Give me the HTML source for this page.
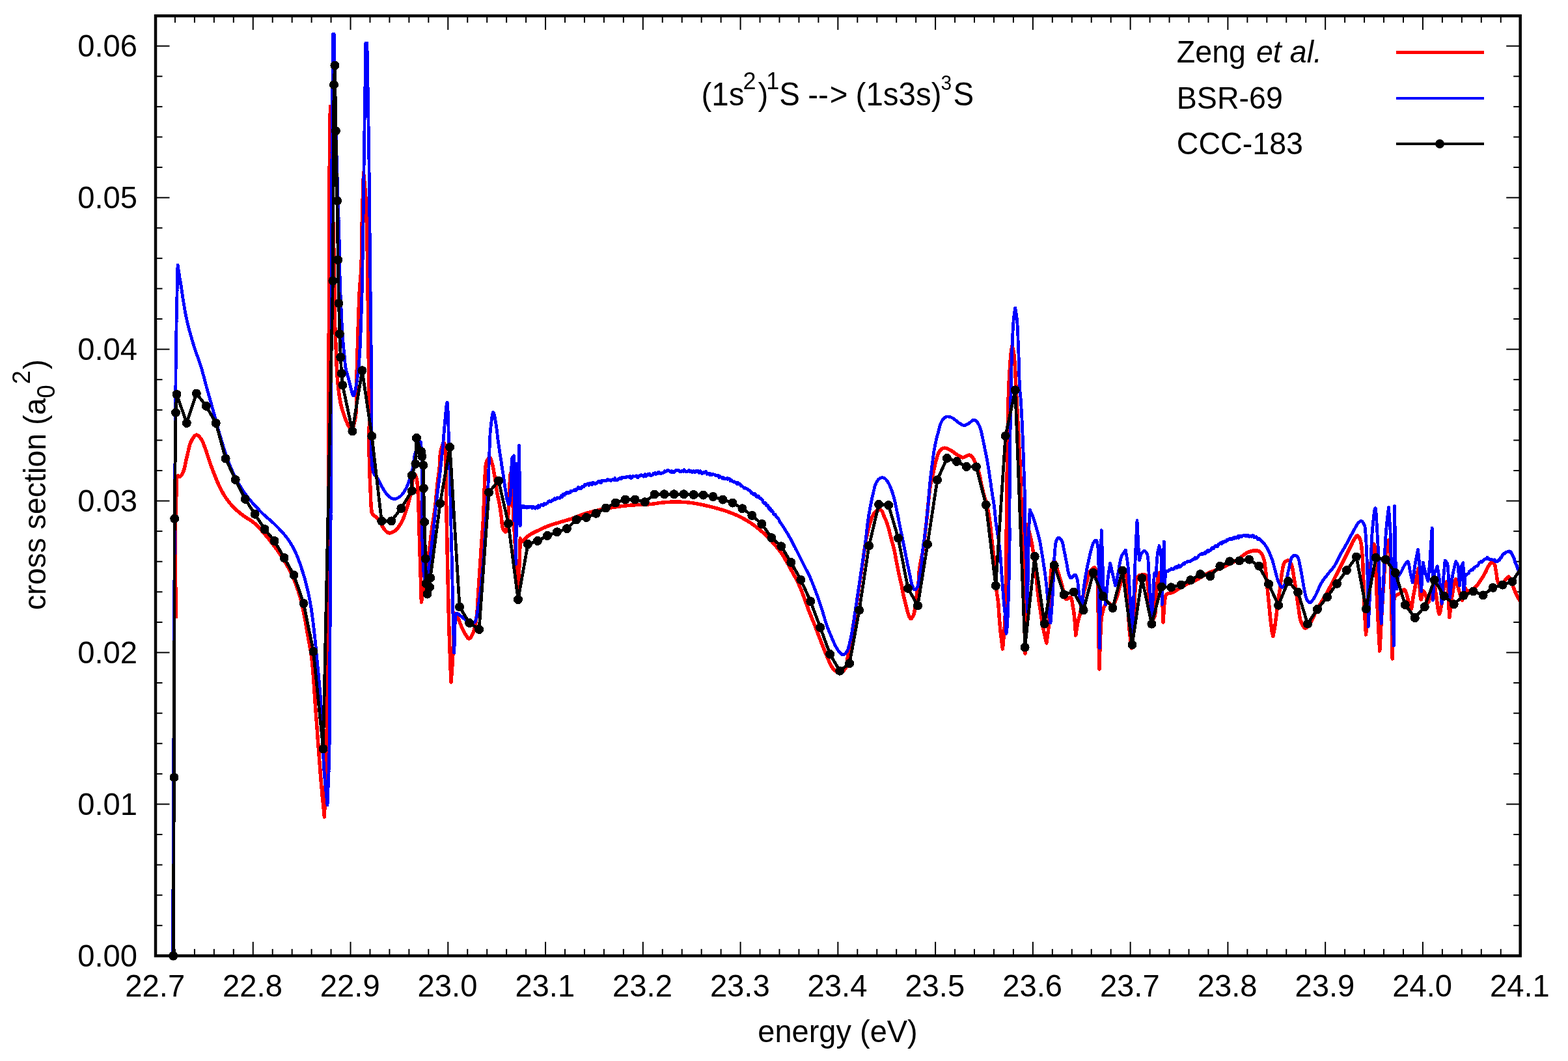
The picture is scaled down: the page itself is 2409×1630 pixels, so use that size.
<!DOCTYPE html>
<html lang="en"><head><meta charset="utf-8"><title>cross section</title>
<style>html,body{margin:0;padding:0;background:#fff}body{width:2409px;height:1630px;overflow:hidden}svg{display:block}text{font-family:"Liberation Sans", Arial, Helvetica, sans-serif;fill:#000}</style></head><body>
<svg width="2409" height="1630" viewBox="0 0 2409 1630">
<rect x="0" y="0" width="2409" height="1630" fill="#fff"/>
<defs><clipPath id="c"><rect x="239.0" y="24.4" width="2096.7" height="1444.1"/></clipPath></defs>
<g id="ticks" stroke="#000" stroke-width="2.0">
<line x1="268.95" y1="1468.40" x2="268.95" y2="1457.90"/>
<line x1="268.95" y1="24.35" x2="268.95" y2="34.85"/>
<line x1="298.91" y1="1468.40" x2="298.91" y2="1457.90"/>
<line x1="298.91" y1="24.35" x2="298.91" y2="34.85"/>
<line x1="328.86" y1="1468.40" x2="328.86" y2="1457.90"/>
<line x1="328.86" y1="24.35" x2="328.86" y2="34.85"/>
<line x1="358.81" y1="1468.40" x2="358.81" y2="1457.90"/>
<line x1="358.81" y1="24.35" x2="358.81" y2="34.85"/>
<line x1="388.76" y1="1468.40" x2="388.76" y2="1446.90"/>
<line x1="388.76" y1="24.35" x2="388.76" y2="45.85"/>
<line x1="418.72" y1="1468.40" x2="418.72" y2="1457.90"/>
<line x1="418.72" y1="24.35" x2="418.72" y2="34.85"/>
<line x1="448.67" y1="1468.40" x2="448.67" y2="1457.90"/>
<line x1="448.67" y1="24.35" x2="448.67" y2="34.85"/>
<line x1="478.62" y1="1468.40" x2="478.62" y2="1457.90"/>
<line x1="478.62" y1="24.35" x2="478.62" y2="34.85"/>
<line x1="508.58" y1="1468.40" x2="508.58" y2="1457.90"/>
<line x1="508.58" y1="24.35" x2="508.58" y2="34.85"/>
<line x1="538.53" y1="1468.40" x2="538.53" y2="1446.90"/>
<line x1="538.53" y1="24.35" x2="538.53" y2="45.85"/>
<line x1="568.48" y1="1468.40" x2="568.48" y2="1457.90"/>
<line x1="568.48" y1="24.35" x2="568.48" y2="34.85"/>
<line x1="598.43" y1="1468.40" x2="598.43" y2="1457.90"/>
<line x1="598.43" y1="24.35" x2="598.43" y2="34.85"/>
<line x1="628.39" y1="1468.40" x2="628.39" y2="1457.90"/>
<line x1="628.39" y1="24.35" x2="628.39" y2="34.85"/>
<line x1="658.34" y1="1468.40" x2="658.34" y2="1457.90"/>
<line x1="658.34" y1="24.35" x2="658.34" y2="34.85"/>
<line x1="688.29" y1="1468.40" x2="688.29" y2="1446.90"/>
<line x1="688.29" y1="24.35" x2="688.29" y2="45.85"/>
<line x1="718.25" y1="1468.40" x2="718.25" y2="1457.90"/>
<line x1="718.25" y1="24.35" x2="718.25" y2="34.85"/>
<line x1="748.20" y1="1468.40" x2="748.20" y2="1457.90"/>
<line x1="748.20" y1="24.35" x2="748.20" y2="34.85"/>
<line x1="778.15" y1="1468.40" x2="778.15" y2="1457.90"/>
<line x1="778.15" y1="24.35" x2="778.15" y2="34.85"/>
<line x1="808.10" y1="1468.40" x2="808.10" y2="1457.90"/>
<line x1="808.10" y1="24.35" x2="808.10" y2="34.85"/>
<line x1="838.06" y1="1468.40" x2="838.06" y2="1446.90"/>
<line x1="838.06" y1="24.35" x2="838.06" y2="45.85"/>
<line x1="868.01" y1="1468.40" x2="868.01" y2="1457.90"/>
<line x1="868.01" y1="24.35" x2="868.01" y2="34.85"/>
<line x1="897.96" y1="1468.40" x2="897.96" y2="1457.90"/>
<line x1="897.96" y1="24.35" x2="897.96" y2="34.85"/>
<line x1="927.92" y1="1468.40" x2="927.92" y2="1457.90"/>
<line x1="927.92" y1="24.35" x2="927.92" y2="34.85"/>
<line x1="957.87" y1="1468.40" x2="957.87" y2="1457.90"/>
<line x1="957.87" y1="24.35" x2="957.87" y2="34.85"/>
<line x1="987.82" y1="1468.40" x2="987.82" y2="1446.90"/>
<line x1="987.82" y1="24.35" x2="987.82" y2="45.85"/>
<line x1="1017.77" y1="1468.40" x2="1017.77" y2="1457.90"/>
<line x1="1017.77" y1="24.35" x2="1017.77" y2="34.85"/>
<line x1="1047.73" y1="1468.40" x2="1047.73" y2="1457.90"/>
<line x1="1047.73" y1="24.35" x2="1047.73" y2="34.85"/>
<line x1="1077.68" y1="1468.40" x2="1077.68" y2="1457.90"/>
<line x1="1077.68" y1="24.35" x2="1077.68" y2="34.85"/>
<line x1="1107.63" y1="1468.40" x2="1107.63" y2="1457.90"/>
<line x1="1107.63" y1="24.35" x2="1107.63" y2="34.85"/>
<line x1="1137.59" y1="1468.40" x2="1137.59" y2="1446.90"/>
<line x1="1137.59" y1="24.35" x2="1137.59" y2="45.85"/>
<line x1="1167.54" y1="1468.40" x2="1167.54" y2="1457.90"/>
<line x1="1167.54" y1="24.35" x2="1167.54" y2="34.85"/>
<line x1="1197.49" y1="1468.40" x2="1197.49" y2="1457.90"/>
<line x1="1197.49" y1="24.35" x2="1197.49" y2="34.85"/>
<line x1="1227.44" y1="1468.40" x2="1227.44" y2="1457.90"/>
<line x1="1227.44" y1="24.35" x2="1227.44" y2="34.85"/>
<line x1="1257.40" y1="1468.40" x2="1257.40" y2="1457.90"/>
<line x1="1257.40" y1="24.35" x2="1257.40" y2="34.85"/>
<line x1="1287.35" y1="1468.40" x2="1287.35" y2="1446.90"/>
<line x1="1287.35" y1="24.35" x2="1287.35" y2="45.85"/>
<line x1="1317.30" y1="1468.40" x2="1317.30" y2="1457.90"/>
<line x1="1317.30" y1="24.35" x2="1317.30" y2="34.85"/>
<line x1="1347.26" y1="1468.40" x2="1347.26" y2="1457.90"/>
<line x1="1347.26" y1="24.35" x2="1347.26" y2="34.85"/>
<line x1="1377.21" y1="1468.40" x2="1377.21" y2="1457.90"/>
<line x1="1377.21" y1="24.35" x2="1377.21" y2="34.85"/>
<line x1="1407.16" y1="1468.40" x2="1407.16" y2="1457.90"/>
<line x1="1407.16" y1="24.35" x2="1407.16" y2="34.85"/>
<line x1="1437.11" y1="1468.40" x2="1437.11" y2="1446.90"/>
<line x1="1437.11" y1="24.35" x2="1437.11" y2="45.85"/>
<line x1="1467.07" y1="1468.40" x2="1467.07" y2="1457.90"/>
<line x1="1467.07" y1="24.35" x2="1467.07" y2="34.85"/>
<line x1="1497.02" y1="1468.40" x2="1497.02" y2="1457.90"/>
<line x1="1497.02" y1="24.35" x2="1497.02" y2="34.85"/>
<line x1="1526.97" y1="1468.40" x2="1526.97" y2="1457.90"/>
<line x1="1526.97" y1="24.35" x2="1526.97" y2="34.85"/>
<line x1="1556.93" y1="1468.40" x2="1556.93" y2="1457.90"/>
<line x1="1556.93" y1="24.35" x2="1556.93" y2="34.85"/>
<line x1="1586.88" y1="1468.40" x2="1586.88" y2="1446.90"/>
<line x1="1586.88" y1="24.35" x2="1586.88" y2="45.85"/>
<line x1="1616.83" y1="1468.40" x2="1616.83" y2="1457.90"/>
<line x1="1616.83" y1="24.35" x2="1616.83" y2="34.85"/>
<line x1="1646.78" y1="1468.40" x2="1646.78" y2="1457.90"/>
<line x1="1646.78" y1="24.35" x2="1646.78" y2="34.85"/>
<line x1="1676.74" y1="1468.40" x2="1676.74" y2="1457.90"/>
<line x1="1676.74" y1="24.35" x2="1676.74" y2="34.85"/>
<line x1="1706.69" y1="1468.40" x2="1706.69" y2="1457.90"/>
<line x1="1706.69" y1="24.35" x2="1706.69" y2="34.85"/>
<line x1="1736.64" y1="1468.40" x2="1736.64" y2="1446.90"/>
<line x1="1736.64" y1="24.35" x2="1736.64" y2="45.85"/>
<line x1="1766.60" y1="1468.40" x2="1766.60" y2="1457.90"/>
<line x1="1766.60" y1="24.35" x2="1766.60" y2="34.85"/>
<line x1="1796.55" y1="1468.40" x2="1796.55" y2="1457.90"/>
<line x1="1796.55" y1="24.35" x2="1796.55" y2="34.85"/>
<line x1="1826.50" y1="1468.40" x2="1826.50" y2="1457.90"/>
<line x1="1826.50" y1="24.35" x2="1826.50" y2="34.85"/>
<line x1="1856.45" y1="1468.40" x2="1856.45" y2="1457.90"/>
<line x1="1856.45" y1="24.35" x2="1856.45" y2="34.85"/>
<line x1="1886.41" y1="1468.40" x2="1886.41" y2="1446.90"/>
<line x1="1886.41" y1="24.35" x2="1886.41" y2="45.85"/>
<line x1="1916.36" y1="1468.40" x2="1916.36" y2="1457.90"/>
<line x1="1916.36" y1="24.35" x2="1916.36" y2="34.85"/>
<line x1="1946.31" y1="1468.40" x2="1946.31" y2="1457.90"/>
<line x1="1946.31" y1="24.35" x2="1946.31" y2="34.85"/>
<line x1="1976.27" y1="1468.40" x2="1976.27" y2="1457.90"/>
<line x1="1976.27" y1="24.35" x2="1976.27" y2="34.85"/>
<line x1="2006.22" y1="1468.40" x2="2006.22" y2="1457.90"/>
<line x1="2006.22" y1="24.35" x2="2006.22" y2="34.85"/>
<line x1="2036.17" y1="1468.40" x2="2036.17" y2="1446.90"/>
<line x1="2036.17" y1="24.35" x2="2036.17" y2="45.85"/>
<line x1="2066.12" y1="1468.40" x2="2066.12" y2="1457.90"/>
<line x1="2066.12" y1="24.35" x2="2066.12" y2="34.85"/>
<line x1="2096.08" y1="1468.40" x2="2096.08" y2="1457.90"/>
<line x1="2096.08" y1="24.35" x2="2096.08" y2="34.85"/>
<line x1="2126.03" y1="1468.40" x2="2126.03" y2="1457.90"/>
<line x1="2126.03" y1="24.35" x2="2126.03" y2="34.85"/>
<line x1="2155.98" y1="1468.40" x2="2155.98" y2="1457.90"/>
<line x1="2155.98" y1="24.35" x2="2155.98" y2="34.85"/>
<line x1="2185.94" y1="1468.40" x2="2185.94" y2="1446.90"/>
<line x1="2185.94" y1="24.35" x2="2185.94" y2="45.85"/>
<line x1="2215.89" y1="1468.40" x2="2215.89" y2="1457.90"/>
<line x1="2215.89" y1="24.35" x2="2215.89" y2="34.85"/>
<line x1="2245.84" y1="1468.40" x2="2245.84" y2="1457.90"/>
<line x1="2245.84" y1="24.35" x2="2245.84" y2="34.85"/>
<line x1="2275.79" y1="1468.40" x2="2275.79" y2="1457.90"/>
<line x1="2275.79" y1="24.35" x2="2275.79" y2="34.85"/>
<line x1="2305.75" y1="1468.40" x2="2305.75" y2="1457.90"/>
<line x1="2305.75" y1="24.35" x2="2305.75" y2="34.85"/>
<line x1="239.00" y1="1421.81" x2="249.50" y2="1421.81"/>
<line x1="2335.70" y1="1421.81" x2="2325.20" y2="1421.81"/>
<line x1="239.00" y1="1375.22" x2="249.50" y2="1375.22"/>
<line x1="2335.70" y1="1375.22" x2="2325.20" y2="1375.22"/>
<line x1="239.00" y1="1328.63" x2="249.50" y2="1328.63"/>
<line x1="2335.70" y1="1328.63" x2="2325.20" y2="1328.63"/>
<line x1="239.00" y1="1282.04" x2="249.50" y2="1282.04"/>
<line x1="2335.70" y1="1282.04" x2="2325.20" y2="1282.04"/>
<line x1="239.00" y1="1235.45" x2="260.50" y2="1235.45"/>
<line x1="2335.70" y1="1235.45" x2="2314.20" y2="1235.45"/>
<line x1="239.00" y1="1188.86" x2="249.50" y2="1188.86"/>
<line x1="2335.70" y1="1188.86" x2="2325.20" y2="1188.86"/>
<line x1="239.00" y1="1142.27" x2="249.50" y2="1142.27"/>
<line x1="2335.70" y1="1142.27" x2="2325.20" y2="1142.27"/>
<line x1="239.00" y1="1095.68" x2="249.50" y2="1095.68"/>
<line x1="2335.70" y1="1095.68" x2="2325.20" y2="1095.68"/>
<line x1="239.00" y1="1049.09" x2="249.50" y2="1049.09"/>
<line x1="2335.70" y1="1049.09" x2="2325.20" y2="1049.09"/>
<line x1="239.00" y1="1002.50" x2="260.50" y2="1002.50"/>
<line x1="2335.70" y1="1002.50" x2="2314.20" y2="1002.50"/>
<line x1="239.00" y1="955.91" x2="249.50" y2="955.91"/>
<line x1="2335.70" y1="955.91" x2="2325.20" y2="955.91"/>
<line x1="239.00" y1="909.32" x2="249.50" y2="909.32"/>
<line x1="2335.70" y1="909.32" x2="2325.20" y2="909.32"/>
<line x1="239.00" y1="862.73" x2="249.50" y2="862.73"/>
<line x1="2335.70" y1="862.73" x2="2325.20" y2="862.73"/>
<line x1="239.00" y1="816.14" x2="249.50" y2="816.14"/>
<line x1="2335.70" y1="816.14" x2="2325.20" y2="816.14"/>
<line x1="239.00" y1="769.55" x2="260.50" y2="769.55"/>
<line x1="2335.70" y1="769.55" x2="2314.20" y2="769.55"/>
<line x1="239.00" y1="722.96" x2="249.50" y2="722.96"/>
<line x1="2335.70" y1="722.96" x2="2325.20" y2="722.96"/>
<line x1="239.00" y1="676.37" x2="249.50" y2="676.37"/>
<line x1="2335.70" y1="676.37" x2="2325.20" y2="676.37"/>
<line x1="239.00" y1="629.78" x2="249.50" y2="629.78"/>
<line x1="2335.70" y1="629.78" x2="2325.20" y2="629.78"/>
<line x1="239.00" y1="583.19" x2="249.50" y2="583.19"/>
<line x1="2335.70" y1="583.19" x2="2325.20" y2="583.19"/>
<line x1="239.00" y1="536.60" x2="260.50" y2="536.60"/>
<line x1="2335.70" y1="536.60" x2="2314.20" y2="536.60"/>
<line x1="239.00" y1="490.01" x2="249.50" y2="490.01"/>
<line x1="2335.70" y1="490.01" x2="2325.20" y2="490.01"/>
<line x1="239.00" y1="443.42" x2="249.50" y2="443.42"/>
<line x1="2335.70" y1="443.42" x2="2325.20" y2="443.42"/>
<line x1="239.00" y1="396.83" x2="249.50" y2="396.83"/>
<line x1="2335.70" y1="396.83" x2="2325.20" y2="396.83"/>
<line x1="239.00" y1="350.24" x2="249.50" y2="350.24"/>
<line x1="2335.70" y1="350.24" x2="2325.20" y2="350.24"/>
<line x1="239.00" y1="303.65" x2="260.50" y2="303.65"/>
<line x1="2335.70" y1="303.65" x2="2314.20" y2="303.65"/>
<line x1="239.00" y1="257.06" x2="249.50" y2="257.06"/>
<line x1="2335.70" y1="257.06" x2="2325.20" y2="257.06"/>
<line x1="239.00" y1="210.47" x2="249.50" y2="210.47"/>
<line x1="2335.70" y1="210.47" x2="2325.20" y2="210.47"/>
<line x1="239.00" y1="163.88" x2="249.50" y2="163.88"/>
<line x1="2335.70" y1="163.88" x2="2325.20" y2="163.88"/>
<line x1="239.00" y1="117.29" x2="249.50" y2="117.29"/>
<line x1="2335.70" y1="117.29" x2="2325.20" y2="117.29"/>
<line x1="239.00" y1="70.70" x2="260.50" y2="70.70"/>
<line x1="2335.70" y1="70.70" x2="2314.20" y2="70.70"/>
</g>
<g id="curves" shape-rendering="crispEdges">
<g clip-path="url(#c)">
<path d="M270.4 950.0 L269.6 890.0 L269.4 815.0 L271.5 735.0 L272.1 733.4 L272.7 731.9 L273.5 731.0 L274.8 731.7 L276.2 732.5 L277.2 731.9 L278.3 730.8 L279.3 729.3 L280.3 727.4 L281.2 725.5 L281.8 724.1 L282.4 722.5 L282.9 720.8 L283.4 719.0 L283.9 717.0 L284.3 715.0 L284.8 712.9 L285.2 710.8 L285.7 708.6 L286.1 706.5 L286.6 704.4 L287.0 702.4 L287.5 700.5 L288.0 698.5 L288.5 696.6 L288.9 694.5 L289.4 692.5 L289.8 690.5 L290.3 688.5 L290.8 686.6 L291.3 684.7 L291.8 682.9 L292.4 681.1 L293.0 679.5 L293.8 678.0 L294.7 676.1 L295.8 674.2 L297.0 672.3 L298.2 670.7 L299.4 669.3 L300.6 668.4 L301.8 668.0 L303.2 668.3 L304.6 669.3 L306.1 670.8 L307.5 672.5 L308.8 674.2 L309.7 675.6 L310.5 677.1 L311.3 678.8 L312.1 680.5 L312.8 682.3 L313.5 684.1 L314.3 686.1 L315.0 688.0 L315.6 689.7 L316.3 691.4 L316.9 693.2 L317.5 695.1 L318.1 697.0 L318.7 699.0 L319.4 700.9 L320.0 702.9 L320.6 704.8 L321.2 706.8 L321.9 708.7 L322.5 710.5 L323.2 712.4 L323.8 714.2 L324.5 716.1 L325.2 717.9 L325.9 719.8 L326.5 721.6 L327.2 723.4 L327.9 725.2 L328.6 727.0 L329.3 728.7 L330.0 730.5 L330.7 732.3 L331.4 734.1 L332.2 735.9 L332.9 737.6 L333.6 739.4 L334.3 741.1 L335.1 742.8 L335.9 744.6 L336.7 746.3 L337.5 748.0 L338.3 749.6 L339.1 751.2 L340.0 752.9 L340.9 754.5 L341.7 756.1 L342.6 757.7 L343.6 759.3 L344.5 760.9 L345.5 762.5 L346.5 764.0 L347.5 765.5 L348.6 767.1 L349.8 768.7 L351.0 770.2 L352.2 771.8 L353.4 773.3 L354.7 774.8 L356.0 776.3 L357.3 777.7 L358.6 779.1 L360.0 780.5 L361.4 781.9 L362.8 783.2 L364.3 784.5 L365.8 785.8 L367.3 787.0 L368.8 788.3 L370.4 789.5 L371.9 790.7 L373.5 791.8 L375.0 793.0 L376.5 794.1 L378.0 795.1 L379.5 796.0 L381.0 797.0 L382.5 797.9 L384.1 798.8 L385.6 799.8 L387.1 800.8 L388.5 801.8 L390.0 803.0 L391.4 804.2 L392.8 805.4 L394.1 806.7 L395.5 808.0 L396.8 809.3 L398.1 810.7 L399.4 812.2 L400.8 813.7 L402.1 815.2 L403.5 816.8 L405.0 818.5 L406.1 819.8 L407.2 821.1 L408.4 822.5 L409.5 823.9 L410.7 825.3 L412.0 826.8 L413.2 828.4 L414.4 829.9 L415.7 831.5 L416.9 833.1 L418.2 834.8 L419.5 836.4 L420.7 838.0 L421.9 839.7 L423.2 841.3 L424.4 843.0 L425.6 844.6 L426.7 846.2 L427.8 847.8 L428.9 849.4 L430.0 851.0 L431.1 852.7 L432.2 854.3 L433.3 856.0 L434.3 857.6 L435.4 859.3 L436.4 860.9 L437.4 862.5 L438.4 864.2 L439.4 865.8 L440.4 867.5 L441.3 869.2 L442.2 870.8 L443.1 872.5 L444.0 874.2 L444.9 875.9 L445.8 877.6 L446.7 879.3 L447.5 881.0 L448.3 882.7 L449.1 884.5 L449.9 886.3 L450.7 888.0 L451.5 889.8 L452.2 891.6 L453.0 893.4 L453.7 895.2 L454.4 897.1 L455.1 898.9 L455.7 900.7 L456.4 902.5 L457.0 904.4 L457.6 906.2 L458.3 908.0 L458.9 909.8 L459.4 911.7 L460.0 913.5 L460.6 915.4 L461.1 917.3 L461.6 919.2 L462.1 921.1 L462.6 923.0 L463.1 924.9 L463.5 926.8 L463.9 928.7 L464.3 930.6 L464.7 932.5 L465.1 934.4 L465.5 936.3 L465.9 938.2 L466.3 940.2 L466.7 942.1 L467.1 944.1 L467.5 946.0 L467.9 947.9 L468.3 949.8 L468.6 951.8 L469.0 953.7 L469.4 955.7 L469.7 957.7 L470.1 959.7 L470.4 961.6 L470.8 963.6 L471.1 965.6 L471.5 967.6 L471.8 969.5 L472.1 971.5 L472.4 973.4 L472.8 975.3 L473.1 977.2 L473.4 979.1 L473.8 981.0 L474.1 983.0 L474.4 984.9 L474.8 986.7 L475.1 988.5 L475.5 990.2 L475.8 992.0 L476.1 993.7 L476.5 995.5 L476.8 997.3 L477.1 999.2 L477.4 1001.1 L477.8 1003.2 L478.1 1005.3 L478.4 1007.6 L478.7 1010.0 L478.9 1011.7 L479.1 1013.5 L479.3 1015.4 L479.5 1017.3 L479.7 1019.2 L479.9 1021.2 L480.1 1023.3 L480.3 1025.4 L480.5 1027.6 L480.7 1029.8 L480.9 1032.1 L481.0 1034.4 L481.2 1036.7 L481.4 1039.1 L481.6 1041.5 L481.8 1043.9 L481.9 1046.4 L482.1 1048.8 L482.3 1051.3 L482.5 1053.9 L482.6 1056.4 L482.8 1059.0 L483.0 1061.6 L483.2 1064.1 L483.3 1066.7 L483.5 1069.3 L483.7 1071.9 L483.9 1074.6 L484.0 1077.2 L484.2 1079.8 L484.4 1082.3 L484.6 1084.9 L484.7 1087.5 L484.9 1090.1 L485.1 1092.6 L485.3 1095.1 L485.5 1097.6 L485.6 1100.1 L485.8 1102.6 L486.0 1105.0 L486.2 1107.5 L486.4 1110.0 L486.6 1112.6 L486.8 1115.1 L487.0 1117.7 L487.2 1120.3 L487.4 1122.9 L487.5 1125.6 L487.7 1128.2 L487.9 1130.9 L488.1 1133.5 L488.3 1136.2 L488.5 1138.9 L488.7 1141.6 L488.9 1144.2 L489.1 1146.9 L489.3 1149.6 L489.5 1152.3 L489.7 1154.9 L489.9 1157.6 L490.1 1160.2 L490.3 1162.8 L490.5 1165.5 L490.7 1168.1 L490.9 1170.6 L491.1 1173.2 L491.3 1175.7 L491.5 1178.3 L491.7 1180.8 L491.9 1183.2 L492.0 1185.7 L492.2 1188.1 L492.4 1190.4 L492.6 1192.8 L492.8 1195.1 L493.0 1197.4 L493.2 1199.6 L493.3 1201.8 L493.5 1203.9 L493.7 1206.0 L493.9 1208.3 L494.1 1210.5 L494.3 1212.7 L494.5 1214.8 L494.7 1216.9 L494.9 1219.0 L495.1 1221.0 L495.2 1223.0 L495.4 1224.9 L495.6 1226.9 L495.8 1228.8 L496.0 1230.7 L496.2 1232.5 L496.4 1234.4 L496.5 1236.2 L496.7 1238.1 L496.9 1239.9 L497.1 1241.8 L497.3 1243.6 L497.5 1245.5 L497.7 1247.3 L497.8 1249.2 L498.0 1251.1 L498.2 1253.1 L498.4 1255.0 L498.5 1252.6 L498.6 1250.3 L498.6 1247.9 L498.7 1245.6 L498.8 1243.3 L498.9 1241.0 L499.0 1238.6 L499.0 1236.3 L499.1 1234.0 L499.2 1231.8 L499.3 1229.5 L499.4 1227.2 L499.5 1224.9 L499.5 1222.6 L499.6 1220.3 L499.7 1218.0 L499.8 1215.7 L499.9 1213.5 L500.0 1211.2 L500.0 1208.9 L500.1 1206.5 L500.2 1204.2 L500.3 1201.9 L500.4 1199.6 L500.4 1197.2 L500.5 1194.8 L500.6 1192.5 L500.7 1190.1 L500.7 1187.7 L500.8 1185.3 L500.9 1182.8 L501.0 1180.4 L501.0 1177.9 L501.1 1175.4 L501.2 1172.9 L501.2 1170.4 L501.3 1167.8 L501.4 1165.2 L501.4 1162.6 L501.5 1160.0 L501.6 1156.7 L501.6 1153.3 L501.7 1149.9 L501.8 1146.5 L501.9 1143.0 L501.9 1139.5 L502.0 1136.0 L502.1 1132.5 L502.1 1128.9 L502.2 1125.4 L502.2 1121.8 L502.3 1118.1 L502.3 1114.5 L502.4 1110.8 L502.5 1107.1 L502.5 1103.4 L502.6 1099.7 L502.6 1095.9 L502.7 1092.2 L502.7 1088.4 L502.8 1084.6 L502.8 1080.8 L502.8 1076.9 L502.9 1073.1 L502.9 1069.2 L503.0 1065.3 L503.0 1061.5 L503.1 1057.5 L503.1 1053.6 L503.1 1049.7 L503.2 1045.8 L503.2 1041.8 L503.2 1037.9 L503.3 1033.9 L503.3 1029.9 L503.4 1026.0 L503.4 1022.0 L503.4 1018.0 L503.5 1014.0 L503.5 1010.0 L503.5 1005.4 L503.6 1000.8 L503.6 996.1 L503.6 991.5 L503.7 986.8 L503.7 982.0 L503.7 977.3 L503.8 972.5 L503.8 967.7 L503.8 962.8 L503.8 958.0 L503.9 953.1 L503.9 948.2 L503.9 943.3 L503.9 938.4 L503.9 933.5 L504.0 928.5 L504.0 923.6 L504.0 918.6 L504.0 913.6 L504.0 908.7 L504.0 903.7 L504.0 898.7 L504.1 893.7 L504.1 888.7 L504.1 883.6 L504.1 878.6 L504.1 873.6 L504.1 868.6 L504.1 863.6 L504.2 858.6 L504.2 853.6 L504.2 848.6 L504.2 843.7 L504.2 838.7 L504.2 833.7 L504.2 828.8 L504.3 823.8 L504.3 818.9 L504.3 814.0 L504.3 809.1 L504.3 804.2 L504.4 799.3 L504.4 794.4 L504.4 789.5 L504.4 784.6 L504.4 779.7 L504.4 774.8 L504.5 769.9 L504.5 765.0 L504.5 760.1 L504.5 755.2 L504.5 750.3 L504.6 745.4 L504.6 740.5 L504.6 735.6 L504.6 730.7 L504.6 725.8 L504.7 720.9 L504.7 716.0 L504.7 711.1 L504.7 706.2 L504.7 701.3 L504.7 696.4 L504.8 691.5 L504.8 686.6 L504.8 681.7 L504.8 676.8 L504.8 671.9 L504.8 667.0 L504.9 662.1 L504.9 657.2 L504.9 652.3 L504.9 647.4 L504.9 642.5 L504.9 637.6 L505.0 632.7 L505.0 627.8 L505.0 622.9 L505.0 618.0 L505.0 613.1 L505.0 608.2 L505.0 603.3 L505.1 598.4 L505.1 593.5 L505.1 588.6 L505.1 583.7 L505.1 578.8 L505.1 573.9 L505.1 569.0 L505.1 564.1 L505.1 559.2 L505.2 554.3 L505.2 549.4 L505.2 544.5 L505.2 539.6 L505.2 534.7 L505.2 529.8 L505.2 524.9 L505.2 520.0 L505.2 515.1 L505.3 510.2 L505.3 505.3 L505.3 500.4 L505.3 495.5 L505.3 490.6 L505.3 485.7 L505.3 480.8 L505.3 475.9 L505.3 471.0 L505.4 466.1 L505.4 461.2 L505.4 456.3 L505.4 451.4 L505.4 446.5 L505.4 441.6 L505.4 436.7 L505.5 431.8 L505.5 426.9 L505.5 422.0 L505.5 417.1 L505.5 412.1 L505.6 407.0 L505.6 401.9 L505.6 396.8 L505.6 391.6 L505.6 386.3 L505.7 381.1 L505.7 375.8 L505.7 370.4 L505.7 365.1 L505.7 359.8 L505.8 354.4 L505.8 349.1 L505.8 343.7 L505.8 338.4 L505.9 333.0 L505.9 327.7 L505.9 322.4 L505.9 317.2 L505.9 312.0 L506.0 306.8 L506.0 301.6 L506.0 296.5 L506.0 291.5 L506.1 286.5 L506.1 281.6 L506.1 276.8 L506.2 272.0 L506.2 267.3 L506.2 262.7 L506.2 258.2 L506.3 253.8 L506.3 249.5 L506.3 245.3 L506.4 241.2 L506.4 237.2 L506.4 233.3 L506.5 229.6 L506.5 226.0 L506.5 223.5 L506.5 221.1 L506.6 218.8 L506.6 216.5 L506.6 214.3 L506.7 212.1 L506.7 210.0 L506.7 207.9 L506.7 205.9 L506.8 203.9 L506.8 201.9 L506.8 200.0 L506.8 198.1 L506.9 196.2 L506.9 194.4 L506.9 192.6 L507.0 190.8 L507.0 189.0 L507.0 187.2 L507.1 185.4 L507.1 183.6 L507.1 181.9 L507.1 180.1 L507.2 178.3 L507.2 176.5 L507.2 174.7 L507.3 172.9 L507.3 171.1 L507.3 169.2 L507.3 167.3 L507.4 165.4 L507.4 163.5 L507.4 165.4 L507.5 167.4 L507.5 169.3 L507.6 171.2 L507.6 173.1 L507.7 175.0 L507.7 176.9 L507.8 178.8 L507.8 180.6 L507.9 182.5 L507.9 184.4 L508.0 186.2 L508.0 188.1 L508.1 190.0 L508.1 191.9 L508.2 193.8 L508.2 195.7 L508.3 197.6 L508.3 199.5 L508.4 201.4 L508.4 203.3 L508.5 205.3 L508.5 207.3 L508.6 209.3 L508.6 211.3 L508.7 213.3 L508.7 215.4 L508.8 217.4 L508.8 219.5 L508.9 221.7 L508.9 223.8 L509.0 226.0 L509.1 228.3 L509.1 230.6 L509.2 233.0 L509.2 235.4 L509.3 237.8 L509.4 240.2 L509.4 242.7 L509.5 245.2 L509.5 247.7 L509.6 250.3 L509.7 252.9 L509.7 255.5 L509.8 258.1 L509.8 260.7 L509.9 263.4 L510.0 266.0 L510.0 268.7 L510.1 271.4 L510.2 274.1 L510.2 276.8 L510.3 279.5 L510.4 282.2 L510.4 284.9 L510.5 287.6 L510.6 290.3 L510.6 293.0 L510.7 295.7 L510.8 298.4 L510.8 301.1 L510.9 303.8 L510.9 306.5 L511.0 309.2 L511.1 311.8 L511.1 314.5 L511.2 317.1 L511.3 319.7 L511.3 322.3 L511.4 324.9 L511.4 327.5 L511.5 330.0 L511.6 332.4 L511.6 334.7 L511.7 337.1 L511.7 339.5 L511.8 341.9 L511.8 344.3 L511.9 346.7 L512.0 349.1 L512.0 351.4 L512.1 353.8 L512.1 356.2 L512.2 358.6 L512.3 361.0 L512.3 363.3 L512.4 365.7 L512.4 368.1 L512.5 370.4 L512.5 372.8 L512.6 375.1 L512.7 377.5 L512.7 379.8 L512.8 382.1 L512.8 384.5 L512.9 386.8 L512.9 389.1 L513.0 391.4 L513.0 393.6 L513.1 395.9 L513.1 398.2 L513.2 400.4 L513.2 402.6 L513.3 404.8 L513.3 407.0 L513.4 409.2 L513.4 411.4 L513.5 413.6 L513.5 415.7 L513.5 417.8 L513.6 419.9 L513.6 422.0 L513.6 424.1 L513.7 426.2 L513.7 428.3 L513.7 430.4 L513.7 432.4 L513.8 434.5 L513.8 436.5 L513.8 438.5 L513.8 440.5 L513.8 442.5 L513.8 444.5 L513.8 446.4 L513.8 448.4 L513.8 450.3 L513.9 452.3 L513.9 454.2 L513.9 456.1 L513.9 458.0 L513.9 459.9 L513.9 461.8 L513.9 463.7 L513.9 465.5 L513.9 467.4 L514.0 469.3 L514.0 471.1 L514.0 473.0 L514.0 474.8 L514.1 476.7 L514.1 478.5 L514.1 480.3 L514.2 482.2 L514.2 484.0 L514.2 486.0 L514.3 488.0 L514.4 490.0 L514.4 492.0 L514.5 494.0 L514.5 495.9 L514.6 497.8 L514.7 499.8 L514.7 501.7 L514.8 503.6 L514.9 505.5 L515.0 507.4 L515.0 509.3 L515.1 511.2 L515.2 513.1 L515.3 515.0 L515.3 516.9 L515.4 518.8 L515.5 520.7 L515.6 522.6 L515.7 524.5 L515.8 526.4 L515.8 528.3 L515.9 530.2 L516.0 532.1 L516.1 534.0 L516.2 535.9 L516.3 537.9 L516.3 539.8 L516.4 541.8 L516.5 543.8 L516.6 545.7 L516.6 547.7 L516.7 549.7 L516.8 551.7 L516.9 553.7 L517.0 555.7 L517.0 557.6 L517.1 559.6 L517.2 561.6 L517.3 563.5 L517.4 565.5 L517.5 567.4 L517.6 569.3 L517.7 571.2 L517.8 573.1 L517.9 575.0 L518.0 576.8 L518.2 578.7 L518.3 580.5 L518.4 582.3 L518.6 584.0 L518.8 586.1 L519.0 588.1 L519.2 590.2 L519.4 592.3 L519.6 594.3 L519.8 596.3 L520.1 598.3 L520.3 600.3 L520.5 602.2 L520.8 604.1 L521.0 606.0 L521.3 607.9 L521.6 609.7 L521.8 611.4 L522.1 613.2 L522.4 614.8 L522.7 616.4 L523.0 618.0 L523.4 620.0 L523.8 622.0 L524.3 623.8 L524.7 625.5 L525.2 627.2 L525.7 628.8 L526.2 630.5 L526.7 632.2 L527.3 634.0 L527.9 635.7 L528.5 637.5 L529.1 639.4 L529.8 641.2 L530.5 643.1 L531.2 645.0 L531.9 646.8 L532.6 648.5 L533.4 650.1 L534.1 651.6 L534.8 653.0 L535.8 654.9 L536.9 656.9 L538.0 658.5 L539.0 659.7 L540.0 660.0 L540.6 659.7 L541.2 658.9 L541.8 657.7 L542.4 656.3 L543.0 654.5 L543.6 652.6 L544.1 650.4 L544.6 648.2 L545.1 645.8 L545.6 643.4 L546.0 641.1 L546.4 638.8 L546.7 636.7 L546.9 635.0 L547.1 633.3 L547.3 631.6 L547.4 629.8 L547.4 627.9 L547.5 626.1 L547.5 624.2 L547.6 622.2 L547.5 620.3 L547.5 618.3 L547.5 616.3 L547.5 614.4 L547.4 612.4 L547.4 610.4 L547.3 608.4 L547.3 606.4 L547.3 604.4 L547.3 602.5 L547.3 600.5 L547.3 598.6 L547.3 596.7 L547.4 594.7 L547.4 592.7 L547.5 590.8 L547.5 588.9 L547.6 586.9 L547.7 585.0 L547.7 583.1 L547.8 581.2 L547.9 579.3 L547.9 577.4 L548.0 575.5 L548.1 573.5 L548.2 571.6 L548.2 569.6 L548.3 567.5 L548.4 565.5 L548.5 563.4 L548.5 561.2 L548.6 559.0 L548.7 557.3 L548.7 555.5 L548.8 553.8 L548.8 551.9 L548.9 550.1 L548.9 548.2 L549.0 546.3 L549.0 544.4 L549.1 542.5 L549.1 540.5 L549.2 538.6 L549.2 536.6 L549.3 534.6 L549.4 532.6 L549.4 530.6 L549.5 528.5 L549.5 526.5 L549.6 524.5 L549.6 522.5 L549.7 520.4 L549.8 518.4 L549.8 516.4 L549.9 514.4 L549.9 512.4 L550.0 510.4 L550.0 508.4 L550.1 506.5 L550.2 504.5 L550.2 502.6 L550.3 500.7 L550.3 498.8 L550.4 497.0 L550.5 495.0 L550.5 493.0 L550.6 490.9 L550.7 488.9 L550.7 486.9 L550.8 484.9 L550.9 482.9 L550.9 480.9 L551.0 478.9 L551.1 476.9 L551.1 475.0 L551.2 473.0 L551.3 471.1 L551.3 469.1 L551.4 467.2 L551.5 465.3 L551.5 463.4 L551.6 461.5 L551.7 459.6 L551.8 457.8 L551.9 455.9 L551.9 454.1 L552.0 452.3 L552.1 450.5 L552.2 448.7 L552.3 447.0 L552.4 445.0 L552.5 443.0 L552.7 441.1 L552.8 439.3 L553.0 437.5 L553.1 435.7 L553.3 434.0 L553.4 432.3 L553.6 430.5 L553.7 428.8 L553.9 427.0 L554.0 425.2 L554.2 423.3 L554.3 421.4 L554.4 419.5 L554.6 417.4 L554.7 415.3 L554.8 413.0 L554.9 411.4 L554.9 409.7 L555.0 407.9 L555.1 406.1 L555.1 404.3 L555.2 402.4 L555.2 400.5 L555.3 398.6 L555.4 396.6 L555.4 394.6 L555.4 392.5 L555.5 390.5 L555.5 388.4 L555.6 386.2 L555.6 384.1 L555.6 381.9 L555.7 379.8 L555.7 377.6 L555.7 375.4 L555.8 373.1 L555.8 370.9 L555.8 368.7 L555.9 366.5 L555.9 364.2 L555.9 362.0 L556.0 359.8 L556.0 357.5 L556.0 355.3 L556.1 353.1 L556.1 350.9 L556.1 348.7 L556.2 346.5 L556.2 344.4 L556.2 342.2 L556.3 340.1 L556.3 338.1 L556.4 336.0 L556.4 334.0 L556.5 332.0 L556.5 330.0 L556.6 327.9 L556.6 325.8 L556.7 323.8 L556.7 321.7 L556.8 319.7 L556.8 317.7 L556.9 315.7 L557.0 313.7 L557.0 311.7 L557.1 309.7 L557.1 307.7 L557.2 305.8 L557.3 303.8 L557.3 301.9 L557.4 299.9 L557.4 298.0 L557.5 296.0 L557.6 294.1 L557.6 292.2 L557.7 290.2 L557.8 288.3 L557.8 286.4 L557.9 284.4 L557.9 282.5 L558.0 280.6 L558.1 278.6 L558.1 276.7 L558.2 274.8 L558.3 272.8 L558.3 270.9 L558.4 268.9 L558.4 267.0 L558.5 265.0 L558.7 266.9 L558.8 268.8 L559.0 270.6 L559.2 272.5 L559.4 274.3 L559.6 276.2 L559.7 278.0 L559.9 279.9 L560.1 281.7 L560.3 283.6 L560.5 285.4 L560.6 287.3 L560.8 289.2 L561.0 291.1 L561.1 293.0 L561.3 295.0 L561.4 297.0 L561.6 299.0 L561.7 301.0 L561.8 302.8 L561.9 304.6 L562.0 306.3 L562.1 308.1 L562.2 310.0 L562.3 311.8 L562.4 313.6 L562.4 315.5 L562.5 317.4 L562.6 319.2 L562.6 321.1 L562.7 323.0 L562.8 324.9 L562.8 326.9 L562.9 328.8 L563.0 330.8 L563.0 332.7 L563.1 334.7 L563.1 336.7 L563.2 338.7 L563.2 340.7 L563.3 342.7 L563.3 344.8 L563.4 346.8 L563.4 348.9 L563.5 351.0 L563.5 352.8 L563.6 354.6 L563.6 356.4 L563.7 358.3 L563.7 360.1 L563.8 361.9 L563.8 363.8 L563.9 365.6 L563.9 367.5 L563.9 369.4 L564.0 371.3 L564.0 373.1 L564.0 375.1 L564.1 377.0 L564.1 378.9 L564.2 380.8 L564.2 382.8 L564.2 384.7 L564.3 386.7 L564.3 388.7 L564.3 390.6 L564.4 392.6 L564.4 394.7 L564.4 396.7 L564.5 398.7 L564.5 400.8 L564.5 402.8 L564.5 404.9 L564.6 407.0 L564.6 409.1 L564.6 411.2 L564.7 413.3 L564.7 415.5 L564.7 417.6 L564.8 419.8 L564.8 422.0 L564.8 424.5 L564.9 427.0 L564.9 429.6 L564.9 432.2 L565.0 434.9 L565.0 437.6 L565.0 440.3 L565.1 443.0 L565.1 445.8 L565.1 448.6 L565.2 451.4 L565.2 454.2 L565.2 457.1 L565.2 460.0 L565.3 462.8 L565.3 465.7 L565.3 468.6 L565.4 471.6 L565.4 474.5 L565.4 477.4 L565.4 480.3 L565.5 483.3 L565.5 486.2 L565.5 489.1 L565.5 492.1 L565.6 495.0 L565.6 497.9 L565.6 500.8 L565.7 503.7 L565.7 506.5 L565.7 509.4 L565.7 512.2 L565.8 515.0 L565.8 517.8 L565.8 520.6 L565.9 523.3 L565.9 526.0 L565.9 528.7 L566.0 531.4 L566.0 534.0 L566.0 536.2 L566.1 538.5 L566.1 540.7 L566.1 542.9 L566.2 545.1 L566.2 547.2 L566.2 549.4 L566.3 551.5 L566.3 553.7 L566.3 555.8 L566.4 557.9 L566.4 560.0 L566.5 562.1 L566.5 564.2 L566.5 566.3 L566.6 568.4 L566.6 570.5 L566.6 572.5 L566.7 574.6 L566.7 576.7 L566.8 578.7 L566.8 580.8 L566.8 582.8 L566.9 584.9 L566.9 586.9 L566.9 589.0 L567.0 591.0 L567.0 593.1 L567.0 595.1 L567.1 597.2 L567.1 599.2 L567.1 601.3 L567.1 603.4 L567.2 605.4 L567.2 607.5 L567.2 609.6 L567.2 611.7 L567.3 613.8 L567.3 615.9 L567.3 618.0 L567.3 620.2 L567.3 622.3 L567.3 624.5 L567.3 626.7 L567.3 629.0 L567.3 631.2 L567.3 633.4 L567.3 635.7 L567.3 637.9 L567.3 640.2 L567.3 642.5 L567.3 644.7 L567.3 647.0 L567.3 649.3 L567.3 651.6 L567.3 653.8 L567.2 656.1 L567.2 658.4 L567.2 660.6 L567.2 662.9 L567.2 665.2 L567.2 667.4 L567.2 669.6 L567.2 671.9 L567.1 674.1 L567.1 676.3 L567.1 678.4 L567.1 680.6 L567.1 682.8 L567.1 684.9 L567.1 687.0 L567.1 689.1 L567.1 691.2 L567.2 693.2 L567.2 695.3 L567.2 697.3 L567.2 699.2 L567.2 701.2 L567.3 703.1 L567.3 705.0 L567.3 707.2 L567.4 709.3 L567.4 711.5 L567.5 713.6 L567.6 715.7 L567.6 717.8 L567.7 719.9 L567.8 722.0 L567.8 724.0 L567.9 726.0 L568.0 728.0 L568.1 730.0 L568.2 731.9 L568.2 733.9 L568.3 735.8 L568.4 737.6 L568.5 739.5 L568.6 741.3 L568.7 743.1 L568.7 744.9 L568.8 746.7 L568.9 748.4 L569.0 750.1 L569.1 751.8 L569.1 753.4 L569.2 755.0 L569.3 757.2 L569.4 759.4 L569.4 761.6 L569.5 763.7 L569.6 765.8 L569.6 767.8 L569.7 769.7 L569.8 771.6 L569.9 773.4 L570.0 775.2 L570.1 776.9 L570.2 778.5 L570.4 780.0 L570.6 782.0 L570.8 783.8 L571.0 785.6 L571.2 787.2 L571.7 788.7 L572.3 790.0 L573.6 791.4 L575.2 792.5 L576.9 793.6 L578.5 795.0 L579.6 796.3 L580.7 797.8 L581.8 799.4 L582.9 801.1 L584.0 802.8 L585.0 804.5 L586.0 806.0 L587.0 807.7 L588.0 809.4 L588.9 811.1 L589.9 812.6 L591.0 814.0 L592.2 815.3 L593.5 816.6 L594.9 817.7 L596.4 818.6 L597.9 819.0 L599.5 818.9 L601.3 818.4 L603.2 817.6 L605.1 816.5 L606.9 815.3 L608.5 814.0 L609.7 812.8 L610.9 811.6 L612.0 810.1 L613.1 808.6 L614.1 807.1 L615.1 805.4 L616.1 803.7 L617.0 802.0 L617.8 800.4 L618.6 798.7 L619.3 797.0 L620.1 795.3 L620.7 793.5 L621.4 791.7 L622.1 789.8 L622.7 787.9 L623.3 786.0 L624.0 784.0 L624.6 782.2 L625.2 780.4 L625.7 778.6 L626.3 776.7 L626.9 774.8 L627.4 772.9 L628.0 771.0 L628.5 769.0 L629.0 767.1 L629.5 765.1 L630.0 763.1 L630.5 761.0 L631.0 759.0 L631.4 757.1 L631.8 754.9 L632.1 752.6 L632.5 750.1 L632.8 747.6 L633.1 745.0 L633.5 742.5 L633.8 740.0 L634.1 737.6 L634.4 735.4 L634.7 733.4 L635.0 731.6 L635.4 730.2 L635.7 729.0 L636.1 728.3 L636.5 728.0 L637.3 728.5 L638.2 729.9 L639.0 731.9 L639.7 734.0 L640.1 735.4 L640.4 736.9 L640.7 738.5 L640.9 740.2 L641.1 742.0 L641.3 744.0 L641.4 746.0 L641.5 748.1 L641.7 750.4 L641.8 752.6 L642.0 755.0 L642.1 756.5 L642.2 758.0 L642.3 759.6 L642.4 761.2 L642.5 762.9 L642.5 764.6 L642.6 766.3 L642.7 768.1 L642.8 769.9 L642.8 771.8 L642.9 773.6 L642.9 775.6 L643.0 777.5 L643.1 779.5 L643.1 781.5 L643.2 783.5 L643.2 785.6 L643.3 787.6 L643.3 789.7 L643.4 791.9 L643.4 794.0 L643.5 796.2 L643.6 798.3 L643.6 800.5 L643.7 802.8 L643.7 805.0 L643.8 807.2 L643.9 809.5 L643.9 811.7 L644.0 814.0 L644.1 816.4 L644.2 818.8 L644.2 821.2 L644.3 823.7 L644.4 826.2 L644.5 828.8 L644.5 831.4 L644.6 834.0 L644.7 836.6 L644.8 839.3 L644.9 842.0 L645.0 844.7 L645.0 847.5 L645.1 850.3 L645.2 853.1 L645.3 855.9 L645.4 858.7 L645.5 861.6 L645.6 864.4 L645.7 867.3 L645.7 870.2 L645.8 873.1 L645.9 876.0 L646.0 878.9 L646.1 881.8 L646.2 884.8 L646.3 887.7 L646.4 890.6 L646.4 893.5 L646.5 896.4 L646.6 899.3 L646.7 902.2 L646.8 905.1 L646.9 908.0 L647.0 910.9 L647.1 913.7 L647.1 916.6 L647.2 919.4 L647.3 922.2 L647.4 925.0 L647.7 923.0 L648.0 921.0 L648.3 919.0 L648.6 917.0 L649.0 915.0 L649.3 913.0 L649.6 911.0 L649.9 908.9 L650.3 906.9 L650.6 904.9 L650.9 902.8 L651.2 900.8 L651.6 898.8 L651.9 896.7 L652.2 894.7 L652.5 892.7 L652.8 890.6 L653.2 888.6 L653.5 886.6 L653.8 884.6 L654.1 882.6 L654.4 880.6 L654.7 878.6 L655.0 876.7 L655.3 874.7 L655.6 872.8 L655.9 870.9 L656.2 869.0 L656.5 867.1 L656.8 865.2 L657.0 863.4 L657.3 861.6 L657.5 859.8 L657.8 858.0 L658.1 855.9 L658.4 853.8 L658.7 851.8 L658.9 849.7 L659.2 847.7 L659.4 845.7 L659.7 843.8 L659.9 841.8 L660.2 839.9 L660.4 837.9 L660.6 836.0 L660.9 834.1 L661.1 832.2 L661.3 830.4 L661.5 828.5 L661.8 826.7 L662.0 824.8 L662.2 823.0 L662.5 821.2 L662.7 819.4 L662.9 817.6 L663.2 815.8 L663.4 814.0 L663.7 812.0 L664.0 810.0 L664.2 808.1 L664.5 806.2 L664.8 804.3 L665.1 802.4 L665.4 800.5 L665.7 798.7 L666.0 796.8 L666.3 795.0 L666.6 793.1 L666.8 791.3 L667.1 789.4 L667.4 787.6 L667.6 785.7 L667.9 783.8 L668.2 781.9 L668.4 780.0 L668.6 778.1 L668.9 776.1 L669.1 774.1 L669.3 772.2 L669.5 770.1 L669.7 768.1 L669.9 766.1 L670.1 764.1 L670.2 762.1 L670.4 760.0 L670.6 758.0 L670.8 756.0 L671.0 754.1 L671.2 752.1 L671.3 750.2 L671.5 748.3 L671.7 746.4 L671.9 744.6 L672.1 742.8 L672.3 740.7 L672.6 738.7 L672.8 736.7 L673.1 734.7 L673.3 732.8 L673.6 730.9 L673.8 729.1 L674.1 727.2 L674.3 725.3 L674.6 723.5 L674.8 721.6 L675.0 719.7 L675.2 717.8 L675.4 715.9 L675.5 713.9 L675.6 711.9 L675.7 709.9 L675.8 707.8 L675.8 705.8 L675.9 703.8 L676.0 701.8 L676.2 699.9 L676.3 698.1 L676.5 696.3 L676.8 694.5 L677.1 692.9 L677.7 690.6 L678.4 688.1 L679.1 685.6 L679.9 683.4 L680.7 681.6 L681.4 680.4 L682.0 680.0 L682.4 680.3 L682.7 681.1 L683.0 682.3 L683.2 683.9 L683.4 685.8 L683.6 688.0 L683.8 690.3 L683.9 692.8 L684.1 695.3 L684.2 697.9 L684.4 700.4 L684.5 702.8 L684.6 705.0 L684.7 706.8 L684.8 708.6 L684.9 710.5 L684.9 712.4 L685.0 714.4 L685.0 716.4 L685.0 718.4 L685.1 720.4 L685.1 722.4 L685.1 724.5 L685.1 726.5 L685.1 728.6 L685.1 730.6 L685.1 732.7 L685.1 734.7 L685.1 736.8 L685.2 738.8 L685.2 740.8 L685.2 742.8 L685.2 744.8 L685.3 746.7 L685.3 748.7 L685.3 750.7 L685.4 752.7 L685.4 754.6 L685.4 756.6 L685.4 758.6 L685.5 760.5 L685.5 762.5 L685.5 764.5 L685.6 766.4 L685.6 768.4 L685.6 770.3 L685.7 772.3 L685.7 774.2 L685.7 776.2 L685.8 778.1 L685.8 780.0 L685.8 781.9 L685.9 783.8 L685.9 785.6 L685.9 787.4 L686.0 789.1 L686.0 790.9 L686.0 792.6 L686.1 794.4 L686.1 796.1 L686.2 797.9 L686.2 799.7 L686.2 801.6 L686.3 803.5 L686.3 805.4 L686.4 807.4 L686.4 809.5 L686.5 811.7 L686.5 814.0 L686.5 815.7 L686.6 817.5 L686.6 819.3 L686.6 821.1 L686.7 823.0 L686.7 824.9 L686.8 826.9 L686.8 828.9 L686.8 831.0 L686.9 833.1 L686.9 835.2 L687.0 837.4 L687.0 839.5 L687.1 841.7 L687.1 844.0 L687.1 846.2 L687.2 848.5 L687.2 850.8 L687.3 853.1 L687.3 855.4 L687.4 857.7 L687.4 860.1 L687.5 862.4 L687.5 864.7 L687.6 867.1 L687.6 869.4 L687.7 871.8 L687.7 874.1 L687.8 876.4 L687.8 878.8 L687.9 881.1 L687.9 883.4 L688.0 885.7 L688.0 887.9 L688.1 890.2 L688.1 892.4 L688.2 894.6 L688.2 896.7 L688.3 898.9 L688.3 901.0 L688.3 903.0 L688.4 905.1 L688.4 907.1 L688.5 909.1 L688.5 911.2 L688.6 913.2 L688.6 915.2 L688.7 917.2 L688.7 919.2 L688.8 921.2 L688.8 923.2 L688.9 925.1 L688.9 927.1 L688.9 929.1 L689.0 931.1 L689.0 933.1 L689.1 935.0 L689.1 937.0 L689.2 938.9 L689.2 940.9 L689.3 942.9 L689.3 944.8 L689.4 946.8 L689.4 948.7 L689.5 950.7 L689.5 952.6 L689.6 954.6 L689.6 956.5 L689.7 958.5 L689.7 960.4 L689.8 962.4 L689.8 964.3 L689.9 966.3 L690.0 968.2 L690.0 970.1 L690.1 972.1 L690.1 974.0 L690.2 976.0 L690.3 978.0 L690.3 979.9 L690.4 981.9 L690.5 983.8 L690.5 985.8 L690.6 987.8 L690.7 989.7 L690.7 991.7 L690.8 993.6 L690.9 995.6 L691.0 997.5 L691.0 999.5 L691.1 1001.4 L691.2 1003.4 L691.3 1005.3 L691.3 1007.2 L691.4 1009.2 L691.5 1011.1 L691.6 1013.1 L691.7 1015.0 L691.7 1016.9 L691.8 1018.9 L691.9 1020.8 L692.0 1022.8 L692.1 1024.7 L692.1 1026.6 L692.2 1028.6 L692.3 1030.5 L692.4 1032.5 L692.5 1034.4 L692.5 1036.3 L692.6 1038.3 L692.7 1040.2 L692.8 1042.2 L692.8 1044.1 L692.9 1046.1 L693.0 1048.0 L693.1 1046.1 L693.3 1044.2 L693.4 1042.4 L693.5 1040.5 L693.7 1038.7 L693.8 1036.9 L694.0 1035.0 L694.1 1033.2 L694.2 1031.4 L694.4 1029.5 L694.5 1027.7 L694.6 1025.8 L694.8 1023.9 L694.9 1022.0 L695.0 1020.1 L695.1 1018.2 L695.3 1016.2 L695.4 1014.2 L695.5 1012.1 L695.6 1010.0 L695.7 1008.2 L695.8 1006.4 L695.8 1004.5 L695.9 1002.5 L696.0 1000.5 L696.1 998.4 L696.1 996.3 L696.2 994.1 L696.3 991.9 L696.3 989.7 L696.4 987.5 L696.5 985.2 L696.5 983.0 L696.6 980.7 L696.6 978.5 L696.7 976.3 L696.7 974.1 L696.8 971.9 L696.9 969.8 L696.9 967.7 L697.0 965.7 L697.0 963.7 L697.0 961.9 L697.1 960.0 L697.1 958.3 L697.2 956.7 L697.2 955.1 L697.3 953.7 L697.3 952.3 L697.4 951.1 L697.4 950.0 L697.5 947.9 L697.6 946.3 L697.6 944.8 L697.7 943.5 L697.8 942.0 L699.2 943.2 L700.6 944.4 L702.0 946.0 L702.7 947.2 L703.5 948.7 L704.2 950.3 L704.8 952.0 L705.5 953.9 L706.2 955.7 L706.9 957.6 L707.6 959.3 L708.3 961.0 L709.0 962.7 L709.8 964.4 L710.5 966.0 L711.3 967.7 L712.1 969.3 L712.8 970.8 L713.7 972.3 L714.5 973.7 L715.7 975.6 L717.0 977.7 L718.3 979.5 L719.5 980.8 L720.8 981.2 L721.8 980.8 L722.8 979.8 L723.8 978.4 L724.8 976.7 L725.7 974.7 L726.6 972.7 L727.4 970.7 L728.0 969.2 L728.5 967.6 L729.0 965.8 L729.4 964.0 L729.8 962.2 L730.2 960.2 L730.6 958.3 L730.9 956.2 L731.2 954.2 L731.5 952.1 L731.8 950.0 L732.1 947.8 L732.4 945.7 L732.6 943.9 L732.8 942.1 L733.0 940.2 L733.2 938.3 L733.3 936.4 L733.5 934.5 L733.6 932.5 L733.7 930.5 L733.8 928.5 L733.9 926.5 L734.0 924.4 L734.1 922.4 L734.2 920.4 L734.3 918.3 L734.4 916.3 L734.5 914.3 L734.7 912.3 L734.8 910.3 L734.9 908.3 L735.0 906.3 L735.2 904.4 L735.3 902.4 L735.4 900.4 L735.6 898.5 L735.7 896.5 L735.8 894.5 L736.0 892.6 L736.1 890.6 L736.2 888.6 L736.3 886.7 L736.5 884.7 L736.6 882.7 L736.7 880.7 L736.9 878.8 L737.0 876.8 L737.1 874.8 L737.3 872.9 L737.4 870.9 L737.5 868.9 L737.7 867.0 L737.8 865.0 L737.9 863.0 L738.1 861.0 L738.2 859.1 L738.3 857.1 L738.4 855.1 L738.6 853.1 L738.7 851.2 L738.8 849.2 L739.0 847.2 L739.1 845.2 L739.2 843.3 L739.4 841.3 L739.5 839.3 L739.6 837.3 L739.8 835.4 L739.9 833.4 L740.0 831.4 L740.2 829.5 L740.3 827.6 L740.5 825.7 L740.6 823.8 L740.7 821.9 L740.9 820.0 L741.0 818.1 L741.2 816.2 L741.3 814.3 L741.4 812.3 L741.6 810.4 L741.7 808.4 L741.9 806.4 L742.0 804.4 L742.1 802.4 L742.3 800.3 L742.4 798.2 L742.5 796.0 L742.6 794.2 L742.7 792.4 L742.8 790.5 L742.9 788.6 L742.9 786.7 L743.0 784.7 L743.1 782.7 L743.2 780.6 L743.2 778.6 L743.3 776.5 L743.4 774.4 L743.5 772.3 L743.5 770.2 L743.6 768.0 L743.7 765.9 L743.7 763.8 L743.8 761.7 L743.9 759.6 L743.9 757.5 L744.0 755.5 L744.1 753.4 L744.2 751.4 L744.3 749.5 L744.3 747.6 L744.4 745.7 L744.5 743.8 L744.6 742.0 L744.7 740.3 L744.8 738.6 L744.9 737.0 L745.0 734.7 L745.1 732.4 L745.2 730.2 L745.3 728.0 L745.4 725.8 L745.5 723.7 L745.6 721.7 L745.7 719.7 L745.9 717.8 L746.1 716.0 L746.3 714.4 L746.6 712.8 L747.0 711.3 L747.4 710.0 L748.3 708.0 L749.3 706.1 L750.4 704.4 L751.5 703.3 L752.4 703.0 L753.1 703.5 L753.8 704.7 L754.4 706.3 L755.0 708.3 L755.5 710.3 L756.1 712.3 L756.5 713.9 L757.0 715.6 L757.4 717.3 L757.8 719.2 L758.1 721.0 L758.5 723.0 L758.8 725.0 L759.2 727.0 L759.5 729.0 L759.9 731.0 L760.2 732.8 L760.5 734.7 L760.8 736.6 L761.1 738.5 L761.3 740.5 L761.6 742.5 L761.9 744.5 L762.2 746.5 L762.4 748.5 L762.7 750.4 L763.0 752.3 L763.3 754.2 L763.6 756.0 L764.0 758.0 L764.3 759.9 L764.7 761.8 L765.1 763.6 L765.5 765.4 L765.9 767.3 L766.3 769.1 L766.7 770.9 L767.1 772.8 L767.4 774.7 L767.7 776.6 L768.0 778.5 L768.3 780.5 L768.6 782.5 L768.9 784.5 L769.2 786.5 L769.5 788.5 L769.7 790.4 L770.0 792.3 L770.3 794.2 L770.5 796.0 L770.7 798.0 L770.9 800.1 L771.0 802.1 L771.2 804.1 L771.4 806.0 L771.6 807.8 L771.9 809.5 L772.4 811.0 L773.3 813.1 L774.5 815.2 L775.7 816.7 L776.7 817.2 L777.1 816.9 L777.5 816.2 L777.9 815.1 L778.3 813.8 L778.6 812.1 L778.9 810.3 L779.2 808.2 L779.4 806.0 L779.7 803.6 L779.9 801.2 L780.1 798.7 L780.3 796.2 L780.5 793.8 L780.7 791.4 L780.9 789.1 L781.1 787.0 L781.3 785.2 L781.4 783.4 L781.5 781.5 L781.7 779.6 L781.8 777.6 L781.9 775.6 L781.9 773.6 L782.0 771.5 L782.1 769.5 L782.2 767.4 L782.2 765.3 L782.3 763.3 L782.4 761.3 L782.4 759.3 L782.5 757.3 L782.5 755.4 L782.6 753.5 L782.7 751.7 L782.7 749.9 L782.8 748.2 L782.9 746.6 L783.0 745.0 L783.1 742.7 L783.3 740.3 L783.4 737.9 L783.6 735.5 L783.7 733.3 L783.9 731.2 L784.0 729.5 L784.2 728.2 L784.3 727.3 L784.5 727.0 L784.7 727.3 L784.9 728.2 L785.1 729.5 L785.3 731.3 L785.5 733.3 L785.7 735.6 L785.9 737.9 L786.1 740.4 L786.3 742.7 L786.5 745.0 L786.6 746.6 L786.7 748.2 L786.8 749.9 L786.9 751.6 L787.0 753.4 L787.1 755.2 L787.2 757.1 L787.3 759.0 L787.4 760.9 L787.5 762.9 L787.6 764.9 L787.7 766.9 L787.8 768.9 L787.9 770.9 L787.9 772.9 L788.0 775.0 L788.1 777.0 L788.2 779.0 L788.3 781.0 L788.4 783.0 L788.5 785.0 L788.6 786.9 L788.7 788.8 L788.8 790.7 L788.9 792.6 L789.0 794.6 L789.1 796.5 L789.2 798.4 L789.3 800.4 L789.4 802.3 L789.5 804.3 L789.7 806.2 L789.8 808.2 L789.9 810.1 L790.0 812.1 L790.1 814.1 L790.2 816.0 L790.3 818.0 L790.4 820.0 L790.5 822.0 L790.7 824.0 L790.8 826.0 L790.9 828.0 L791.0 830.0 L791.1 831.9 L791.2 833.8 L791.3 835.8 L791.4 837.7 L791.5 839.7 L791.7 841.7 L791.8 843.7 L791.9 845.8 L792.0 847.8 L792.1 849.8 L792.2 851.9 L792.3 853.9 L792.5 855.9 L792.6 857.9 L792.7 859.9 L792.8 861.9 L792.9 863.9 L793.0 865.8 L793.2 867.7 L793.3 869.6 L793.4 871.4 L793.5 873.2 L793.6 875.0 L793.8 876.7 L793.9 878.4 L794.0 880.0 L794.2 882.2 L794.3 884.3 L794.5 886.4 L794.7 888.3 L794.9 890.2 L795.1 892.1 L795.2 894.0 L795.4 895.8 L795.6 897.6 L795.8 899.4 L795.9 901.2 L796.1 903.1 L796.3 905.0 L796.4 903.0 L796.5 901.1 L796.6 899.1 L796.6 897.1 L796.7 895.1 L796.8 893.1 L796.9 891.1 L797.0 889.1 L797.1 887.1 L797.2 885.1 L797.2 883.1 L797.3 881.1 L797.4 879.1 L797.5 877.1 L797.6 875.1 L797.7 873.2 L797.8 871.2 L797.8 869.3 L797.9 867.4 L798.0 865.5 L798.1 863.7 L798.1 861.8 L798.2 860.0 L798.3 857.9 L798.4 855.9 L798.4 853.9 L798.5 851.9 L798.6 849.9 L798.6 848.0 L798.7 846.0 L798.7 844.1 L798.8 842.2 L798.9 840.3 L798.9 838.4 L799.0 836.6 L799.1 834.7 L799.1 832.8 L799.2 830.9 L799.2 828.9 L799.3 827.0 L800.0 829.0 L800.6 831.0 L801.5 832.0 L802.4 831.7 L803.5 830.7 L804.7 829.3 L806.0 828.0 L807.3 826.9 L808.6 825.8 L810.1 824.5 L811.6 823.3 L813.2 822.1 L814.8 821.0 L816.4 820.0 L818.2 819.1 L820.0 818.2 L821.8 817.3 L823.6 816.4 L825.5 815.6 L827.3 814.7 L829.1 813.9 L830.8 813.0 L832.6 812.2 L834.4 811.4 L836.1 810.6 L837.9 809.8 L839.7 809.1 L841.5 808.4 L843.2 807.7 L845.0 807.1 L846.8 806.5 L848.6 805.9 L850.4 805.3 L852.2 804.7 L854.0 804.1 L855.8 803.6 L857.6 803.1 L859.3 802.6 L861.1 802.0 L862.9 801.5 L864.7 801.0 L866.5 800.5 L868.2 800.0 L869.9 799.5 L871.6 799.0 L873.4 798.4 L875.2 797.8 L877.2 797.2 L878.7 796.7 L880.3 796.1 L882.0 795.5 L883.7 794.8 L885.4 794.1 L887.2 793.4 L889.0 792.7 L890.8 792.0 L892.7 791.3 L894.5 790.6 L896.3 790.0 L898.2 789.3 L900.0 788.8 L901.9 788.2 L903.8 787.6 L905.7 787.1 L907.6 786.6 L909.5 786.1 L911.4 785.6 L913.4 785.1 L915.3 784.6 L917.2 784.2 L919.2 783.8 L921.1 783.3 L923.1 782.9 L925.0 782.5 L926.9 782.1 L928.8 781.7 L930.8 781.4 L932.7 781.0 L934.6 780.6 L936.5 780.3 L938.4 780.0 L940.4 779.7 L942.3 779.4 L944.2 779.1 L946.1 778.8 L948.1 778.5 L950.0 778.2 L951.9 778.0 L953.8 777.8 L955.8 777.5 L957.7 777.3 L959.6 777.1 L961.5 776.9 L963.5 776.7 L965.4 776.5 L967.3 776.4 L969.2 776.2 L971.2 776.0 L973.1 775.9 L975.0 775.8 L976.9 775.6 L978.9 775.5 L980.9 775.4 L983.0 775.3 L985.0 775.2 L987.0 775.2 L989.0 775.1 L991.0 775.0 L992.9 775.0 L994.8 774.9 L996.6 774.8 L998.4 774.6 L1000.0 774.5 L1002.0 774.3 L1003.9 774.0 L1005.7 773.8 L1007.4 773.5 L1009.1 773.2 L1010.8 772.9 L1012.5 772.7 L1014.3 772.5 L1016.1 772.3 L1017.9 772.1 L1019.6 771.9 L1021.4 771.8 L1023.2 771.6 L1025.0 771.5 L1026.8 771.4 L1028.5 771.3 L1030.3 771.2 L1032.1 771.2 L1033.9 771.1 L1035.6 771.1 L1037.4 771.1 L1039.2 771.1 L1041.0 771.1 L1042.8 771.1 L1044.5 771.2 L1046.3 771.2 L1048.1 771.3 L1049.9 771.4 L1051.7 771.5 L1053.5 771.7 L1055.3 771.8 L1057.0 772.0 L1058.8 772.2 L1060.6 772.4 L1062.4 772.6 L1064.2 772.8 L1066.0 773.1 L1067.8 773.4 L1069.6 773.6 L1071.3 773.9 L1073.1 774.3 L1074.9 774.6 L1076.7 775.0 L1078.5 775.3 L1080.2 775.7 L1082.0 776.1 L1083.8 776.6 L1085.5 777.0 L1087.3 777.4 L1089.1 777.8 L1090.9 778.2 L1092.7 778.7 L1094.4 779.1 L1096.2 779.6 L1098.0 780.0 L1099.8 780.5 L1101.6 781.0 L1103.4 781.5 L1105.2 782.0 L1107.0 782.5 L1108.7 783.1 L1110.5 783.6 L1112.3 784.2 L1114.1 784.8 L1115.9 785.4 L1117.7 786.0 L1119.5 786.6 L1121.2 787.2 L1123.0 787.9 L1124.8 788.6 L1126.6 789.3 L1128.4 790.1 L1130.2 790.9 L1132.0 791.7 L1133.8 792.5 L1135.5 793.3 L1137.3 794.2 L1138.9 795.0 L1140.4 795.8 L1142.0 796.6 L1143.5 797.5 L1145.1 798.4 L1146.6 799.2 L1148.2 800.2 L1149.7 801.1 L1151.3 802.1 L1152.9 803.1 L1154.4 804.2 L1156.0 805.3 L1157.6 806.4 L1159.1 807.5 L1160.7 808.6 L1162.2 809.8 L1163.6 810.9 L1165.0 812.0 L1166.4 813.1 L1167.8 814.3 L1169.2 815.5 L1170.6 816.7 L1172.0 817.9 L1173.3 819.1 L1174.7 820.4 L1176.0 821.6 L1177.2 822.9 L1178.5 824.1 L1179.8 825.4 L1181.0 826.7 L1182.3 828.1 L1183.5 829.4 L1184.7 830.8 L1186.0 832.1 L1187.2 833.5 L1188.5 835.0 L1189.8 836.4 L1191.1 838.0 L1192.5 839.5 L1193.8 841.1 L1195.1 842.6 L1196.3 844.1 L1197.5 845.6 L1198.7 847.1 L1199.7 848.5 L1200.9 850.2 L1202.0 851.9 L1203.0 853.6 L1204.0 855.2 L1204.9 856.8 L1205.9 858.5 L1206.8 860.0 L1207.7 861.5 L1208.6 863.0 L1209.5 864.5 L1210.3 866.0 L1211.2 867.5 L1212.1 869.1 L1213.0 870.7 L1213.9 872.4 L1214.8 874.1 L1215.7 875.8 L1216.6 877.5 L1217.5 879.2 L1218.4 880.9 L1219.3 882.5 L1220.2 884.1 L1221.1 885.7 L1222.0 887.2 L1222.8 888.8 L1223.7 890.5 L1224.6 892.2 L1225.3 893.7 L1226.1 895.2 L1226.8 896.8 L1227.5 898.3 L1228.2 899.9 L1228.9 901.6 L1229.7 903.3 L1230.4 905.1 L1231.2 907.0 L1231.8 908.5 L1232.4 910.1 L1233.0 911.7 L1233.7 913.5 L1234.3 915.2 L1235.0 917.0 L1235.7 918.9 L1236.3 920.8 L1237.0 922.7 L1237.7 924.6 L1238.4 926.5 L1239.1 928.4 L1239.7 930.2 L1240.4 932.1 L1241.1 933.9 L1241.7 935.7 L1242.4 937.4 L1243.1 939.3 L1243.8 941.1 L1244.6 942.9 L1245.3 944.7 L1246.0 946.5 L1246.7 948.2 L1247.4 950.0 L1248.1 951.7 L1248.9 953.5 L1249.6 955.2 L1250.3 957.0 L1251.0 958.7 L1251.7 960.5 L1252.4 962.3 L1253.1 964.0 L1253.7 965.8 L1254.4 967.5 L1255.1 969.3 L1255.8 971.1 L1256.4 972.9 L1257.1 974.6 L1257.8 976.4 L1258.4 978.2 L1259.1 980.0 L1259.8 981.7 L1260.4 983.4 L1261.1 985.1 L1261.7 986.8 L1262.4 988.5 L1263.1 990.4 L1263.9 992.2 L1264.6 994.0 L1265.3 995.8 L1266.0 997.6 L1266.7 999.4 L1267.4 1001.2 L1268.1 1002.9 L1268.9 1004.6 L1269.6 1006.3 L1270.3 1008.0 L1271.1 1009.7 L1271.9 1011.6 L1272.7 1013.5 L1273.5 1015.4 L1274.3 1017.4 L1275.2 1019.2 L1276.0 1021.1 L1276.9 1022.8 L1277.8 1024.4 L1278.8 1025.9 L1279.9 1027.2 L1281.4 1028.8 L1283.0 1030.2 L1284.7 1031.5 L1286.5 1032.5 L1288.2 1033.2 L1289.8 1033.4 L1291.4 1033.1 L1293.0 1032.5 L1294.6 1031.4 L1296.1 1030.2 L1297.4 1028.7 L1298.6 1027.2 L1299.4 1025.7 L1300.0 1024.0 L1300.5 1022.1 L1300.8 1020.1 L1301.1 1018.0 L1301.4 1015.8 L1301.6 1013.7 L1301.9 1011.6 L1302.3 1009.7 L1302.8 1007.8 L1303.2 1006.0 L1303.7 1004.2 L1304.2 1002.5 L1304.6 1000.7 L1305.1 998.9 L1305.6 996.9 L1306.0 994.8 L1306.3 993.2 L1306.6 991.4 L1306.9 989.6 L1307.1 987.8 L1307.4 985.8 L1307.7 983.9 L1307.9 981.9 L1308.2 979.9 L1308.4 977.8 L1308.7 975.8 L1308.9 973.8 L1309.2 971.8 L1309.5 969.8 L1309.7 967.9 L1310.0 966.0 L1310.3 964.0 L1310.6 962.1 L1310.9 960.1 L1311.2 958.2 L1311.5 956.3 L1311.8 954.3 L1312.2 952.4 L1312.5 950.5 L1312.8 948.6 L1313.1 946.7 L1313.4 944.8 L1313.7 942.9 L1314.0 941.0 L1314.3 939.1 L1314.6 937.2 L1314.9 935.2 L1315.2 933.3 L1315.4 931.4 L1315.7 929.5 L1316.0 927.5 L1316.3 925.6 L1316.6 923.7 L1316.9 921.8 L1317.1 919.8 L1317.4 917.9 L1317.7 916.0 L1318.0 914.1 L1318.3 912.2 L1318.6 910.2 L1318.8 908.3 L1319.1 906.4 L1319.4 904.5 L1319.7 902.5 L1320.0 900.6 L1320.3 898.7 L1320.5 896.8 L1320.8 894.8 L1321.1 892.9 L1321.4 891.0 L1321.7 889.1 L1322.0 887.2 L1322.3 885.3 L1322.5 883.4 L1322.8 881.6 L1323.1 879.7 L1323.4 877.8 L1323.7 875.9 L1324.0 874.0 L1324.3 872.1 L1324.6 870.1 L1324.9 868.1 L1325.2 866.0 L1325.5 864.2 L1325.7 862.3 L1326.0 860.4 L1326.2 858.5 L1326.5 856.5 L1326.8 854.5 L1327.0 852.5 L1327.3 850.4 L1327.6 848.4 L1327.8 846.4 L1328.1 844.3 L1328.4 842.3 L1328.7 840.3 L1329.0 838.4 L1329.3 836.5 L1329.6 834.6 L1329.9 832.8 L1330.2 831.0 L1330.6 828.9 L1331.0 826.8 L1331.4 824.8 L1331.9 822.8 L1332.3 820.8 L1332.7 818.9 L1333.2 817.0 L1333.6 815.1 L1334.1 813.3 L1334.6 811.5 L1335.0 809.7 L1335.5 808.0 L1336.1 805.9 L1336.7 803.9 L1337.3 801.9 L1337.9 799.9 L1338.5 798.0 L1339.1 796.2 L1339.8 794.6 L1340.5 793.0 L1341.3 791.3 L1342.1 789.8 L1342.9 788.4 L1343.9 787.1 L1345.0 786.0 L1346.4 785.0 L1348.1 784.0 L1349.8 783.2 L1351.5 782.8 L1352.9 783.0 L1354.1 783.9 L1355.1 785.4 L1356.0 787.3 L1356.8 789.4 L1357.7 791.6 L1358.5 793.6 L1359.3 795.3 L1360.0 797.0 L1360.7 798.7 L1361.5 800.4 L1362.2 802.2 L1362.8 804.1 L1363.5 806.0 L1364.0 807.7 L1364.6 809.5 L1365.1 811.3 L1365.6 813.2 L1366.1 815.1 L1366.6 817.1 L1367.0 819.0 L1367.5 821.0 L1368.0 822.9 L1368.5 824.8 L1369.0 826.7 L1369.5 828.5 L1370.0 830.4 L1370.6 832.3 L1371.1 834.1 L1371.6 836.0 L1372.1 837.9 L1372.6 839.8 L1373.1 841.6 L1373.5 843.5 L1373.9 845.4 L1374.3 847.2 L1374.7 849.1 L1375.1 851.0 L1375.4 852.8 L1375.8 854.7 L1376.1 856.6 L1376.5 858.5 L1376.8 860.3 L1377.2 862.2 L1377.6 864.1 L1377.9 866.0 L1378.3 867.9 L1378.7 869.8 L1379.0 871.7 L1379.4 873.6 L1379.8 875.5 L1380.1 877.3 L1380.5 879.2 L1380.9 881.0 L1381.3 882.9 L1381.7 884.7 L1382.2 886.5 L1382.6 888.3 L1383.0 890.1 L1383.4 891.9 L1383.9 893.7 L1384.3 895.5 L1384.7 897.4 L1385.1 899.2 L1385.5 901.1 L1385.8 903.0 L1386.2 904.9 L1386.5 906.9 L1386.9 908.8 L1387.3 910.7 L1387.6 912.6 L1388.0 914.4 L1388.4 916.2 L1388.9 918.2 L1389.3 920.1 L1389.8 921.9 L1390.3 923.8 L1390.8 925.6 L1391.2 927.5 L1391.7 929.3 L1392.2 931.1 L1392.6 932.9 L1393.1 934.7 L1393.5 936.6 L1393.9 938.4 L1394.4 940.2 L1394.9 941.9 L1395.4 943.5 L1395.9 944.9 L1396.7 946.8 L1397.6 948.6 L1398.5 949.9 L1399.4 950.5 L1400.4 950.0 L1401.5 948.6 L1402.5 946.8 L1403.4 944.9 L1404.0 943.4 L1404.4 941.7 L1404.9 939.9 L1405.2 937.9 L1405.6 935.9 L1405.9 933.9 L1406.2 931.9 L1406.5 929.9 L1406.8 928.1 L1407.0 926.3 L1407.2 924.6 L1407.4 922.8 L1407.6 920.9 L1407.8 919.1 L1408.0 917.3 L1408.2 915.5 L1408.4 913.7 L1408.7 911.9 L1408.9 910.1 L1409.2 908.3 L1409.5 906.5 L1409.8 904.7 L1410.1 902.9 L1410.4 901.1 L1410.7 899.3 L1410.9 897.4 L1411.1 895.6 L1411.2 893.7 L1411.3 891.9 L1411.4 890.0 L1411.5 888.1 L1411.6 886.2 L1411.7 884.3 L1411.8 882.5 L1411.9 880.6 L1412.1 878.7 L1412.3 876.8 L1412.6 874.9 L1412.8 872.9 L1413.1 870.9 L1413.4 869.0 L1413.7 867.1 L1414.1 865.2 L1414.4 863.4 L1414.7 861.6 L1415.0 860.0 L1415.4 858.2 L1415.8 856.6 L1416.1 855.1 L1416.5 853.5 L1416.9 851.8 L1417.3 849.7 L1417.5 848.3 L1417.8 846.8 L1418.0 845.1 L1418.3 843.4 L1418.6 841.5 L1418.8 839.6 L1419.1 837.6 L1419.4 835.6 L1419.6 833.5 L1419.9 831.4 L1420.2 829.3 L1420.4 827.1 L1420.7 824.9 L1421.0 822.7 L1421.2 820.6 L1421.5 818.5 L1421.7 816.4 L1422.0 814.3 L1422.2 812.3 L1422.4 810.3 L1422.6 808.3 L1422.9 806.3 L1423.1 804.3 L1423.3 802.3 L1423.5 800.3 L1423.7 798.3 L1423.9 796.2 L1424.1 794.2 L1424.3 792.2 L1424.5 790.2 L1424.7 788.2 L1424.9 786.3 L1425.0 784.3 L1425.2 782.4 L1425.4 780.5 L1425.6 778.6 L1425.8 776.7 L1426.0 774.9 L1426.2 772.8 L1426.4 770.8 L1426.6 768.8 L1426.8 766.8 L1427.0 764.8 L1427.2 762.9 L1427.4 761.0 L1427.6 759.0 L1427.8 757.2 L1428.0 755.3 L1428.2 753.5 L1428.4 751.6 L1428.7 749.8 L1429.0 748.0 L1429.4 746.0 L1429.7 744.0 L1430.1 742.1 L1430.6 740.2 L1431.0 738.3 L1431.4 736.4 L1431.9 734.5 L1432.3 732.7 L1432.8 730.8 L1433.3 728.9 L1433.7 727.0 L1434.1 725.2 L1434.5 723.3 L1434.9 721.5 L1435.3 719.6 L1435.8 717.7 L1436.2 715.8 L1436.6 713.9 L1437.0 712.1 L1437.4 710.4 L1437.8 708.7 L1438.3 707.0 L1438.7 705.5 L1439.3 703.4 L1439.9 701.4 L1440.4 699.5 L1441.0 697.7 L1441.7 696.0 L1442.5 694.5 L1443.6 692.9 L1444.9 691.4 L1446.2 690.2 L1447.5 689.3 L1448.9 688.6 L1450.3 688.3 L1451.8 688.2 L1453.3 688.4 L1454.9 689.0 L1456.6 689.7 L1458.3 690.5 L1459.9 691.3 L1461.5 692.2 L1463.0 693.3 L1464.5 694.4 L1465.9 695.5 L1467.4 696.5 L1469.0 697.6 L1470.6 698.6 L1472.1 699.5 L1473.7 700.4 L1475.1 701.2 L1476.5 702.0 L1477.9 702.6 L1479.3 702.9 L1480.7 702.6 L1482.1 701.9 L1483.5 701.1 L1484.9 700.4 L1486.4 699.8 L1487.9 699.3 L1489.3 699.2 L1490.8 699.7 L1492.3 700.5 L1493.6 701.7 L1494.7 703.1 L1495.6 704.8 L1496.5 706.6 L1497.4 708.5 L1498.0 710.0 L1498.7 711.5 L1499.3 713.1 L1499.8 714.7 L1500.4 716.3 L1501.0 718.0 L1501.6 719.6 L1502.2 721.2 L1502.8 722.9 L1503.3 724.6 L1503.9 726.3 L1504.4 728.0 L1504.9 729.7 L1505.3 731.4 L1505.7 733.2 L1506.0 734.9 L1506.3 736.7 L1506.6 738.5 L1506.9 740.3 L1507.3 742.2 L1507.7 743.9 L1508.1 745.7 L1508.5 747.5 L1508.9 749.3 L1509.3 751.2 L1509.8 753.0 L1510.2 754.9 L1510.7 756.7 L1511.1 758.4 L1511.6 760.1 L1512.1 761.8 L1512.5 763.4 L1513.0 765.1 L1513.5 766.7 L1514.0 768.4 L1514.5 770.1 L1515.0 772.0 L1515.4 773.7 L1515.8 775.4 L1516.2 777.1 L1516.7 778.8 L1517.1 780.7 L1517.5 782.5 L1517.9 784.4 L1518.3 786.4 L1518.7 788.4 L1519.1 790.4 L1519.4 792.5 L1519.8 794.7 L1520.1 796.4 L1520.3 798.2 L1520.6 800.0 L1520.8 801.9 L1521.1 803.8 L1521.3 805.8 L1521.5 807.8 L1521.8 809.8 L1522.0 811.9 L1522.2 814.0 L1522.5 816.1 L1522.7 818.2 L1522.9 820.3 L1523.1 822.4 L1523.3 824.5 L1523.5 826.6 L1523.7 828.7 L1523.9 830.7 L1524.2 832.7 L1524.4 834.6 L1524.6 836.6 L1524.8 838.4 L1525.1 840.5 L1525.3 842.5 L1525.6 844.5 L1525.8 846.5 L1526.1 848.4 L1526.3 850.4 L1526.6 852.3 L1526.8 854.1 L1527.1 856.0 L1527.3 857.9 L1527.5 859.8 L1527.8 861.7 L1528.0 863.6 L1528.2 865.6 L1528.4 867.6 L1528.6 869.6 L1528.8 871.5 L1528.9 873.5 L1529.1 875.4 L1529.2 877.5 L1529.4 879.5 L1529.5 881.6 L1529.6 883.7 L1529.7 885.8 L1529.8 887.9 L1529.9 889.9 L1530.1 892.0 L1530.2 894.0 L1530.3 896.0 L1530.4 898.0 L1530.5 899.9 L1530.7 901.8 L1530.8 903.6 L1530.9 905.3 L1531.1 907.0 L1531.3 909.1 L1531.6 911.1 L1531.8 913.0 L1532.1 914.8 L1532.4 916.6 L1532.6 918.3 L1532.9 920.1 L1533.1 921.9 L1533.4 923.7 L1533.6 925.7 L1533.8 927.5 L1533.9 929.4 L1534.1 931.3 L1534.2 933.2 L1534.4 935.1 L1534.5 937.1 L1534.6 939.1 L1534.7 941.1 L1534.9 943.0 L1535.0 945.0 L1535.1 946.9 L1535.3 948.8 L1535.4 950.7 L1535.6 952.7 L1535.7 954.7 L1535.9 956.6 L1536.0 958.6 L1536.2 960.5 L1536.4 962.4 L1536.5 964.3 L1536.7 966.3 L1536.9 968.2 L1537.1 970.2 L1537.3 972.2 L1537.5 974.1 L1537.7 975.9 L1537.9 977.8 L1538.2 979.7 L1538.4 981.6 L1538.7 983.5 L1538.9 985.5 L1539.2 987.4 L1539.4 989.3 L1539.7 991.2 L1539.9 993.2 L1540.2 995.1 L1540.4 997.0 L1540.6 995.1 L1540.7 993.1 L1540.9 991.2 L1541.1 989.3 L1541.2 987.4 L1541.4 985.5 L1541.6 983.6 L1541.8 981.7 L1541.9 979.7 L1542.1 977.8 L1542.3 975.9 L1542.5 974.0 L1542.6 972.0 L1542.8 970.1 L1542.9 968.1 L1543.1 966.1 L1543.2 964.1 L1543.4 962.1 L1543.5 960.0 L1543.6 958.2 L1543.7 956.3 L1543.8 954.5 L1543.9 952.6 L1544.0 950.8 L1544.1 948.9 L1544.2 947.0 L1544.3 945.2 L1544.4 943.3 L1544.5 941.4 L1544.6 939.5 L1544.6 937.5 L1544.7 935.6 L1544.8 933.6 L1544.9 931.7 L1544.9 929.7 L1545.0 927.7 L1545.1 925.7 L1545.1 923.6 L1545.2 921.5 L1545.2 919.4 L1545.3 917.3 L1545.3 915.2 L1545.4 913.0 L1545.4 911.2 L1545.5 909.5 L1545.5 907.6 L1545.5 905.8 L1545.6 903.9 L1545.6 902.1 L1545.6 900.2 L1545.7 898.2 L1545.7 896.3 L1545.7 894.3 L1545.7 892.4 L1545.7 890.4 L1545.7 888.4 L1545.8 886.3 L1545.8 884.3 L1545.8 882.3 L1545.8 880.2 L1545.8 878.2 L1545.8 876.1 L1545.8 874.1 L1545.8 872.0 L1545.8 870.0 L1545.8 867.9 L1545.9 865.9 L1545.9 863.8 L1545.9 861.8 L1545.9 859.7 L1545.9 857.7 L1545.9 855.6 L1545.9 853.6 L1545.9 851.6 L1545.9 849.6 L1545.9 847.6 L1545.9 845.7 L1546.0 843.7 L1546.0 841.8 L1546.0 839.9 L1546.0 838.0 L1546.0 836.0 L1546.0 834.0 L1546.1 832.0 L1546.1 830.0 L1546.1 828.0 L1546.1 826.1 L1546.1 824.1 L1546.2 822.2 L1546.2 820.3 L1546.2 818.3 L1546.2 816.4 L1546.2 814.5 L1546.3 812.6 L1546.3 810.7 L1546.3 808.8 L1546.3 806.9 L1546.4 805.0 L1546.4 803.1 L1546.4 801.2 L1546.4 799.3 L1546.5 797.4 L1546.5 795.5 L1546.5 793.6 L1546.5 791.7 L1546.5 789.7 L1546.6 787.8 L1546.6 785.9 L1546.6 783.9 L1546.6 782.0 L1546.7 780.0 L1546.7 778.0 L1546.7 776.0 L1546.7 774.1 L1546.7 772.2 L1546.8 770.2 L1546.8 768.3 L1546.8 766.4 L1546.8 764.4 L1546.8 762.4 L1546.9 760.5 L1546.9 758.5 L1546.9 756.5 L1546.9 754.5 L1547.0 752.5 L1547.0 750.5 L1547.0 748.5 L1547.0 746.5 L1547.0 744.5 L1547.1 742.5 L1547.1 740.5 L1547.1 738.5 L1547.1 736.5 L1547.1 734.5 L1547.2 732.5 L1547.2 730.5 L1547.2 728.5 L1547.2 726.5 L1547.3 724.5 L1547.3 722.6 L1547.3 720.6 L1547.3 718.6 L1547.4 716.6 L1547.4 714.7 L1547.4 712.7 L1547.4 710.8 L1547.4 708.8 L1547.5 706.9 L1547.5 705.0 L1547.5 703.0 L1547.6 700.9 L1547.6 698.9 L1547.6 696.9 L1547.6 694.9 L1547.7 692.9 L1547.7 690.9 L1547.7 688.8 L1547.7 686.8 L1547.8 684.8 L1547.8 682.8 L1547.8 680.8 L1547.9 678.8 L1547.9 676.9 L1547.9 674.9 L1547.9 672.9 L1548.0 670.9 L1548.0 668.9 L1548.0 667.0 L1548.1 665.0 L1548.1 663.1 L1548.1 661.1 L1548.2 659.2 L1548.2 657.2 L1548.2 655.3 L1548.3 653.4 L1548.3 651.5 L1548.3 649.6 L1548.4 647.7 L1548.4 645.8 L1548.5 643.9 L1548.5 642.0 L1548.5 640.0 L1548.6 638.0 L1548.6 636.0 L1548.7 634.0 L1548.7 632.0 L1548.8 630.0 L1548.8 628.1 L1548.8 626.1 L1548.9 624.2 L1548.9 622.2 L1549.0 620.3 L1549.0 618.3 L1549.1 616.4 L1549.1 614.5 L1549.2 612.6 L1549.2 610.7 L1549.3 608.8 L1549.3 606.9 L1549.4 605.0 L1549.5 603.1 L1549.5 601.2 L1549.6 599.3 L1549.7 597.5 L1549.8 595.6 L1549.8 593.7 L1549.9 591.9 L1550.0 590.0 L1550.1 588.0 L1550.2 585.9 L1550.3 583.8 L1550.4 581.7 L1550.5 579.5 L1550.7 577.4 L1550.8 575.2 L1550.9 573.1 L1551.0 571.0 L1551.2 568.8 L1551.3 566.7 L1551.4 564.7 L1551.6 562.6 L1551.7 560.6 L1551.8 558.6 L1552.0 556.7 L1552.1 554.8 L1552.3 553.0 L1552.4 551.3 L1552.6 549.6 L1552.7 548.0 L1552.9 546.4 L1553.0 545.0 L1553.2 542.9 L1553.5 540.9 L1553.7 539.2 L1554.0 537.5 L1554.2 535.9 L1554.5 534.3 L1554.7 532.7 L1555.0 531.0 L1555.4 532.7 L1555.7 534.3 L1556.1 535.9 L1556.5 537.4 L1556.9 539.1 L1557.2 540.9 L1557.6 542.8 L1557.9 545.0 L1558.1 546.4 L1558.2 547.9 L1558.4 549.5 L1558.6 551.1 L1558.7 552.8 L1558.8 554.6 L1559.0 556.5 L1559.1 558.4 L1559.2 560.4 L1559.3 562.4 L1559.5 564.5 L1559.6 566.5 L1559.7 568.7 L1559.8 570.8 L1559.9 573.0 L1560.0 575.1 L1560.1 577.3 L1560.2 579.4 L1560.3 581.6 L1560.4 583.8 L1560.5 585.9 L1560.6 588.0 L1560.7 590.0 L1560.8 592.1 L1560.9 594.1 L1561.0 596.0 L1561.1 598.0 L1561.2 599.9 L1561.3 601.9 L1561.4 603.9 L1561.6 605.8 L1561.7 607.8 L1561.8 609.7 L1561.9 611.7 L1562.0 613.6 L1562.1 615.6 L1562.2 617.5 L1562.3 619.4 L1562.4 621.3 L1562.5 623.3 L1562.6 625.2 L1562.7 627.1 L1562.8 629.0 L1562.9 630.9 L1563.0 632.7 L1563.1 634.6 L1563.2 636.5 L1563.3 638.3 L1563.4 640.2 L1563.5 642.0 L1563.6 644.0 L1563.7 645.9 L1563.8 647.9 L1563.9 649.8 L1564.0 651.8 L1564.1 653.7 L1564.2 655.6 L1564.3 657.5 L1564.4 659.4 L1564.5 661.3 L1564.6 663.1 L1564.7 665.0 L1564.8 666.9 L1564.8 668.8 L1564.9 670.6 L1565.0 672.5 L1565.1 674.4 L1565.2 676.2 L1565.3 678.1 L1565.4 680.0 L1565.5 682.0 L1565.6 683.9 L1565.7 685.9 L1565.8 687.8 L1565.9 689.8 L1566.0 691.7 L1566.1 693.6 L1566.2 695.6 L1566.3 697.5 L1566.4 699.5 L1566.5 701.4 L1566.6 703.4 L1566.7 705.3 L1566.8 707.2 L1566.9 709.2 L1566.9 711.1 L1567.0 713.1 L1567.1 715.0 L1567.2 717.0 L1567.3 718.9 L1567.4 720.8 L1567.4 722.8 L1567.5 724.7 L1567.6 726.7 L1567.6 728.7 L1567.7 730.7 L1567.8 732.7 L1567.9 734.7 L1567.9 736.7 L1568.0 738.6 L1568.0 740.6 L1568.1 742.5 L1568.2 744.4 L1568.2 746.3 L1568.3 748.1 L1568.3 749.9 L1568.4 751.7 L1568.4 753.4 L1568.5 755.0 L1568.6 757.1 L1568.6 759.0 L1568.7 760.8 L1568.7 762.6 L1568.8 764.2 L1568.8 765.9 L1568.9 767.7 L1568.9 769.5 L1569.0 771.5 L1569.0 773.6 L1569.1 776.0 L1569.1 777.4 L1569.2 778.8 L1569.2 780.3 L1569.3 781.9 L1569.3 783.4 L1569.4 785.1 L1569.4 786.8 L1569.5 788.5 L1569.6 790.3 L1569.6 792.1 L1569.7 793.9 L1569.8 795.8 L1569.8 797.7 L1569.9 799.6 L1570.0 801.6 L1570.0 803.6 L1570.1 805.6 L1570.2 807.7 L1570.2 809.7 L1570.3 811.8 L1570.4 813.9 L1570.4 816.0 L1570.5 818.1 L1570.6 820.3 L1570.7 822.4 L1570.7 824.6 L1570.8 826.7 L1570.9 828.9 L1570.9 831.0 L1571.0 833.2 L1571.1 835.3 L1571.1 837.4 L1571.2 839.6 L1571.3 841.7 L1571.3 843.8 L1571.4 845.9 L1571.4 847.9 L1571.5 850.0 L1571.6 852.1 L1571.6 854.3 L1571.7 856.5 L1571.7 858.7 L1571.8 860.9 L1571.8 863.2 L1571.9 865.4 L1571.9 867.7 L1572.0 870.0 L1572.1 872.2 L1572.1 874.5 L1572.2 876.8 L1572.2 879.1 L1572.3 881.5 L1572.3 883.8 L1572.4 886.1 L1572.4 888.4 L1572.5 890.8 L1572.5 893.1 L1572.6 895.4 L1572.6 897.7 L1572.7 900.1 L1572.7 902.4 L1572.7 904.7 L1572.8 907.0 L1572.8 909.3 L1572.9 911.6 L1572.9 913.8 L1573.0 916.1 L1573.0 918.4 L1573.1 920.6 L1573.1 922.8 L1573.2 925.1 L1573.2 927.2 L1573.3 929.4 L1573.3 931.6 L1573.4 933.7 L1573.4 935.8 L1573.5 937.9 L1573.5 940.0 L1573.5 942.1 L1573.6 944.2 L1573.6 946.2 L1573.7 948.3 L1573.7 950.3 L1573.8 952.3 L1573.8 954.3 L1573.9 956.3 L1573.9 958.2 L1574.0 960.2 L1574.0 962.1 L1574.1 964.1 L1574.1 966.0 L1574.1 967.9 L1574.2 969.8 L1574.2 971.7 L1574.3 973.6 L1574.3 975.5 L1574.4 977.4 L1574.4 979.3 L1574.5 981.2 L1574.5 983.1 L1574.6 985.0 L1574.6 986.8 L1574.6 988.7 L1574.7 990.6 L1574.7 992.5 L1574.8 994.4 L1574.8 996.3 L1574.9 998.2 L1574.9 1000.1 L1575.0 1002.1 L1575.0 1004.0 L1575.0 1002.1 L1575.1 1000.1 L1575.1 998.2 L1575.1 996.3 L1575.2 994.4 L1575.2 992.5 L1575.2 990.6 L1575.2 988.7 L1575.3 986.8 L1575.3 985.0 L1575.3 983.1 L1575.4 981.2 L1575.4 979.3 L1575.4 977.4 L1575.5 975.5 L1575.5 973.6 L1575.5 971.7 L1575.6 969.8 L1575.6 967.9 L1575.6 966.0 L1575.6 964.1 L1575.7 962.1 L1575.7 960.2 L1575.7 958.2 L1575.8 956.3 L1575.8 954.3 L1575.8 952.3 L1575.9 950.3 L1575.9 948.3 L1575.9 946.2 L1575.9 944.2 L1576.0 942.1 L1576.0 940.0 L1576.0 937.9 L1576.1 935.8 L1576.1 933.7 L1576.1 931.5 L1576.1 929.3 L1576.2 927.0 L1576.2 924.8 L1576.2 922.5 L1576.2 920.2 L1576.3 917.8 L1576.3 915.5 L1576.3 913.1 L1576.3 910.7 L1576.4 908.4 L1576.4 906.0 L1576.4 903.6 L1576.4 901.2 L1576.5 898.8 L1576.5 896.4 L1576.5 894.0 L1576.5 891.6 L1576.5 889.2 L1576.6 886.8 L1576.6 884.4 L1576.6 882.1 L1576.6 879.8 L1576.7 877.4 L1576.7 875.1 L1576.7 872.9 L1576.7 870.6 L1576.8 868.4 L1576.8 866.2 L1576.8 864.0 L1576.8 861.9 L1576.9 859.8 L1576.9 857.8 L1576.9 855.8 L1576.9 853.8 L1577.0 851.9 L1577.0 850.0 L1577.0 847.8 L1577.1 845.6 L1577.1 843.5 L1577.1 841.4 L1577.2 839.4 L1577.2 837.4 L1577.2 835.5 L1577.3 833.5 L1577.3 831.7 L1577.3 829.8 L1577.4 827.9 L1577.4 826.1 L1577.4 824.3 L1577.5 822.5 L1577.5 820.7 L1577.6 818.9 L1577.6 817.1 L1577.6 815.3 L1577.7 813.5 L1577.7 811.6 L1577.7 809.8 L1577.8 807.9 L1577.8 806.0 L1578.3 807.8 L1578.9 809.6 L1579.4 811.4 L1579.9 813.2 L1580.5 814.9 L1581.0 816.7 L1581.6 818.5 L1582.1 820.4 L1582.6 822.2 L1583.0 824.1 L1583.5 826.0 L1583.9 827.8 L1584.3 829.6 L1584.6 831.5 L1585.0 833.3 L1585.3 835.2 L1585.7 837.0 L1586.0 839.0 L1586.3 840.9 L1586.6 842.8 L1586.9 844.8 L1587.2 846.8 L1587.5 848.9 L1587.8 851.0 L1588.1 852.8 L1588.3 854.6 L1588.6 856.5 L1588.8 858.4 L1589.1 860.4 L1589.3 862.4 L1589.6 864.4 L1589.8 866.4 L1590.0 868.5 L1590.3 870.5 L1590.5 872.6 L1590.7 874.6 L1591.0 876.6 L1591.2 878.6 L1591.4 880.6 L1591.6 882.5 L1591.8 884.4 L1592.0 886.2 L1592.2 888.0 L1592.4 890.1 L1592.6 892.1 L1592.8 894.1 L1593.0 896.1 L1593.2 898.0 L1593.4 899.9 L1593.5 901.7 L1593.7 903.6 L1593.9 905.5 L1594.1 907.3 L1594.3 909.2 L1594.5 911.1 L1594.7 913.0 L1594.9 914.9 L1595.2 916.9 L1595.5 918.8 L1595.7 920.7 L1596.0 922.6 L1596.3 924.5 L1596.6 926.5 L1596.9 928.4 L1597.2 930.3 L1597.5 932.2 L1597.8 934.2 L1598.1 936.1 L1598.4 938.0 L1598.7 939.9 L1599.0 941.8 L1599.2 943.8 L1599.5 945.7 L1599.8 947.6 L1600.0 949.5 L1600.3 951.5 L1600.6 953.4 L1600.9 955.3 L1601.2 957.2 L1601.5 959.2 L1601.8 961.1 L1602.2 963.0 L1602.6 964.9 L1603.0 966.9 L1603.4 968.8 L1603.8 970.7 L1604.2 972.6 L1604.7 974.5 L1605.1 976.5 L1605.6 978.4 L1606.0 980.3 L1606.5 982.2 L1606.9 984.2 L1607.4 986.1 L1607.8 988.0 L1608.1 986.1 L1608.3 984.2 L1608.6 982.3 L1608.8 980.5 L1609.1 978.6 L1609.4 976.8 L1609.6 974.9 L1609.9 973.0 L1610.1 971.1 L1610.4 969.1 L1610.6 967.1 L1610.8 965.1 L1611.0 963.0 L1611.1 961.2 L1611.3 959.4 L1611.4 957.5 L1611.5 955.6 L1611.7 953.7 L1611.8 951.8 L1611.9 949.8 L1612.0 947.8 L1612.0 945.8 L1612.1 943.8 L1612.2 941.8 L1612.3 939.8 L1612.4 937.8 L1612.4 935.7 L1612.5 933.7 L1612.6 931.7 L1612.6 929.7 L1612.7 927.7 L1612.8 925.7 L1612.9 923.7 L1612.9 921.7 L1613.0 919.7 L1613.0 917.6 L1613.1 915.5 L1613.1 913.5 L1613.2 911.4 L1613.2 909.3 L1613.2 907.3 L1613.3 905.2 L1613.3 903.2 L1613.4 901.1 L1613.4 899.2 L1613.5 897.2 L1613.6 895.3 L1613.6 893.4 L1613.7 891.5 L1613.9 889.7 L1614.0 888.0 L1614.2 885.9 L1614.3 883.8 L1614.5 881.6 L1614.7 879.5 L1614.9 877.5 L1615.1 875.5 L1615.3 873.6 L1615.6 871.7 L1615.9 870.1 L1616.2 868.5 L1616.6 867.2 L1617.0 866.0 L1617.9 864.0 L1619.0 862.5 L1620.0 862.0 L1620.6 862.5 L1621.2 863.6 L1621.8 865.3 L1622.4 867.3 L1622.9 869.5 L1623.5 871.8 L1624.1 873.9 L1624.6 875.8 L1625.2 877.6 L1625.7 879.4 L1626.3 881.2 L1626.8 883.0 L1627.3 884.7 L1627.9 886.5 L1628.4 888.3 L1628.9 890.1 L1629.5 891.8 L1630.0 893.6 L1630.6 895.4 L1631.1 897.2 L1631.6 899.0 L1632.1 900.8 L1632.5 902.6 L1632.8 904.4 L1633.2 906.4 L1633.5 908.3 L1633.8 910.1 L1634.1 911.9 L1634.5 913.5 L1635.0 915.0 L1635.7 916.8 L1636.5 918.6 L1637.3 920.0 L1638.4 920.7 L1639.8 920.3 L1641.5 919.1 L1643.2 917.8 L1644.6 917.6 L1645.4 918.3 L1646.0 919.6 L1646.6 921.3 L1647.0 923.3 L1647.4 925.5 L1647.7 927.7 L1648.0 929.9 L1648.4 932.0 L1648.7 933.8 L1649.0 935.5 L1649.3 937.3 L1649.6 939.2 L1649.8 941.0 L1650.1 942.9 L1650.3 944.8 L1650.5 946.7 L1650.7 948.7 L1650.9 950.7 L1651.1 952.5 L1651.2 954.4 L1651.4 956.3 L1651.5 958.2 L1651.7 960.1 L1651.8 962.1 L1651.9 964.1 L1652.1 966.1 L1652.2 968.1 L1652.3 970.1 L1652.4 972.1 L1652.6 974.0 L1652.7 976.0 L1653.0 974.1 L1653.3 972.2 L1653.6 970.2 L1653.9 968.3 L1654.2 966.4 L1654.5 964.4 L1654.8 962.5 L1655.1 960.6 L1655.4 958.8 L1655.8 957.0 L1656.2 955.1 L1656.7 953.2 L1657.2 951.5 L1657.6 949.7 L1658.1 947.9 L1658.6 946.1 L1659.1 944.1 L1659.6 942.0 L1659.9 940.3 L1660.3 938.6 L1660.6 936.7 L1660.9 934.8 L1661.2 932.8 L1661.6 930.8 L1661.9 928.7 L1662.2 926.6 L1662.5 924.6 L1662.8 922.5 L1663.2 920.5 L1663.5 918.5 L1663.9 916.6 L1664.2 914.8 L1664.6 913.0 L1665.1 911.0 L1665.5 909.0 L1666.0 907.1 L1666.5 905.2 L1667.0 903.4 L1667.5 901.6 L1668.0 899.8 L1668.6 898.0 L1669.1 896.3 L1669.6 894.5 L1670.1 892.6 L1670.6 890.7 L1671.1 888.7 L1671.5 886.7 L1672.0 884.8 L1672.6 883.0 L1673.2 881.3 L1673.8 879.7 L1674.6 878.3 L1675.8 876.5 L1677.3 874.7 L1678.8 873.3 L1680.2 872.3 L1681.4 872.0 L1682.4 872.7 L1683.2 874.1 L1683.9 875.9 L1684.5 878.0 L1684.8 879.3 L1685.1 880.7 L1685.4 882.2 L1685.5 883.9 L1685.7 885.6 L1685.9 887.4 L1686.0 889.3 L1686.1 891.3 L1686.2 893.4 L1686.3 895.5 L1686.4 897.7 L1686.5 900.0 L1686.6 901.5 L1686.6 903.0 L1686.7 904.6 L1686.8 906.3 L1686.8 908.0 L1686.9 909.7 L1686.9 911.5 L1687.0 913.3 L1687.0 915.1 L1687.0 917.0 L1687.0 919.0 L1687.1 920.9 L1687.1 922.9 L1687.1 924.9 L1687.1 926.9 L1687.2 928.9 L1687.2 931.0 L1687.2 933.1 L1687.2 935.1 L1687.2 937.2 L1687.2 939.3 L1687.3 941.4 L1687.3 943.5 L1687.3 945.6 L1687.3 947.7 L1687.3 949.8 L1687.4 951.9 L1687.4 953.9 L1687.4 956.0 L1687.5 958.0 L1687.5 960.0 L1687.5 961.9 L1687.6 963.8 L1687.6 965.7 L1687.7 967.6 L1687.7 969.5 L1687.7 971.4 L1687.8 973.3 L1687.8 975.3 L1687.9 977.2 L1687.9 979.1 L1687.9 981.1 L1688.0 983.0 L1688.0 984.9 L1688.1 986.9 L1688.1 988.8 L1688.2 990.8 L1688.2 992.8 L1688.2 994.7 L1688.3 996.7 L1688.3 998.6 L1688.4 1000.6 L1688.4 1002.6 L1688.5 1004.5 L1688.5 1006.5 L1688.6 1008.4 L1688.6 1010.4 L1688.6 1012.4 L1688.7 1014.3 L1688.7 1016.3 L1688.8 1018.2 L1688.8 1020.2 L1688.9 1022.2 L1688.9 1024.1 L1689.0 1026.1 L1689.0 1028.0 L1689.1 1026.1 L1689.1 1024.1 L1689.2 1022.2 L1689.2 1020.2 L1689.3 1018.2 L1689.3 1016.3 L1689.4 1014.3 L1689.4 1012.3 L1689.5 1010.3 L1689.5 1008.3 L1689.6 1006.4 L1689.7 1004.4 L1689.7 1002.4 L1689.8 1000.4 L1689.8 998.5 L1689.9 996.6 L1689.9 994.6 L1690.0 992.7 L1690.1 990.8 L1690.1 989.0 L1690.2 987.1 L1690.3 985.3 L1690.3 983.5 L1690.4 981.7 L1690.5 980.0 L1690.6 977.9 L1690.7 975.8 L1690.8 973.7 L1690.9 971.6 L1691.0 969.5 L1691.1 967.4 L1691.2 965.4 L1691.3 963.4 L1691.4 961.4 L1691.5 959.4 L1691.6 957.6 L1691.7 955.8 L1691.9 954.0 L1692.0 952.4 L1692.2 950.8 L1692.3 949.4 L1692.5 948.0 L1692.8 945.8 L1693.2 944.0 L1693.6 942.3 L1694.0 940.7 L1694.5 939.0 L1695.0 937.3 L1695.4 935.4 L1695.9 933.6 L1696.5 931.8 L1697.2 930.3 L1698.0 929.0 L1699.5 927.5 L1701.2 926.4 L1703.0 926.0 L1704.5 926.9 L1706.1 928.7 L1707.6 930.4 L1709.0 931.0 L1710.0 930.4 L1711.0 929.1 L1711.9 927.3 L1712.8 925.3 L1713.7 923.1 L1714.5 921.0 L1715.1 919.3 L1715.7 917.6 L1716.3 915.6 L1716.9 913.7 L1717.4 911.6 L1717.9 909.6 L1718.5 907.6 L1719.0 905.6 L1719.5 903.8 L1720.0 902.0 L1720.6 900.1 L1721.1 898.2 L1721.5 896.4 L1722.0 894.7 L1722.6 893.0 L1723.2 891.5 L1724.0 890.0 L1725.2 888.1 L1726.6 886.2 L1728.1 884.4 L1729.4 883.3 L1730.5 883.0 L1731.0 883.5 L1731.4 884.6 L1731.7 886.1 L1731.9 888.0 L1732.0 890.2 L1732.1 892.6 L1732.2 895.0 L1732.2 897.5 L1732.3 899.8 L1732.4 902.0 L1732.5 903.8 L1732.7 905.6 L1732.8 907.5 L1732.9 909.3 L1733.0 911.2 L1733.1 913.1 L1733.2 915.0 L1733.3 917.0 L1733.4 918.9 L1733.5 920.9 L1733.5 922.9 L1733.6 925.0 L1733.7 927.0 L1733.8 928.8 L1733.8 930.7 L1733.8 932.5 L1733.9 934.4 L1733.9 936.3 L1733.9 938.3 L1733.9 940.2 L1734.0 942.1 L1734.0 944.1 L1734.0 946.1 L1734.0 948.1 L1734.1 950.1 L1734.1 952.0 L1734.2 954.0 L1734.3 956.0 L1734.4 958.0 L1734.5 960.0 L1734.6 961.9 L1734.8 963.7 L1735.0 965.6 L1735.1 967.5 L1735.3 969.4 L1735.5 971.3 L1735.7 973.2 L1736.0 975.1 L1736.2 977.0 L1736.4 978.9 L1736.6 980.8 L1736.9 982.7 L1737.1 984.6 L1737.4 986.5 L1737.6 988.4 L1737.8 990.3 L1738.1 992.2 L1738.3 994.1 L1738.5 996.0 L1738.7 994.1 L1738.9 992.2 L1739.1 990.3 L1739.3 988.4 L1739.5 986.5 L1739.7 984.5 L1739.9 982.6 L1740.1 980.7 L1740.3 978.8 L1740.5 976.9 L1740.7 975.0 L1740.9 973.1 L1741.1 971.2 L1741.3 969.3 L1741.5 967.4 L1741.7 965.5 L1741.9 963.6 L1742.1 961.6 L1742.3 959.7 L1742.4 957.8 L1742.6 955.8 L1742.7 953.9 L1742.9 952.0 L1743.0 950.0 L1743.1 948.1 L1743.2 946.1 L1743.3 944.1 L1743.3 942.1 L1743.4 940.1 L1743.4 938.0 L1743.5 935.9 L1743.5 933.8 L1743.5 931.6 L1743.5 929.5 L1743.5 927.4 L1743.5 925.3 L1743.5 923.2 L1743.6 921.1 L1743.6 919.1 L1743.6 917.1 L1743.6 915.1 L1743.7 913.2 L1743.7 911.3 L1743.8 909.5 L1743.9 907.7 L1743.9 906.0 L1744.1 904.4 L1744.2 902.8 L1744.3 901.4 L1744.5 900.0 L1744.8 897.7 L1745.1 895.6 L1745.4 893.6 L1745.7 891.7 L1746.1 890.0 L1746.6 888.5 L1747.2 887.1 L1748.0 886.0 L1749.3 884.8 L1750.8 883.9 L1752.4 883.4 L1754.0 883.0 L1755.5 882.7 L1757.2 882.6 L1758.7 882.8 L1760.0 883.5 L1760.7 884.4 L1761.3 885.7 L1761.8 887.2 L1762.1 889.0 L1762.4 891.0 L1762.6 893.2 L1762.8 895.4 L1763.1 897.6 L1763.3 899.9 L1763.6 902.0 L1763.9 903.7 L1764.1 905.5 L1764.3 907.4 L1764.6 909.3 L1764.8 911.3 L1765.0 913.3 L1765.2 915.4 L1765.5 917.4 L1765.7 919.5 L1765.9 921.5 L1766.1 923.5 L1766.3 925.5 L1766.6 927.5 L1766.8 929.4 L1767.0 931.2 L1767.3 933.0 L1767.6 935.0 L1767.9 936.9 L1768.3 938.8 L1768.6 940.6 L1768.9 942.4 L1769.3 944.2 L1769.6 945.9 L1770.0 947.7 L1770.3 949.4 L1770.7 951.2 L1771.0 953.0 L1771.8 951.4 L1772.7 949.9 L1773.5 948.2 L1774.2 946.0 L1774.5 944.8 L1774.7 943.5 L1774.9 942.0 L1775.1 940.4 L1775.3 938.7 L1775.4 936.9 L1775.5 934.9 L1775.7 932.9 L1775.8 930.9 L1775.9 928.7 L1776.0 926.5 L1776.0 924.3 L1776.1 922.1 L1776.2 919.9 L1776.3 917.7 L1776.4 915.5 L1776.5 913.4 L1776.6 911.3 L1776.7 909.2 L1776.8 907.3 L1777.0 905.4 L1777.1 903.6 L1777.3 902.0 L1777.6 899.8 L1777.9 897.4 L1778.2 894.9 L1778.5 892.5 L1778.8 890.1 L1779.1 887.8 L1779.4 885.7 L1779.8 883.8 L1780.1 882.2 L1780.4 881.0 L1780.7 880.3 L1781.0 880.0 L1781.3 880.3 L1781.6 881.2 L1781.9 882.5 L1782.2 884.2 L1782.5 886.2 L1782.7 888.4 L1783.0 890.8 L1783.3 893.2 L1783.5 895.6 L1783.8 897.9 L1784.0 900.0 L1784.2 901.7 L1784.4 903.5 L1784.5 905.3 L1784.7 907.1 L1784.8 909.0 L1785.0 910.9 L1785.1 912.7 L1785.2 914.7 L1785.4 916.6 L1785.5 918.5 L1785.6 920.4 L1785.7 922.3 L1785.8 924.2 L1785.9 926.1 L1786.0 928.0 L1786.1 929.9 L1786.2 931.7 L1786.3 933.6 L1786.3 935.5 L1786.4 937.3 L1786.5 939.2 L1786.5 941.1 L1786.6 942.9 L1786.6 944.8 L1786.7 946.7 L1786.8 948.5 L1786.8 950.4 L1786.9 952.3 L1786.9 954.1 L1787.0 956.0 L1787.2 954.0 L1787.3 952.0 L1787.4 949.9 L1787.6 947.7 L1787.7 945.6 L1787.8 943.4 L1787.9 941.2 L1788.1 939.1 L1788.2 936.9 L1788.3 934.8 L1788.5 932.8 L1788.6 930.8 L1788.8 928.9 L1789.0 927.1 L1789.2 925.4 L1789.4 923.8 L1789.6 922.3 L1789.8 921.0 L1790.2 918.9 L1790.5 917.1 L1790.9 915.5 L1791.5 914.1 L1792.3 913.0 L1793.6 912.2 L1795.2 911.7 L1796.9 911.4 L1798.5 911.0 L1800.1 910.4 L1801.7 909.9 L1803.3 909.2 L1804.8 908.5 L1806.4 907.5 L1807.9 906.4 L1809.4 905.2 L1811.0 904.2 L1812.6 903.3 L1814.1 902.6 L1815.7 901.8 L1817.3 901.0 L1818.9 900.1 L1820.4 899.1 L1821.9 898.2 L1823.5 897.3 L1825.0 896.6 L1826.5 896.1 L1828.0 895.5 L1829.7 894.8 L1831.3 894.1 L1833.0 893.3 L1834.8 892.4 L1836.6 891.5 L1838.5 890.5 L1840.4 889.6 L1842.2 888.6 L1843.8 887.7 L1845.3 886.7 L1846.9 885.7 L1848.4 884.7 L1850.0 883.7 L1851.5 882.8 L1853.1 881.8 L1854.7 881.0 L1856.5 880.2 L1858.2 879.4 L1860.0 878.7 L1861.8 878.1 L1863.6 877.4 L1865.4 876.8 L1867.2 876.1 L1869.0 875.4 L1870.8 874.7 L1872.6 874.0 L1874.4 873.3 L1876.1 872.6 L1877.9 871.9 L1879.7 871.1 L1881.5 870.3 L1883.3 869.4 L1885.0 868.6 L1886.8 867.7 L1888.6 866.8 L1890.3 865.9 L1892.1 864.9 L1893.7 864.0 L1895.3 863.1 L1897.0 862.1 L1898.7 861.2 L1900.3 860.2 L1901.8 859.2 L1903.3 858.3 L1904.6 857.4 L1906.0 856.4 L1907.3 855.3 L1908.5 854.3 L1909.7 853.3 L1910.9 852.4 L1912.4 851.3 L1914.0 850.3 L1915.5 849.4 L1917.1 848.6 L1918.6 847.9 L1920.2 847.4 L1921.7 846.9 L1923.3 846.5 L1924.9 846.2 L1926.5 845.9 L1928.1 845.8 L1929.6 845.8 L1931.4 846.0 L1933.1 846.3 L1934.6 847.0 L1936.0 848.0 L1937.2 849.4 L1938.3 851.0 L1939.2 852.5 L1940.0 854.1 L1940.7 856.0 L1941.4 857.9 L1942.0 860.0 L1942.4 861.6 L1942.8 863.4 L1943.1 865.2 L1943.3 867.1 L1943.6 869.1 L1943.8 871.1 L1944.0 873.1 L1944.3 875.2 L1944.5 877.3 L1944.7 879.1 L1944.9 880.9 L1945.1 882.8 L1945.3 884.6 L1945.5 886.6 L1945.7 888.5 L1945.9 890.5 L1946.1 892.5 L1946.2 894.5 L1946.4 896.4 L1946.6 898.4 L1946.8 900.4 L1947.0 902.3 L1947.2 904.2 L1947.4 906.1 L1947.6 908.1 L1947.8 910.0 L1948.0 911.9 L1948.2 913.8 L1948.3 915.8 L1948.5 917.7 L1948.7 919.6 L1948.9 921.5 L1949.1 923.5 L1949.3 925.4 L1949.5 927.3 L1949.7 929.2 L1949.9 931.2 L1950.1 933.1 L1950.3 935.1 L1950.5 937.1 L1950.6 939.0 L1950.8 941.0 L1951.0 942.9 L1951.2 944.8 L1951.4 946.7 L1951.6 948.6 L1951.8 950.4 L1952.0 952.2 L1952.2 954.4 L1952.5 956.5 L1952.7 958.6 L1953.0 960.7 L1953.2 962.8 L1953.4 964.7 L1953.7 966.6 L1953.9 968.4 L1954.2 970.0 L1954.6 972.1 L1955.0 974.0 L1955.4 975.7 L1955.8 977.5 L1956.2 975.7 L1956.5 973.9 L1956.9 972.1 L1957.3 970.4 L1957.6 968.5 L1958.0 966.7 L1958.3 964.7 L1958.6 963.0 L1958.8 961.2 L1959.1 959.4 L1959.3 957.6 L1959.6 955.7 L1959.8 953.8 L1960.1 951.9 L1960.3 950.0 L1960.5 948.0 L1960.8 946.0 L1961.0 944.2 L1961.3 942.3 L1961.5 940.4 L1961.7 938.5 L1962.0 936.5 L1962.2 934.5 L1962.4 932.5 L1962.7 930.5 L1962.9 928.5 L1963.2 926.6 L1963.4 924.7 L1963.7 922.8 L1963.9 921.0 L1964.2 919.0 L1964.5 917.1 L1964.8 915.3 L1965.1 913.5 L1965.3 911.6 L1965.6 909.8 L1965.9 908.0 L1966.2 906.2 L1966.5 904.3 L1966.8 902.3 L1967.0 900.5 L1967.3 898.6 L1967.5 896.6 L1967.7 894.6 L1967.9 892.6 L1968.2 890.5 L1968.4 888.5 L1968.6 886.5 L1968.9 884.5 L1969.1 882.6 L1969.4 880.7 L1969.7 879.0 L1970.0 877.3 L1970.4 875.1 L1970.8 872.9 L1971.2 870.7 L1971.7 868.7 L1972.2 866.9 L1972.9 865.3 L1973.7 864.0 L1975.0 862.7 L1976.4 861.7 L1977.9 861.1 L1979.3 861.0 L1980.5 861.6 L1981.7 862.7 L1982.7 864.3 L1983.7 866.0 L1984.3 867.4 L1984.8 869.1 L1985.3 870.9 L1985.7 872.8 L1986.0 874.9 L1986.4 877.1 L1986.7 879.3 L1987.0 881.4 L1987.4 883.6 L1987.7 885.4 L1988.0 887.2 L1988.3 889.0 L1988.6 890.9 L1988.9 892.9 L1989.2 894.8 L1989.5 896.8 L1989.8 898.7 L1990.1 900.7 L1990.3 902.7 L1990.6 904.6 L1990.9 906.6 L1991.2 908.5 L1991.5 910.4 L1991.8 912.4 L1992.1 914.3 L1992.3 916.3 L1992.6 918.2 L1992.9 920.2 L1993.2 922.1 L1993.5 924.0 L1993.7 926.0 L1994.0 927.9 L1994.3 929.8 L1994.6 931.6 L1994.9 933.5 L1995.2 935.5 L1995.5 937.6 L1995.8 939.6 L1996.0 941.7 L1996.3 943.7 L1996.6 945.7 L1996.9 947.7 L1997.2 949.6 L1997.6 951.4 L1998.1 953.1 L1998.7 954.7 L1999.5 956.6 L2000.4 958.6 L2001.3 960.5 L2002.3 962.2 L2003.4 963.6 L2004.4 964.6 L2005.5 965.0 L2006.8 964.7 L2008.2 963.6 L2009.7 962.1 L2011.1 960.3 L2012.4 958.5 L2013.3 957.1 L2014.2 955.6 L2015.0 954.0 L2015.9 952.3 L2016.7 950.5 L2017.5 948.7 L2018.3 946.9 L2019.1 945.2 L2019.9 943.5 L2020.8 941.8 L2021.7 940.1 L2022.6 938.4 L2023.4 936.8 L2024.4 935.1 L2025.3 933.4 L2026.3 931.6 L2027.3 929.8 L2028.1 928.3 L2029.0 926.8 L2030.0 925.2 L2030.9 923.6 L2031.9 922.0 L2032.9 920.4 L2033.9 918.7 L2034.9 917.0 L2035.9 915.3 L2036.9 913.6 L2037.9 911.9 L2038.8 910.2 L2039.8 908.5 L2040.7 906.9 L2041.6 905.2 L2042.5 903.5 L2043.4 901.9 L2044.3 900.2 L2045.2 898.5 L2046.1 896.8 L2047.0 895.1 L2047.9 893.4 L2048.8 891.7 L2049.6 890.0 L2050.5 888.2 L2051.4 886.5 L2052.3 884.8 L2053.2 883.0 L2054.1 881.3 L2055.0 879.5 L2055.9 877.7 L2056.8 875.9 L2057.7 874.0 L2058.7 872.2 L2059.6 870.4 L2060.5 868.6 L2061.3 866.8 L2062.2 865.1 L2063.1 863.3 L2064.0 861.6 L2064.8 859.9 L2065.7 858.1 L2066.6 856.4 L2067.4 854.6 L2068.3 852.9 L2069.2 851.1 L2070.0 849.4 L2070.9 847.8 L2071.7 846.1 L2072.5 844.5 L2073.3 842.9 L2074.0 841.4 L2074.8 839.9 L2075.8 838.0 L2076.7 836.1 L2077.5 834.3 L2078.4 832.5 L2079.3 830.9 L2080.1 829.4 L2081.0 828.0 L2082.1 826.3 L2083.2 824.7 L2084.3 823.5 L2085.4 823.0 L2086.5 823.6 L2087.7 825.0 L2088.8 826.9 L2089.7 829.0 L2090.2 830.4 L2090.6 831.9 L2090.9 833.6 L2091.3 835.4 L2091.5 837.3 L2091.8 839.3 L2092.0 841.4 L2092.2 843.6 L2092.3 845.8 L2092.5 848.0 L2092.7 850.2 L2092.9 852.4 L2093.1 854.2 L2093.2 855.9 L2093.3 857.8 L2093.4 859.6 L2093.6 861.5 L2093.7 863.4 L2093.8 865.3 L2093.8 867.2 L2093.9 869.2 L2094.0 871.2 L2094.1 873.2 L2094.2 875.2 L2094.2 877.3 L2094.3 879.3 L2094.4 881.4 L2094.4 883.5 L2094.5 885.6 L2094.6 887.7 L2094.7 889.8 L2094.8 891.7 L2094.9 893.6 L2094.9 895.5 L2095.0 897.5 L2095.1 899.5 L2095.2 901.5 L2095.2 903.5 L2095.3 905.5 L2095.4 907.6 L2095.5 909.7 L2095.5 911.7 L2095.6 913.8 L2095.7 915.9 L2095.7 917.9 L2095.8 920.0 L2095.9 922.1 L2096.0 924.1 L2096.0 926.2 L2096.1 928.2 L2096.2 930.2 L2096.3 932.1 L2096.4 934.1 L2096.4 936.0 L2096.5 937.9 L2096.6 939.7 L2096.7 941.8 L2096.8 943.9 L2096.9 945.9 L2097.0 948.0 L2097.1 949.9 L2097.2 951.9 L2097.3 953.9 L2097.4 955.8 L2097.5 957.7 L2097.6 959.6 L2097.7 961.6 L2097.9 963.5 L2098.0 965.4 L2098.1 967.3 L2098.2 969.2 L2098.3 971.1 L2098.4 973.0 L2098.5 975.0 L2098.6 973.1 L2098.8 971.1 L2098.9 969.2 L2099.1 967.3 L2099.2 965.3 L2099.3 963.4 L2099.5 961.5 L2099.6 959.6 L2099.8 957.6 L2099.9 955.7 L2100.0 953.8 L2100.2 951.8 L2100.3 949.9 L2100.5 947.9 L2100.6 946.0 L2100.7 944.0 L2100.9 942.0 L2101.0 940.0 L2101.1 938.2 L2101.2 936.3 L2101.4 934.4 L2101.5 932.5 L2101.6 930.6 L2101.7 928.7 L2101.8 926.8 L2102.0 924.8 L2102.1 922.9 L2102.2 921.0 L2102.3 919.0 L2102.4 917.1 L2102.5 915.2 L2102.7 913.2 L2102.8 911.3 L2102.9 909.4 L2103.0 907.5 L2103.1 905.6 L2103.3 903.7 L2103.4 901.9 L2103.5 900.0 L2103.6 898.0 L2103.8 896.0 L2103.9 894.0 L2104.0 892.0 L2104.1 890.0 L2104.2 888.0 L2104.3 886.0 L2104.4 884.0 L2104.5 882.1 L2104.7 880.1 L2104.8 878.2 L2104.9 876.2 L2105.1 874.3 L2105.2 872.4 L2105.4 870.5 L2105.6 868.6 L2105.8 866.8 L2106.0 864.9 L2106.3 862.8 L2106.6 860.5 L2106.9 858.0 L2107.2 855.5 L2107.6 852.9 L2107.9 850.3 L2108.3 847.9 L2108.7 845.5 L2109.1 843.2 L2109.4 841.2 L2109.8 839.5 L2110.1 838.0 L2110.4 836.9 L2110.7 836.2 L2111.0 836.0 L2111.3 836.4 L2111.6 837.3 L2111.9 838.8 L2112.1 840.7 L2112.4 842.9 L2112.6 845.2 L2112.8 847.6 L2113.0 850.0 L2113.1 851.4 L2113.2 852.8 L2113.3 854.4 L2113.4 856.0 L2113.5 857.7 L2113.6 859.4 L2113.6 861.2 L2113.7 863.1 L2113.7 865.1 L2113.8 867.0 L2113.9 869.0 L2113.9 871.1 L2114.0 873.2 L2114.0 875.3 L2114.0 877.4 L2114.1 879.5 L2114.1 881.7 L2114.2 883.8 L2114.2 886.0 L2114.3 888.1 L2114.3 890.2 L2114.4 892.3 L2114.4 894.4 L2114.5 896.4 L2114.6 898.4 L2114.6 900.4 L2114.7 902.3 L2114.8 904.3 L2114.9 906.3 L2115.0 908.4 L2115.0 910.4 L2115.1 912.4 L2115.2 914.4 L2115.3 916.3 L2115.4 918.3 L2115.5 920.3 L2115.6 922.3 L2115.7 924.2 L2115.8 926.2 L2115.9 928.2 L2116.0 930.2 L2116.1 932.1 L2116.2 934.1 L2116.3 936.1 L2116.4 938.0 L2116.5 940.0 L2116.6 942.0 L2116.7 944.0 L2116.8 946.0 L2116.9 948.0 L2117.0 950.0 L2117.1 951.9 L2117.2 953.8 L2117.3 955.7 L2117.4 957.6 L2117.5 959.5 L2117.6 961.5 L2117.7 963.4 L2117.8 965.3 L2117.9 967.2 L2118.0 969.1 L2118.1 971.1 L2118.2 973.0 L2118.3 974.9 L2118.4 976.9 L2118.5 978.8 L2118.6 980.7 L2118.8 982.6 L2118.9 984.6 L2119.0 986.5 L2119.1 988.4 L2119.2 990.4 L2119.3 992.3 L2119.4 994.2 L2119.5 996.2 L2119.6 998.1 L2119.7 1000.0 L2119.8 998.1 L2119.9 996.2 L2120.0 994.2 L2120.1 992.3 L2120.2 990.4 L2120.3 988.5 L2120.4 986.5 L2120.6 984.6 L2120.7 982.7 L2120.8 980.8 L2120.9 978.8 L2121.0 976.9 L2121.1 975.0 L2121.2 973.1 L2121.3 971.2 L2121.4 969.2 L2121.5 967.3 L2121.6 965.4 L2121.7 963.5 L2121.8 961.5 L2121.9 959.6 L2122.1 957.7 L2122.2 955.8 L2122.3 953.8 L2122.4 951.9 L2122.5 950.0 L2122.6 948.1 L2122.7 946.2 L2122.8 944.2 L2122.9 942.3 L2123.0 940.4 L2123.2 938.5 L2123.3 936.5 L2123.4 934.6 L2123.5 932.7 L2123.6 930.8 L2123.7 928.8 L2123.8 926.9 L2123.9 925.0 L2124.0 923.1 L2124.2 921.2 L2124.3 919.2 L2124.4 917.3 L2124.5 915.4 L2124.6 913.5 L2124.7 911.5 L2124.9 909.6 L2125.0 907.7 L2125.1 905.8 L2125.2 903.8 L2125.4 901.9 L2125.5 900.0 L2125.6 898.1 L2125.8 896.1 L2125.9 894.1 L2126.0 892.1 L2126.2 890.0 L2126.3 888.0 L2126.4 885.9 L2126.6 883.9 L2126.7 881.8 L2126.8 879.7 L2127.0 877.7 L2127.1 875.6 L2127.3 873.6 L2127.4 871.6 L2127.6 869.6 L2127.7 867.6 L2127.9 865.6 L2128.0 863.7 L2128.2 861.8 L2128.4 860.0 L2128.6 858.2 L2128.7 856.4 L2128.9 854.7 L2129.1 853.1 L2129.3 851.5 L2129.5 850.0 L2129.8 847.7 L2130.2 845.3 L2130.5 842.8 L2130.9 840.3 L2131.3 838.0 L2131.7 835.8 L2132.1 833.9 L2132.4 832.3 L2132.8 831.1 L2133.1 830.3 L2133.4 830.0 L2133.6 830.2 L2133.8 830.8 L2134.0 831.8 L2134.2 833.1 L2134.4 834.7 L2134.5 836.5 L2134.7 838.5 L2134.8 840.7 L2135.0 843.0 L2135.1 845.5 L2135.2 848.0 L2135.3 850.5 L2135.4 853.0 L2135.6 855.4 L2135.7 857.8 L2135.8 860.0 L2135.9 861.7 L2136.0 863.4 L2136.1 865.1 L2136.1 866.9 L2136.2 868.6 L2136.3 870.4 L2136.4 872.2 L2136.4 874.1 L2136.5 875.9 L2136.6 877.8 L2136.6 879.7 L2136.7 881.6 L2136.7 883.5 L2136.8 885.5 L2136.8 887.5 L2136.9 889.5 L2136.9 891.5 L2137.0 893.5 L2137.0 895.6 L2137.1 897.7 L2137.1 899.8 L2137.2 901.9 L2137.2 904.0 L2137.3 906.2 L2137.3 908.4 L2137.4 910.6 L2137.4 912.8 L2137.5 915.0 L2137.6 917.1 L2137.6 919.2 L2137.6 921.4 L2137.7 923.6 L2137.7 925.8 L2137.8 928.1 L2137.8 930.3 L2137.9 932.6 L2137.9 935.0 L2138.0 937.3 L2138.0 939.7 L2138.1 942.1 L2138.1 944.5 L2138.1 946.9 L2138.2 949.4 L2138.2 951.8 L2138.3 954.3 L2138.3 956.8 L2138.3 959.3 L2138.4 961.8 L2138.4 964.3 L2138.5 966.8 L2138.5 969.4 L2138.6 971.9 L2138.6 974.4 L2138.6 977.0 L2138.7 979.5 L2138.7 982.0 L2138.7 984.6 L2138.8 987.1 L2138.8 989.6 L2138.9 992.2 L2138.9 994.7 L2139.0 997.2 L2139.0 999.7 L2139.0 1002.2 L2139.1 1004.7 L2139.1 1007.1 L2139.2 1009.6 L2139.2 1012.0 L2139.3 1010.0 L2139.3 1008.0 L2139.4 1006.0 L2139.4 1003.9 L2139.4 1001.9 L2139.5 999.8 L2139.5 997.7 L2139.6 995.6 L2139.6 993.6 L2139.7 991.4 L2139.7 989.3 L2139.7 987.2 L2139.8 985.1 L2139.8 983.0 L2139.9 980.9 L2139.9 978.8 L2139.9 976.8 L2140.0 974.7 L2140.0 972.6 L2140.1 970.6 L2140.1 968.6 L2140.2 966.6 L2140.2 964.6 L2140.3 962.7 L2140.4 960.8 L2140.4 958.9 L2140.5 957.0 L2140.5 955.2 L2140.6 953.4 L2140.7 951.6 L2140.8 949.9 L2140.8 948.2 L2140.9 946.6 L2141.0 945.0 L2141.1 942.7 L2141.2 940.3 L2141.2 938.0 L2141.2 935.7 L2141.3 933.4 L2141.3 931.2 L2141.3 929.0 L2141.4 927.0 L2141.5 925.0 L2141.6 923.1 L2141.8 921.4 L2142.1 919.8 L2142.5 918.4 L2142.9 917.1 L2143.5 916.0 L2144.9 914.5 L2146.5 913.6 L2148.3 912.9 L2150.0 912.0 L2151.6 910.7 L2153.2 909.0 L2154.9 907.4 L2156.4 906.3 L2157.7 906.0 L2158.7 906.8 L2159.5 908.4 L2160.2 910.5 L2160.9 912.8 L2161.5 915.0 L2162.1 916.7 L2162.6 918.6 L2163.1 920.6 L2163.6 922.5 L2164.0 924.4 L2164.5 926.3 L2165.0 928.0 L2165.5 930.0 L2166.1 932.1 L2166.6 934.1 L2167.2 935.5 L2167.7 936.0 L2168.1 935.6 L2168.4 934.7 L2168.8 933.2 L2169.1 931.4 L2169.5 929.2 L2169.8 926.8 L2170.1 924.3 L2170.5 921.8 L2170.8 919.3 L2171.2 917.0 L2171.5 915.0 L2171.9 913.1 L2172.2 911.2 L2172.6 909.3 L2173.0 907.4 L2173.3 905.6 L2173.7 903.7 L2174.1 901.8 L2174.4 899.9 L2174.8 898.0 L2175.2 896.0 L2175.6 894.0 L2175.9 891.8 L2176.3 889.3 L2176.7 886.8 L2177.1 884.2 L2177.5 881.7 L2177.9 879.4 L2178.3 877.3 L2178.6 875.5 L2178.9 874.2 L2179.2 873.3 L2179.5 873.0 L2179.7 873.3 L2179.9 874.1 L2180.0 875.3 L2180.1 876.9 L2180.2 878.8 L2180.3 881.0 L2180.4 883.4 L2180.4 885.9 L2180.5 888.4 L2180.6 891.0 L2180.7 893.5 L2180.8 895.9 L2180.9 898.1 L2181.0 900.0 L2181.2 902.2 L2181.3 904.5 L2181.5 907.0 L2181.7 909.6 L2181.8 912.1 L2182.0 914.4 L2182.2 916.5 L2182.5 918.3 L2182.7 919.7 L2183.0 920.7 L2183.3 921.0 L2183.7 920.3 L2184.2 918.5 L2184.7 916.0 L2185.3 913.2 L2185.8 910.6 L2186.4 908.8 L2187.0 908.0 L2187.7 908.6 L2188.5 910.1 L2189.2 912.0 L2190.0 914.0 L2190.6 915.7 L2191.2 917.8 L2191.7 920.1 L2192.3 922.3 L2192.9 924.2 L2193.4 925.5 L2194.0 926.0 L2194.5 925.6 L2195.0 924.5 L2195.5 922.8 L2196.0 920.7 L2196.4 918.5 L2196.9 916.1 L2197.5 913.9 L2198.0 912.0 L2198.6 910.0 L2199.2 907.8 L2199.9 905.5 L2200.5 903.2 L2201.2 901.2 L2201.8 899.5 L2202.4 898.4 L2203.0 898.0 L2203.5 898.4 L2203.9 899.5 L2204.4 901.2 L2204.8 903.2 L2205.1 905.5 L2205.5 908.0 L2205.8 910.5 L2206.2 912.9 L2206.5 915.0 L2206.8 916.9 L2207.1 918.8 L2207.3 920.8 L2207.5 922.8 L2207.8 924.8 L2208.0 926.8 L2208.2 928.8 L2208.5 930.6 L2208.7 932.4 L2209.0 934.0 L2209.4 936.4 L2209.9 939.0 L2210.3 941.2 L2210.8 942.9 L2211.3 943.5 L2211.7 943.1 L2212.1 942.1 L2212.5 940.6 L2212.9 938.6 L2213.3 936.4 L2213.8 934.0 L2214.2 931.5 L2214.6 929.2 L2215.0 927.0 L2215.3 925.2 L2215.6 923.3 L2215.9 921.3 L2216.2 919.2 L2216.4 917.1 L2216.7 915.0 L2216.9 912.9 L2217.2 910.8 L2217.5 908.8 L2217.8 906.9 L2218.2 905.1 L2218.6 903.5 L2219.0 902.0 L2219.8 899.7 L2220.7 897.4 L2221.6 895.4 L2222.5 894.0 L2223.2 893.6 L2223.6 894.0 L2223.9 894.9 L2224.1 896.3 L2224.3 898.2 L2224.4 900.3 L2224.5 902.6 L2224.6 905.1 L2224.7 907.7 L2224.8 910.3 L2224.9 912.7 L2225.0 915.0 L2225.1 916.8 L2225.2 918.6 L2225.4 920.5 L2225.5 922.4 L2225.6 924.3 L2225.7 926.3 L2225.8 928.3 L2225.9 930.3 L2226.0 932.3 L2226.1 934.3 L2226.2 936.4 L2226.4 938.4 L2226.5 940.5 L2226.6 942.5 L2226.7 944.5 L2226.8 946.5 L2226.9 948.5 L2227.1 946.5 L2227.4 944.5 L2227.6 942.5 L2227.8 940.5 L2228.0 938.5 L2228.2 936.5 L2228.4 934.5 L2228.7 932.4 L2228.9 930.4 L2229.1 928.4 L2229.3 926.5 L2229.6 924.5 L2229.8 922.5 L2230.1 920.6 L2230.4 918.7 L2230.7 916.8 L2231.0 915.0 L2231.4 912.8 L2231.8 910.4 L2232.2 907.9 L2232.7 905.3 L2233.2 902.7 L2233.7 900.2 L2234.2 897.8 L2234.7 895.7 L2235.1 893.7 L2235.6 892.1 L2236.1 890.9 L2236.5 890.1 L2236.9 889.8 L2237.4 890.3 L2237.8 891.5 L2238.3 893.3 L2238.7 895.5 L2239.1 897.8 L2239.5 900.0 L2240.0 902.0 L2240.5 903.9 L2241.1 905.8 L2241.6 907.7 L2242.2 909.7 L2242.7 911.6 L2243.3 913.3 L2243.8 915.0 L2244.5 917.3 L2245.1 919.7 L2245.7 921.6 L2246.3 922.3 L2246.6 921.8 L2247.0 920.5 L2247.3 918.6 L2247.5 916.2 L2247.8 913.6 L2248.1 910.9 L2248.4 908.2 L2248.8 905.8 L2249.1 903.9 L2249.5 902.5 L2250.0 902.0 L2250.8 902.8 L2251.8 904.9 L2252.8 907.2 L2253.8 908.5 L2255.1 908.5 L2256.5 908.0 L2257.9 907.5 L2259.4 906.8 L2261.0 905.9 L2262.5 905.0 L2263.8 904.1 L2265.0 903.2 L2266.3 902.1 L2267.5 901.0 L2268.7 899.8 L2269.8 898.5 L2270.9 897.1 L2271.9 895.7 L2273.0 894.2 L2274.0 892.6 L2275.0 891.1 L2276.1 889.5 L2277.1 887.9 L2278.1 886.2 L2279.2 884.5 L2280.2 882.8 L2281.2 881.0 L2282.1 879.3 L2283.0 877.4 L2283.9 875.5 L2284.8 873.6 L2285.7 871.7 L2286.6 870.1 L2287.5 868.6 L2288.7 866.9 L2290.0 865.3 L2291.3 864.1 L2292.5 863.6 L2293.8 864.2 L2295.1 865.6 L2296.2 867.4 L2296.8 868.7 L2297.2 870.3 L2297.6 872.1 L2297.8 874.0 L2298.1 876.0 L2298.4 877.9 L2298.7 879.8 L2299.0 881.5 L2299.3 883.4 L2299.5 885.2 L2299.7 887.1 L2300.0 888.9 L2300.3 890.6 L2300.7 892.2 L2301.2 893.6 L2302.0 895.4 L2302.9 897.1 L2303.9 898.4 L2305.0 899.0 L2306.2 898.7 L2307.5 897.7 L2308.8 896.3 L2310.0 895.0 L2311.0 893.8 L2311.9 892.4 L2312.7 891.0 L2313.7 889.8 L2315.1 888.2 L2316.6 886.6 L2318.0 886.1 L2319.1 886.9 L2320.1 888.6 L2321.1 890.8 L2322.0 893.0 L2322.6 894.5 L2323.2 896.1 L2323.8 897.8 L2324.3 899.6 L2324.9 901.4 L2325.5 903.1 L2326.1 904.8 L2326.8 906.4 L2327.4 908.1 L2328.1 909.7 L2328.9 911.4 L2329.6 913.0 L2330.3 914.5 L2331.1 916.0 L2332.0 917.7 L2333.0 919.3 L2334.0 920.9 L2335.0 922.4 L2336.0 924.0" fill="none" stroke="#ff0000" stroke-width="5.5" stroke-linejoin="round" stroke-linecap="butt" />
<path d="M265.5 1468.0 L265.6 1448.6 L265.7 1429.0 L265.8 1409.1 L265.8 1389.0 L265.9 1368.6 L266.0 1348.0 L266.1 1327.3 L266.2 1306.4 L266.3 1285.4 L266.4 1264.3 L266.4 1243.1 L266.5 1221.9 L266.6 1200.6 L266.7 1179.4 L266.8 1158.1 L266.9 1136.9 L267.0 1115.7 L267.0 1094.7 L267.1 1073.7 L267.2 1052.9 L267.3 1032.2 L267.4 1011.7 L267.5 991.4 L267.6 971.3 L267.6 951.5 L267.7 932.0 L267.8 912.7 L267.9 893.8 L268.0 875.2 L268.1 857.0 L268.2 839.1 L268.3 821.7 L268.4 804.7 L268.4 788.2 L268.5 772.2 L268.6 756.6 L268.7 741.6 L268.8 727.2 L268.9 713.3 L269.0 700.0 L269.0 693.4 L269.1 687.0 L269.1 680.6 L269.2 674.4 L269.2 668.3 L269.3 662.2 L269.3 656.3 L269.4 650.5 L269.4 644.8 L269.5 639.1 L269.5 633.6 L269.6 628.1 L269.6 622.7 L269.6 617.4 L269.7 612.2 L269.7 607.0 L269.8 602.0 L269.8 597.0 L269.9 592.0 L269.9 587.2 L270.0 582.4 L270.0 577.6 L270.1 572.9 L270.1 568.3 L270.2 563.8 L270.2 559.2 L270.3 554.8 L270.3 550.4 L270.4 546.0 L270.4 541.6 L270.5 537.3 L270.5 533.1 L270.6 528.9 L270.6 524.7 L270.7 520.5 L270.8 516.4 L270.8 512.2 L270.9 508.1 L270.9 504.1 L271.0 500.0 L271.0 497.3 L271.1 494.6 L271.1 491.9 L271.2 489.3 L271.2 486.7 L271.3 484.1 L271.3 481.6 L271.4 479.1 L271.4 476.7 L271.5 474.3 L271.5 471.9 L271.6 469.5 L271.6 467.2 L271.7 464.8 L271.7 462.5 L271.8 460.3 L271.8 458.0 L271.9 455.8 L271.9 453.5 L272.0 451.3 L272.0 449.1 L272.1 446.9 L272.1 444.7 L272.2 442.5 L272.2 440.3 L272.3 438.1 L272.3 436.0 L272.4 433.8 L272.4 431.6 L272.5 429.4 L272.5 427.2 L272.6 425.0 L272.6 422.8 L272.7 420.6 L272.7 418.4 L272.8 416.1 L272.8 413.9 L272.9 411.6 L272.9 409.3 L273.0 407.0 L273.3 408.8 L273.6 410.7 L273.8 412.5 L274.1 414.3 L274.4 416.1 L274.7 418.0 L275.0 420.0 L275.3 421.7 L275.6 423.4 L275.8 425.1 L276.1 426.8 L276.4 428.6 L276.8 430.4 L277.1 432.3 L277.4 434.2 L277.7 436.1 L278.0 438.0 L278.3 439.8 L278.6 441.6 L278.8 443.5 L279.1 445.4 L279.4 447.3 L279.7 449.3 L280.0 451.2 L280.2 453.2 L280.5 455.2 L280.8 457.2 L281.1 459.1 L281.4 461.1 L281.8 463.0 L282.1 464.9 L282.4 466.9 L282.7 468.8 L283.0 470.7 L283.3 472.6 L283.7 474.6 L284.0 476.5 L284.4 478.4 L284.7 480.3 L285.1 482.2 L285.5 484.2 L285.8 486.1 L286.2 488.0 L286.7 489.9 L287.1 491.9 L287.6 493.8 L288.0 495.7 L288.5 497.6 L289.0 499.6 L289.4 501.5 L289.9 503.4 L290.4 505.3 L290.9 507.2 L291.5 509.2 L292.0 511.1 L292.5 513.0 L293.0 514.8 L293.5 516.6 L294.0 518.4 L294.5 520.2 L295.0 521.9 L295.6 523.7 L296.1 525.5 L296.6 527.3 L297.2 529.1 L297.7 530.9 L298.3 532.7 L298.9 534.4 L299.4 536.2 L300.0 538.0 L300.6 539.8 L301.2 541.6 L301.8 543.4 L302.5 545.1 L303.1 546.9 L303.8 548.7 L304.4 550.5 L305.1 552.3 L305.7 554.1 L306.4 555.8 L307.0 557.6 L307.6 559.4 L308.2 561.2 L308.8 563.0 L309.3 564.9 L309.9 566.8 L310.4 568.8 L311.0 570.7 L311.5 572.6 L312.0 574.5 L312.5 576.4 L313.0 578.4 L313.5 580.3 L314.0 582.2 L314.5 584.2 L315.0 586.1 L315.5 588.0 L316.0 589.9 L316.6 591.8 L317.1 593.8 L317.6 595.7 L318.2 597.6 L318.7 599.5 L319.3 601.5 L319.8 603.4 L320.3 605.3 L320.9 607.2 L321.4 609.2 L322.0 611.1 L322.5 613.0 L323.0 614.9 L323.6 616.8 L324.1 618.8 L324.7 620.7 L325.2 622.6 L325.7 624.5 L326.3 626.5 L326.8 628.4 L327.4 630.3 L327.9 632.2 L328.4 634.2 L329.0 636.1 L329.5 638.0 L330.0 639.9 L330.5 641.8 L331.1 643.8 L331.6 645.7 L332.1 647.6 L332.6 649.5 L333.1 651.5 L333.6 653.4 L334.1 655.3 L334.6 657.2 L335.2 659.2 L335.7 661.1 L336.2 663.0 L336.8 664.8 L337.3 666.6 L337.8 668.4 L338.3 670.2 L338.8 671.9 L339.4 673.7 L339.9 675.5 L340.4 677.3 L341.0 679.1 L341.5 680.9 L342.1 682.7 L342.6 684.4 L343.2 686.2 L343.8 688.0 L344.3 689.8 L344.9 691.6 L345.5 693.4 L346.1 695.2 L346.7 697.0 L347.3 698.7 L347.9 700.5 L348.5 702.3 L349.2 704.1 L349.8 705.9 L350.5 707.7 L351.1 709.5 L351.8 711.2 L352.5 713.0 L353.2 714.8 L353.9 716.6 L354.7 718.4 L355.4 720.2 L356.2 722.0 L356.9 723.8 L357.7 725.6 L358.5 727.4 L359.3 729.2 L360.2 730.9 L361.0 732.7 L361.9 734.5 L362.8 736.2 L363.8 738.0 L364.7 739.7 L365.6 741.4 L366.6 743.1 L367.6 744.8 L368.6 746.5 L369.7 748.1 L370.7 749.8 L371.8 751.5 L372.9 753.2 L374.1 754.8 L375.2 756.5 L376.4 758.1 L377.6 759.7 L378.8 761.4 L380.0 763.0 L381.2 764.5 L382.4 766.0 L383.6 767.6 L384.9 769.1 L386.2 770.6 L387.5 772.1 L388.9 773.7 L390.2 775.2 L391.6 776.7 L393.0 778.2 L394.4 779.6 L395.7 781.1 L397.1 782.5 L398.5 783.9 L399.8 785.3 L401.2 786.7 L402.5 788.0 L403.9 789.4 L405.4 790.8 L406.8 792.1 L408.3 793.4 L409.7 794.6 L411.1 795.8 L412.6 797.1 L414.0 798.3 L415.4 799.5 L416.9 800.7 L418.3 802.0 L419.7 803.3 L421.1 804.6 L422.5 806.0 L423.8 807.3 L425.1 808.6 L426.4 810.0 L427.7 811.3 L429.1 812.7 L430.4 814.1 L431.7 815.5 L433.0 816.9 L434.3 818.3 L435.5 819.8 L436.8 821.2 L438.0 822.7 L439.2 824.1 L440.3 825.6 L441.4 827.0 L442.5 828.5 L443.7 830.2 L444.8 831.8 L445.8 833.5 L446.9 835.2 L447.9 836.9 L448.8 838.6 L449.8 840.3 L450.7 842.0 L451.6 843.8 L452.4 845.6 L453.3 847.3 L454.2 849.2 L455.0 851.0 L455.8 852.7 L456.5 854.5 L457.3 856.3 L458.0 858.1 L458.7 859.9 L459.4 861.7 L460.0 863.6 L460.7 865.4 L461.3 867.3 L462.0 869.2 L462.6 871.0 L463.2 872.9 L463.8 874.8 L464.4 876.6 L465.0 878.5 L465.6 880.3 L466.1 882.2 L466.7 884.0 L467.2 885.8 L467.8 887.7 L468.3 889.5 L468.8 891.4 L469.3 893.2 L469.8 895.1 L470.3 896.9 L470.7 898.7 L471.2 900.6 L471.6 902.4 L472.1 904.2 L472.5 906.0 L473.0 907.9 L473.4 909.8 L473.8 911.7 L474.2 913.6 L474.6 915.4 L475.0 917.3 L475.4 919.2 L475.7 921.0 L476.1 923.0 L476.4 924.9 L476.8 926.9 L477.1 928.9 L477.5 931.0 L477.8 932.8 L478.1 934.6 L478.4 936.5 L478.7 938.4 L478.9 940.3 L479.2 942.2 L479.5 944.2 L479.7 946.2 L480.0 948.2 L480.3 950.2 L480.5 952.2 L480.8 954.3 L481.0 956.3 L481.3 958.4 L481.5 960.4 L481.8 962.4 L482.0 964.5 L482.3 966.5 L482.5 968.5 L482.7 970.4 L482.9 972.4 L483.2 974.3 L483.4 976.2 L483.6 978.1 L483.8 980.0 L484.0 981.9 L484.2 983.8 L484.3 985.7 L484.5 987.6 L484.7 989.5 L484.9 991.5 L485.1 993.4 L485.3 995.4 L485.5 997.4 L485.7 999.5 L485.9 1001.5 L486.1 1003.7 L486.3 1005.8 L486.5 1008.0 L486.7 1009.7 L486.8 1011.5 L487.0 1013.2 L487.2 1015.0 L487.4 1016.9 L487.6 1018.7 L487.7 1020.6 L487.9 1022.5 L488.1 1024.4 L488.3 1026.3 L488.5 1028.2 L488.7 1030.2 L488.9 1032.1 L489.1 1034.1 L489.3 1036.1 L489.5 1038.1 L489.7 1040.1 L489.9 1042.1 L490.0 1044.1 L490.2 1046.1 L490.4 1048.1 L490.6 1050.1 L490.8 1052.1 L491.0 1054.2 L491.1 1056.2 L491.3 1058.2 L491.5 1060.2 L491.6 1062.2 L491.8 1064.2 L492.0 1066.1 L492.1 1068.1 L492.3 1070.1 L492.4 1072.0 L492.5 1074.0 L492.7 1076.0 L492.8 1078.0 L492.9 1079.9 L493.0 1081.9 L493.2 1083.9 L493.3 1085.9 L493.4 1087.9 L493.5 1090.0 L493.6 1092.0 L493.7 1094.0 L493.8 1096.0 L493.9 1098.0 L494.0 1100.0 L494.1 1102.0 L494.1 1104.0 L494.2 1106.0 L494.3 1108.0 L494.4 1109.9 L494.5 1111.9 L494.6 1113.9 L494.6 1115.9 L494.7 1117.8 L494.8 1119.8 L494.9 1121.7 L495.0 1123.6 L495.1 1125.6 L495.1 1127.5 L495.2 1129.4 L495.3 1131.3 L495.4 1133.1 L495.5 1135.0 L495.6 1137.0 L495.7 1139.1 L495.8 1141.2 L495.9 1143.2 L496.0 1145.3 L496.1 1147.4 L496.2 1149.4 L496.3 1151.5 L496.4 1153.6 L496.5 1155.6 L496.5 1157.7 L496.6 1159.7 L496.7 1161.7 L496.8 1163.7 L496.9 1165.7 L497.0 1167.6 L497.1 1169.5 L497.2 1171.4 L497.3 1173.2 L497.4 1175.0 L497.5 1176.8 L497.6 1178.5 L497.7 1180.2 L497.8 1181.9 L497.9 1183.5 L498.0 1185.0 L498.2 1187.2 L498.3 1189.3 L498.5 1191.3 L498.7 1193.1 L498.8 1194.9 L499.0 1196.7 L499.2 1198.4 L499.3 1200.2 L499.5 1202.1 L499.7 1204.0 L499.9 1206.0 L500.1 1207.8 L500.2 1209.6 L500.4 1211.4 L500.6 1213.3 L500.8 1215.2 L501.0 1217.2 L501.2 1219.1 L501.4 1221.1 L501.6 1223.1 L501.8 1225.1 L502.0 1227.1 L502.2 1229.1 L502.4 1231.1 L502.6 1233.1 L502.8 1235.1 L503.0 1237.0 L503.1 1235.0 L503.1 1233.1 L503.2 1231.1 L503.3 1229.2 L503.4 1227.3 L503.4 1225.4 L503.5 1223.5 L503.6 1221.6 L503.7 1219.8 L503.8 1217.9 L503.8 1216.0 L503.9 1214.1 L504.0 1212.3 L504.1 1210.4 L504.2 1208.5 L504.2 1206.7 L504.3 1204.8 L504.4 1202.9 L504.5 1201.0 L504.5 1199.1 L504.6 1197.2 L504.7 1195.3 L504.8 1193.4 L504.8 1191.5 L504.9 1189.5 L505.0 1187.6 L505.1 1185.6 L505.1 1183.6 L505.2 1181.5 L505.3 1179.5 L505.3 1177.4 L505.4 1175.4 L505.5 1173.2 L505.5 1171.1 L505.6 1168.9 L505.6 1166.8 L505.7 1164.5 L505.7 1162.3 L505.8 1160.0 L505.9 1156.8 L505.9 1153.6 L506.0 1150.4 L506.0 1147.1 L506.1 1143.8 L506.1 1140.4 L506.2 1137.0 L506.2 1133.5 L506.3 1130.0 L506.3 1126.5 L506.3 1122.9 L506.3 1119.3 L506.4 1115.6 L506.4 1112.0 L506.4 1108.3 L506.4 1104.5 L506.5 1100.8 L506.5 1097.0 L506.5 1093.2 L506.5 1089.4 L506.5 1085.5 L506.5 1081.6 L506.5 1077.7 L506.6 1073.8 L506.6 1069.9 L506.6 1066.0 L506.6 1062.0 L506.6 1058.0 L506.6 1054.1 L506.6 1050.1 L506.6 1046.1 L506.7 1042.1 L506.7 1038.1 L506.7 1034.1 L506.7 1030.0 L506.7 1026.0 L506.7 1022.0 L506.8 1018.0 L506.8 1014.0 L506.8 1010.0 L506.8 1005.4 L506.9 1000.8 L506.9 996.1 L506.9 991.5 L506.9 986.8 L507.0 982.0 L507.0 977.3 L507.0 972.5 L507.1 967.7 L507.1 962.8 L507.1 958.0 L507.2 953.1 L507.2 948.2 L507.2 943.3 L507.3 938.4 L507.3 933.5 L507.3 928.5 L507.3 923.6 L507.4 918.6 L507.4 913.6 L507.4 908.7 L507.5 903.7 L507.5 898.7 L507.5 893.7 L507.6 888.7 L507.6 883.6 L507.6 878.6 L507.7 873.6 L507.7 868.6 L507.7 863.6 L507.7 858.6 L507.8 853.6 L507.8 848.6 L507.8 843.7 L507.9 838.7 L507.9 833.7 L507.9 828.8 L507.9 823.8 L508.0 818.9 L508.0 814.0 L508.0 809.1 L508.1 804.2 L508.1 799.3 L508.1 794.4 L508.1 789.5 L508.2 784.6 L508.2 779.7 L508.2 774.8 L508.3 769.9 L508.3 765.0 L508.3 760.1 L508.3 755.2 L508.4 750.3 L508.4 745.4 L508.4 740.5 L508.5 735.6 L508.5 730.7 L508.5 725.8 L508.5 720.9 L508.6 716.0 L508.6 711.1 L508.6 706.2 L508.7 701.3 L508.7 696.4 L508.7 691.5 L508.7 686.6 L508.8 681.7 L508.8 676.8 L508.8 671.9 L508.8 667.0 L508.8 662.1 L508.9 657.2 L508.9 652.3 L508.9 647.4 L508.9 642.5 L508.9 637.6 L509.0 632.7 L509.0 627.8 L509.0 622.9 L509.0 618.0 L509.0 613.1 L509.0 608.2 L509.0 603.3 L509.0 598.4 L509.0 593.5 L509.0 588.6 L509.0 583.7 L509.0 578.8 L509.0 573.9 L509.0 569.0 L509.0 564.1 L509.0 559.2 L509.0 554.3 L509.0 549.4 L509.0 544.5 L509.0 539.6 L509.0 534.7 L509.0 529.8 L509.0 524.9 L509.0 520.0 L509.0 515.1 L509.0 510.2 L509.0 505.3 L509.0 500.4 L509.0 495.5 L509.0 490.6 L509.0 485.7 L509.0 480.8 L509.0 475.9 L509.0 471.0 L509.0 466.1 L509.0 461.2 L509.0 456.3 L509.0 451.4 L509.0 446.5 L509.0 441.6 L509.0 436.7 L509.0 431.8 L509.0 426.9 L509.0 422.0 L509.0 417.1 L509.0 412.1 L509.0 407.2 L509.1 402.2 L509.1 397.2 L509.1 392.2 L509.1 387.2 L509.1 382.1 L509.1 377.1 L509.2 372.0 L509.2 366.9 L509.2 361.8 L509.2 356.8 L509.3 351.7 L509.3 346.6 L509.3 341.5 L509.3 336.5 L509.4 331.4 L509.4 326.3 L509.4 321.3 L509.4 316.3 L509.5 311.3 L509.5 306.3 L509.5 301.3 L509.5 296.3 L509.6 291.4 L509.6 286.5 L509.6 281.6 L509.7 276.8 L509.7 272.0 L509.7 267.2 L509.7 262.4 L509.8 257.7 L509.8 253.1 L509.8 248.4 L509.9 243.9 L509.9 239.3 L509.9 234.8 L510.0 230.4 L510.0 226.0 L510.0 222.5 L510.1 219.0 L510.1 215.5 L510.1 212.0 L510.1 208.5 L510.2 205.0 L510.2 201.5 L510.2 198.1 L510.3 194.6 L510.3 191.2 L510.3 187.7 L510.3 184.3 L510.4 180.9 L510.4 177.5 L510.4 174.1 L510.5 170.7 L510.5 167.4 L510.5 164.1 L510.6 160.8 L510.6 157.5 L510.6 154.3 L510.7 151.1 L510.7 147.9 L510.7 144.8 L510.8 141.7 L510.8 138.6 L510.8 135.5 L510.9 132.5 L510.9 129.6 L510.9 126.7 L511.0 123.8 L511.0 120.9 L511.0 118.1 L511.0 115.4 L511.1 112.7 L511.1 110.1 L511.1 107.5 L511.2 104.9 L511.2 102.4 L511.2 100.0 L511.2 97.7 L511.2 95.4 L511.3 93.2 L511.3 91.0 L511.3 88.9 L511.3 86.9 L511.4 84.9 L511.4 83.0 L511.4 81.0 L511.4 79.2 L511.4 77.3 L511.5 75.5 L511.5 73.7 L511.5 71.9 L511.5 70.1 L511.5 68.3 L511.5 66.6 L511.6 64.8 L511.6 63.0 L511.6 61.2 L511.6 59.4 L511.6 57.6 L511.7 55.8 L511.7 53.9 L511.7 52.0 L513.1 52.0 L513.1 53.9 L513.2 55.7 L513.2 57.5 L513.3 59.3 L513.3 61.0 L513.4 62.8 L513.4 64.5 L513.5 66.3 L513.5 68.0 L513.5 69.8 L513.6 71.6 L513.6 73.4 L513.7 75.2 L513.7 77.1 L513.8 79.1 L513.8 81.1 L513.9 83.2 L513.9 85.4 L514.0 87.7 L514.0 90.0 L514.0 92.1 L514.1 94.2 L514.1 96.4 L514.2 98.7 L514.2 101.1 L514.3 103.5 L514.3 105.9 L514.3 108.4 L514.4 111.0 L514.4 113.6 L514.5 116.3 L514.5 119.0 L514.6 121.7 L514.6 124.5 L514.7 127.3 L514.7 130.1 L514.7 133.0 L514.8 135.9 L514.8 138.8 L514.9 141.8 L514.9 144.7 L515.0 147.7 L515.0 150.7 L515.1 153.6 L515.1 156.6 L515.2 159.6 L515.2 162.6 L515.3 165.6 L515.3 168.6 L515.4 171.5 L515.5 174.5 L515.5 177.4 L515.6 180.3 L515.6 183.2 L515.7 186.1 L515.7 189.0 L515.8 191.8 L515.9 194.6 L515.9 197.3 L516.0 200.0 L516.1 202.6 L516.1 205.1 L516.2 207.7 L516.3 210.3 L516.3 212.9 L516.4 215.4 L516.5 218.0 L516.5 220.6 L516.6 223.2 L516.7 225.8 L516.8 228.3 L516.8 230.9 L516.9 233.5 L517.0 236.1 L517.1 238.6 L517.1 241.2 L517.2 243.8 L517.3 246.3 L517.4 248.9 L517.5 251.4 L517.5 253.9 L517.6 256.5 L517.7 259.0 L517.8 261.5 L517.9 264.0 L517.9 266.5 L518.0 269.0 L518.1 271.5 L518.2 273.9 L518.3 276.4 L518.3 278.8 L518.4 281.2 L518.5 283.6 L518.6 286.0 L518.6 288.4 L518.7 290.7 L518.8 293.1 L518.9 295.4 L518.9 297.7 L519.0 300.0 L519.1 302.1 L519.1 304.2 L519.2 306.3 L519.3 308.4 L519.3 310.4 L519.4 312.5 L519.4 314.6 L519.5 316.6 L519.6 318.6 L519.6 320.6 L519.7 322.6 L519.8 324.6 L519.8 326.6 L519.9 328.6 L520.0 330.6 L520.0 332.5 L520.1 334.5 L520.1 336.4 L520.2 338.4 L520.3 340.3 L520.3 342.2 L520.4 344.1 L520.4 346.0 L520.5 347.9 L520.6 349.8 L520.6 351.7 L520.7 353.5 L520.7 355.4 L520.8 357.2 L520.8 359.1 L520.9 360.9 L520.9 362.7 L521.0 364.6 L521.0 366.4 L521.1 368.2 L521.1 370.0 L521.1 372.1 L521.2 374.1 L521.2 376.2 L521.3 378.2 L521.3 380.2 L521.3 382.2 L521.4 384.2 L521.4 386.2 L521.4 388.2 L521.5 390.2 L521.5 392.2 L521.5 394.1 L521.5 396.1 L521.6 398.0 L521.6 399.9 L521.6 401.8 L521.6 403.7 L521.7 405.6 L521.7 407.5 L521.7 409.3 L521.8 411.2 L521.8 413.0 L521.8 414.8 L521.9 416.7 L521.9 418.4 L522.0 420.2 L522.0 422.0 L522.1 424.1 L522.1 426.1 L522.2 428.1 L522.2 430.0 L522.3 431.9 L522.4 433.8 L522.4 435.7 L522.5 437.5 L522.6 439.4 L522.6 441.2 L522.7 443.1 L522.8 444.9 L522.9 446.8 L522.9 448.7 L523.0 450.7 L523.1 452.7 L523.2 454.7 L523.3 456.8 L523.4 459.0 L523.5 460.7 L523.6 462.5 L523.6 464.4 L523.7 466.3 L523.8 468.2 L523.9 470.2 L524.0 472.2 L524.1 474.3 L524.2 476.3 L524.3 478.4 L524.4 480.5 L524.5 482.7 L524.6 484.8 L524.7 487.0 L524.8 489.1 L524.9 491.3 L525.0 493.4 L525.1 495.5 L525.2 497.6 L525.3 499.7 L525.4 501.8 L525.6 503.9 L525.7 505.9 L525.8 507.9 L525.9 509.8 L526.0 511.7 L526.1 513.6 L526.2 515.4 L526.4 517.1 L526.5 518.8 L526.6 520.4 L526.7 522.0 L526.9 524.3 L527.1 526.5 L527.3 528.6 L527.5 530.7 L527.7 532.6 L527.9 534.5 L528.0 536.4 L528.2 538.2 L528.4 540.0 L528.6 541.7 L528.8 543.5 L529.0 545.2 L529.2 547.0 L529.4 549.0 L529.5 550.9 L529.7 552.8 L529.8 554.6 L530.0 556.4 L530.1 558.3 L530.3 560.1 L530.5 561.9 L530.8 563.7 L531.1 565.5 L531.5 567.4 L531.9 569.3 L532.4 571.2 L532.9 573.1 L533.5 575.0 L534.0 576.9 L534.6 578.7 L535.1 580.5 L535.6 582.3 L536.1 584.0 L536.6 585.9 L537.0 587.8 L537.4 589.7 L537.9 591.4 L538.3 593.2 L538.7 595.0 L539.2 596.7 L539.8 598.9 L540.4 601.4 L541.0 603.8 L541.7 606.0 L542.4 607.5 L543.0 608.0 L543.4 607.7 L543.9 607.0 L544.3 605.8 L544.8 604.3 L545.2 602.5 L545.7 600.4 L546.2 598.2 L546.6 595.8 L547.0 593.4 L547.5 590.9 L547.9 588.5 L548.2 586.2 L548.6 584.0 L548.9 582.2 L549.1 580.4 L549.4 578.6 L549.6 576.7 L549.9 574.8 L550.1 572.9 L550.3 570.9 L550.5 569.0 L550.7 567.0 L550.9 564.9 L551.1 562.9 L551.2 560.9 L551.4 558.9 L551.5 556.8 L551.7 554.8 L551.9 552.8 L552.0 550.8 L552.2 548.8 L552.3 546.8 L552.4 544.8 L552.6 542.8 L552.7 540.8 L552.8 538.9 L552.9 536.9 L553.1 534.9 L553.2 532.9 L553.3 530.9 L553.4 528.9 L553.5 526.9 L553.5 524.9 L553.6 522.9 L553.7 520.9 L553.8 518.9 L553.9 516.9 L554.0 515.0 L554.0 513.0 L554.1 511.0 L554.2 509.0 L554.3 507.1 L554.4 505.1 L554.4 503.2 L554.5 501.3 L554.6 499.4 L554.6 497.5 L554.7 495.6 L554.8 493.7 L554.8 491.8 L554.9 489.9 L554.9 488.0 L555.0 486.0 L555.0 484.1 L555.1 482.1 L555.2 480.1 L555.2 478.1 L555.3 476.1 L555.3 474.1 L555.4 472.0 L555.5 470.2 L555.5 468.5 L555.6 466.8 L555.6 465.1 L555.7 463.3 L555.7 461.6 L555.8 460.0 L555.8 458.2 L555.9 456.5 L555.9 454.8 L556.0 453.1 L556.0 451.3 L556.1 449.5 L556.1 447.7 L556.1 445.9 L556.2 444.0 L556.2 442.0 L556.3 440.1 L556.3 438.0 L556.4 435.9 L556.4 433.8 L556.5 431.6 L556.5 429.3 L556.6 426.9 L556.6 424.5 L556.7 422.0 L556.8 418.6 L556.8 415.1 L556.9 411.4 L557.0 407.5 L557.0 403.5 L557.1 399.4 L557.2 395.1 L557.2 390.7 L557.3 386.2 L557.4 381.6 L557.5 376.9 L557.5 372.0 L557.6 367.1 L557.7 362.1 L557.7 357.1 L557.8 351.9 L557.9 346.7 L557.9 341.5 L558.0 336.2 L558.1 330.8 L558.2 325.4 L558.2 320.0 L558.3 314.6 L558.4 309.2 L558.4 303.7 L558.5 298.3 L558.6 292.8 L558.7 287.4 L558.7 282.0 L558.8 276.6 L558.9 271.3 L558.9 266.0 L559.0 260.7 L559.1 255.6 L559.2 250.4 L559.2 245.4 L559.3 240.4 L559.4 235.5 L559.4 230.7 L559.5 226.0 L559.6 221.8 L559.6 217.6 L559.7 213.5 L559.7 209.3 L559.8 205.2 L559.9 201.1 L559.9 197.0 L560.0 193.0 L560.0 188.9 L560.1 184.9 L560.2 180.8 L560.2 176.8 L560.3 172.8 L560.3 168.8 L560.4 164.8 L560.5 160.8 L560.5 156.9 L560.6 152.9 L560.6 148.9 L560.7 145.0 L560.8 141.0 L560.8 137.1 L560.9 133.2 L560.9 129.2 L561.0 125.3 L561.1 121.4 L561.1 117.4 L561.2 113.5 L561.2 109.6 L561.3 105.6 L561.4 101.7 L561.4 97.7 L561.5 93.8 L561.5 89.8 L561.6 85.9 L561.7 81.9 L561.7 78.0 L561.8 74.0 L561.8 70.0 L561.9 66.0 L563.9 66.0 L564.0 70.0 L564.0 74.0 L564.1 78.0 L564.2 81.9 L564.2 85.9 L564.3 89.8 L564.4 93.8 L564.5 97.7 L564.5 101.7 L564.6 105.6 L564.7 109.6 L564.7 113.5 L564.8 117.4 L564.9 121.4 L564.9 125.3 L565.0 129.2 L565.1 133.2 L565.2 137.1 L565.2 141.0 L565.3 145.0 L565.4 148.9 L565.4 152.9 L565.5 156.9 L565.6 160.8 L565.6 164.8 L565.7 168.8 L565.8 172.8 L565.8 176.8 L565.9 180.8 L566.0 184.9 L566.0 188.9 L566.1 193.0 L566.2 197.0 L566.2 201.1 L566.3 205.2 L566.4 209.3 L566.4 213.5 L566.5 217.6 L566.5 221.8 L566.6 226.0 L566.7 230.7 L566.7 235.4 L566.8 240.1 L566.9 244.8 L566.9 249.5 L567.0 254.3 L567.0 259.1 L567.1 263.9 L567.2 268.8 L567.2 273.6 L567.3 278.5 L567.3 283.3 L567.4 288.2 L567.4 293.1 L567.5 298.0 L567.5 303.0 L567.6 307.9 L567.6 312.8 L567.7 317.8 L567.8 322.8 L567.8 327.7 L567.9 332.7 L567.9 337.7 L568.0 342.6 L568.0 347.6 L568.1 352.6 L568.1 357.6 L568.2 362.6 L568.2 367.6 L568.3 372.5 L568.3 377.5 L568.4 382.5 L568.4 387.4 L568.5 392.4 L568.5 397.4 L568.6 402.3 L568.6 407.2 L568.7 412.2 L568.7 417.1 L568.8 422.0 L568.9 426.9 L568.9 431.9 L569.0 436.9 L569.0 442.0 L569.1 447.0 L569.2 452.2 L569.2 457.3 L569.3 462.5 L569.3 467.6 L569.4 472.8 L569.5 478.1 L569.5 483.3 L569.6 488.5 L569.7 493.7 L569.7 499.0 L569.8 504.2 L569.9 509.4 L569.9 514.6 L570.0 519.8 L570.1 524.9 L570.1 530.0 L570.2 535.1 L570.3 540.2 L570.3 545.3 L570.4 550.3 L570.4 555.2 L570.5 560.1 L570.5 565.0 L570.6 569.8 L570.6 574.5 L570.7 579.2 L570.7 583.8 L570.8 588.4 L570.8 592.9 L570.9 597.3 L570.9 601.6 L570.9 605.8 L570.9 610.0 L571.0 614.0 L571.0 618.0 L571.0 620.6 L571.0 623.2 L571.0 625.8 L571.0 628.4 L571.0 630.9 L571.0 633.5 L571.0 636.0 L570.9 638.6 L570.9 641.1 L570.9 643.6 L570.9 646.0 L570.8 648.5 L570.8 650.9 L570.8 653.4 L570.7 655.7 L570.7 658.1 L570.7 660.5 L570.6 662.8 L570.6 665.1 L570.6 667.3 L570.5 669.6 L570.5 671.8 L570.5 673.9 L570.5 676.1 L570.4 678.2 L570.4 680.3 L570.4 682.3 L570.4 684.3 L570.4 686.3 L570.4 688.2 L570.5 690.1 L570.5 691.9 L570.5 693.7 L570.6 695.5 L570.6 697.2 L570.7 698.8 L570.7 700.4 L570.8 702.0 L570.9 703.5 L571.0 705.0 L571.2 707.6 L571.3 709.9 L571.5 712.2 L571.7 714.3 L571.9 716.3 L572.1 718.3 L572.4 720.1 L572.7 721.8 L573.1 723.4 L573.5 725.0 L574.1 726.6 L574.9 728.3 L575.8 729.7 L576.8 731.1 L577.8 732.3 L578.9 733.6 L580.0 735.0 L581.0 736.5 L581.9 738.0 L582.7 739.5 L583.5 741.2 L584.4 742.9 L585.2 744.6 L586.1 746.4 L587.0 748.1 L587.9 749.7 L588.8 751.3 L589.7 752.8 L590.9 754.5 L592.1 756.3 L593.3 758.0 L594.6 759.5 L595.9 761.0 L597.2 762.3 L598.5 763.4 L600.0 764.4 L601.4 765.3 L602.9 765.9 L604.5 766.4 L606.0 766.5 L607.7 766.3 L609.6 765.7 L611.4 764.8 L613.1 763.8 L614.7 762.7 L616.1 761.5 L617.5 760.1 L618.7 758.6 L619.8 757.0 L621.0 755.3 L622.0 753.7 L622.9 752.0 L623.9 750.2 L624.8 748.4 L625.6 746.5 L626.5 744.6 L627.2 742.8 L627.8 741.0 L628.4 739.3 L628.9 737.5 L629.4 735.7 L629.9 733.9 L630.4 732.1 L630.9 730.3 L631.4 728.6 L632.0 726.9 L632.5 725.2 L633.0 723.5 L633.6 721.7 L634.1 719.9 L634.5 718.0 L634.8 716.3 L635.1 714.5 L635.3 712.6 L635.5 710.7 L635.7 708.8 L635.9 706.8 L636.1 704.9 L636.4 702.9 L636.7 700.9 L637.2 699.0 L637.7 697.1 L638.3 695.0 L639.0 692.8 L639.8 690.4 L640.6 688.1 L641.4 685.8 L642.2 683.7 L643.0 681.8 L643.7 680.2 L644.4 679.0 L645.0 678.2 L645.5 678.0 L645.9 678.3 L646.2 679.0 L646.5 680.1 L646.7 681.5 L646.9 683.3 L647.1 685.3 L647.2 687.5 L647.3 689.8 L647.4 692.3 L647.6 694.8 L647.7 697.4 L647.8 700.0 L647.9 701.8 L648.0 703.7 L648.0 705.8 L648.1 707.9 L648.2 710.2 L648.2 712.6 L648.3 715.0 L648.3 717.6 L648.3 720.2 L648.3 723.0 L648.4 725.8 L648.4 728.6 L648.4 731.6 L648.4 734.6 L648.4 737.6 L648.4 740.7 L648.4 743.8 L648.4 747.0 L648.4 750.2 L648.4 753.4 L648.3 756.6 L648.3 759.9 L648.3 763.1 L648.3 766.4 L648.3 769.6 L648.3 772.9 L648.3 776.1 L648.3 779.3 L648.3 782.5 L648.3 785.6 L648.3 788.7 L648.3 791.8 L648.3 794.8 L648.3 797.7 L648.3 800.6 L648.3 803.5 L648.4 806.2 L648.4 808.9 L648.4 811.5 L648.5 814.0 L648.5 816.2 L648.6 818.4 L648.6 820.6 L648.7 822.9 L648.7 825.1 L648.8 827.3 L648.8 829.5 L648.9 831.7 L648.9 833.9 L649.0 836.1 L649.0 838.2 L649.1 840.4 L649.1 842.5 L649.2 844.6 L649.2 846.7 L649.3 848.8 L649.4 850.8 L649.4 852.9 L649.5 854.8 L649.6 856.8 L649.6 858.7 L649.7 860.6 L649.8 862.5 L649.9 864.3 L650.0 866.1 L650.1 867.8 L650.2 869.5 L650.3 871.2 L650.4 872.8 L650.5 874.3 L650.6 875.8 L650.7 877.3 L650.9 878.7 L651.0 880.0 L651.3 882.4 L651.6 884.5 L651.9 886.5 L652.3 888.3 L652.6 890.1 L653.0 891.8 L653.3 893.4 L653.7 895.2 L654.0 897.0 L654.4 895.1 L654.7 893.2 L655.1 891.4 L655.4 889.6 L655.8 887.8 L656.2 885.9 L656.5 884.1 L656.9 882.3 L657.2 880.4 L657.6 878.4 L657.9 876.4 L658.3 874.4 L658.6 872.2 L659.0 870.0 L659.2 868.4 L659.5 866.7 L659.7 865.0 L660.0 863.3 L660.2 861.5 L660.5 859.7 L660.7 857.8 L661.0 855.9 L661.2 853.9 L661.5 852.0 L661.7 850.0 L662.0 848.0 L662.2 846.0 L662.4 844.0 L662.7 841.9 L662.9 839.9 L663.2 837.8 L663.4 835.8 L663.6 833.7 L663.9 831.7 L664.1 829.6 L664.3 827.6 L664.6 825.6 L664.8 823.6 L665.0 821.6 L665.2 819.7 L665.5 817.7 L665.7 815.9 L665.9 814.0 L666.1 812.0 L666.4 810.0 L666.6 808.0 L666.8 806.1 L667.0 804.1 L667.2 802.2 L667.4 800.2 L667.6 798.3 L667.8 796.4 L668.0 794.5 L668.2 792.6 L668.4 790.7 L668.6 788.8 L668.8 786.9 L669.0 785.0 L669.2 783.1 L669.4 781.2 L669.6 779.3 L669.8 777.4 L670.0 775.5 L670.2 773.5 L670.5 771.6 L670.7 769.7 L670.9 767.7 L671.1 765.8 L671.3 763.9 L671.6 762.0 L671.8 760.1 L672.0 758.1 L672.3 756.2 L672.5 754.2 L672.8 752.2 L673.0 750.3 L673.3 748.3 L673.5 746.3 L673.8 744.4 L674.0 742.4 L674.3 740.5 L674.5 738.5 L674.7 736.6 L675.0 734.6 L675.2 732.7 L675.5 730.8 L675.7 728.9 L675.9 727.0 L676.2 725.1 L676.4 723.2 L676.6 721.4 L676.8 719.6 L677.0 717.8 L677.2 715.7 L677.5 713.6 L677.7 711.6 L677.9 709.6 L678.1 707.6 L678.3 705.6 L678.5 703.6 L678.7 701.7 L678.9 699.7 L679.1 697.8 L679.3 695.9 L679.5 694.0 L679.7 692.0 L679.9 690.1 L680.1 688.2 L680.2 686.3 L680.4 684.3 L680.6 682.4 L680.8 680.4 L681.0 678.4 L681.2 676.4 L681.3 674.4 L681.5 672.4 L681.7 670.4 L681.8 668.3 L682.0 666.3 L682.2 664.3 L682.3 662.2 L682.5 660.2 L682.6 658.2 L682.8 656.2 L683.0 654.3 L683.1 652.3 L683.3 650.4 L683.5 648.5 L683.6 646.6 L683.8 644.8 L684.0 643.0 L684.2 640.8 L684.5 638.4 L684.7 635.9 L684.9 633.3 L685.2 630.7 L685.4 628.2 L685.7 625.9 L685.9 623.7 L686.1 621.8 L686.4 620.2 L686.6 619.0 L686.8 618.3 L687.0 618.0 L687.1 618.1 L687.2 618.5 L687.3 619.1 L687.5 619.9 L687.6 621.0 L687.7 622.2 L687.8 623.6 L687.9 625.2 L688.0 626.9 L688.0 628.7 L688.1 630.7 L688.2 632.9 L688.3 635.1 L688.4 637.4 L688.5 639.8 L688.5 642.2 L688.6 644.7 L688.7 647.3 L688.8 649.8 L688.8 652.4 L688.9 655.0 L689.0 657.6 L689.0 660.1 L689.1 662.7 L689.2 665.1 L689.2 667.5 L689.3 669.9 L689.3 672.1 L689.4 674.3 L689.5 676.3 L689.5 678.2 L689.6 680.0 L689.7 682.1 L689.8 684.2 L689.8 686.2 L689.9 688.1 L690.0 690.0 L690.0 691.9 L690.1 693.8 L690.1 695.6 L690.2 697.4 L690.3 699.3 L690.3 701.1 L690.4 702.9 L690.4 704.7 L690.5 706.5 L690.5 708.4 L690.6 710.2 L690.6 712.1 L690.7 714.0 L690.7 716.0 L690.8 718.0 L690.8 719.8 L690.9 721.6 L690.9 723.5 L691.0 725.3 L691.0 727.2 L691.1 729.1 L691.1 731.0 L691.2 732.9 L691.2 734.9 L691.3 736.8 L691.3 738.8 L691.4 740.7 L691.4 742.7 L691.5 744.7 L691.5 746.6 L691.6 748.6 L691.6 750.6 L691.6 752.5 L691.7 754.5 L691.7 756.5 L691.8 758.4 L691.8 760.4 L691.9 762.3 L691.9 764.2 L692.0 766.1 L692.0 768.0 L692.0 769.9 L692.1 771.9 L692.1 773.8 L692.2 775.7 L692.2 777.6 L692.3 779.5 L692.3 781.4 L692.3 783.2 L692.4 785.1 L692.4 787.0 L692.4 788.8 L692.5 790.7 L692.5 792.6 L692.6 794.4 L692.6 796.3 L692.6 798.2 L692.7 800.1 L692.7 802.1 L692.8 804.0 L692.8 806.0 L692.9 807.9 L692.9 809.9 L693.0 812.0 L693.0 814.0 L693.0 815.8 L693.1 817.6 L693.1 819.5 L693.2 821.3 L693.2 823.2 L693.3 825.0 L693.3 826.9 L693.4 828.8 L693.4 830.8 L693.5 832.7 L693.5 834.6 L693.6 836.6 L693.6 838.5 L693.7 840.5 L693.7 842.4 L693.8 844.4 L693.8 846.4 L693.9 848.3 L694.0 850.3 L694.0 852.3 L694.1 854.3 L694.1 856.3 L694.2 858.3 L694.2 860.2 L694.3 862.2 L694.3 864.2 L694.4 866.2 L694.4 868.2 L694.5 870.1 L694.5 872.1 L694.6 874.1 L694.6 876.0 L694.6 878.0 L694.7 879.9 L694.7 881.9 L694.8 883.8 L694.8 885.8 L694.8 887.8 L694.9 889.7 L694.9 891.7 L694.9 893.7 L695.0 895.6 L695.0 897.6 L695.1 899.6 L695.1 901.5 L695.1 903.5 L695.2 905.5 L695.2 907.4 L695.2 909.4 L695.3 911.4 L695.3 913.3 L695.3 915.3 L695.4 917.3 L695.4 919.3 L695.4 921.2 L695.5 923.2 L695.5 925.2 L695.5 927.2 L695.6 929.1 L695.6 931.1 L695.7 933.1 L695.7 935.0 L695.8 937.0 L695.8 939.0 L695.8 940.9 L695.9 942.9 L695.9 944.8 L696.0 946.7 L696.1 948.7 L696.1 950.6 L696.2 952.5 L696.2 954.5 L696.3 956.4 L696.3 958.4 L696.4 960.3 L696.4 962.2 L696.5 964.2 L696.6 966.1 L696.6 968.1 L696.7 970.0 L696.7 971.9 L696.8 973.9 L696.9 975.8 L696.9 977.8 L697.0 979.7 L697.0 981.6 L697.1 983.6 L697.2 985.5 L697.2 987.5 L697.3 989.4 L697.3 991.4 L697.4 993.3 L697.5 995.2 L697.5 997.2 L697.6 999.1 L697.6 1001.1 L697.7 1003.0 L697.8 1001.0 L697.9 999.0 L697.9 996.9 L698.0 994.7 L698.1 992.5 L698.1 990.2 L698.2 987.9 L698.3 985.6 L698.3 983.3 L698.4 981.0 L698.5 978.6 L698.5 976.3 L698.6 974.0 L698.7 971.7 L698.7 969.4 L698.8 967.2 L698.9 965.0 L699.0 962.9 L699.0 960.9 L699.1 958.9 L699.2 957.0 L699.3 955.2 L699.4 953.5 L699.5 951.9 L699.6 950.4 L699.7 949.1 L699.8 947.8 L699.9 946.7 L700.1 945.8 L700.2 945.0 L700.5 943.0 L701.2 942.0 L702.2 942.1 L703.5 942.9 L705.1 944.0 L706.7 945.4 L708.4 946.8 L710.0 948.0 L711.4 949.1 L712.8 950.4 L714.2 951.8 L715.6 953.1 L717.1 954.3 L718.5 955.3 L720.0 956.0 L721.8 956.6 L723.6 956.9 L725.5 957.1 L727.2 956.8 L728.8 956.0 L729.6 955.1 L730.3 953.9 L731.0 952.4 L731.6 950.7 L732.1 948.8 L732.5 946.7 L732.9 944.6 L733.3 942.3 L733.6 939.9 L734.0 937.6 L734.3 935.3 L734.6 933.1 L735.0 931.0 L735.3 929.2 L735.6 927.3 L735.9 925.5 L736.2 923.6 L736.5 921.8 L736.7 919.9 L737.0 918.0 L737.2 916.1 L737.5 914.1 L737.7 912.2 L737.9 910.2 L738.1 908.2 L738.3 906.2 L738.5 904.2 L738.8 902.1 L739.0 900.0 L739.2 898.2 L739.4 896.5 L739.6 894.7 L739.8 892.9 L739.9 891.1 L740.1 889.2 L740.3 887.4 L740.5 885.5 L740.7 883.7 L740.8 881.8 L741.0 879.9 L741.2 878.0 L741.4 876.0 L741.5 874.1 L741.7 872.1 L741.9 870.1 L742.0 868.2 L742.2 866.2 L742.4 864.2 L742.5 862.1 L742.7 860.1 L742.8 858.1 L743.0 856.0 L743.1 854.2 L743.3 852.4 L743.4 850.5 L743.5 848.7 L743.7 846.8 L743.8 844.9 L743.9 843.0 L744.1 841.0 L744.2 839.1 L744.3 837.1 L744.4 835.2 L744.6 833.2 L744.7 831.2 L744.8 829.2 L744.9 827.2 L745.0 825.2 L745.2 823.2 L745.3 821.3 L745.4 819.3 L745.5 817.3 L745.6 815.3 L745.8 813.3 L745.9 811.3 L746.0 809.4 L746.1 807.4 L746.2 805.5 L746.3 803.5 L746.5 801.6 L746.6 799.7 L746.7 797.9 L746.8 796.0 L746.9 794.0 L747.1 792.0 L747.2 790.0 L747.3 788.1 L747.4 786.1 L747.6 784.2 L747.7 782.2 L747.8 780.3 L747.9 778.4 L748.1 776.4 L748.2 774.5 L748.3 772.6 L748.4 770.7 L748.6 768.8 L748.7 766.9 L748.8 765.0 L748.9 763.1 L749.0 761.2 L749.2 759.3 L749.3 757.4 L749.4 755.5 L749.5 753.6 L749.6 751.7 L749.7 749.8 L749.8 747.9 L749.9 746.0 L750.0 744.1 L750.1 742.1 L750.2 740.2 L750.3 738.2 L750.3 736.3 L750.4 734.3 L750.5 732.3 L750.6 730.3 L750.6 728.4 L750.7 726.4 L750.8 724.4 L750.8 722.5 L750.9 720.5 L751.0 718.5 L751.0 716.6 L751.1 714.6 L751.2 712.7 L751.2 710.8 L751.3 708.9 L751.4 707.0 L751.4 705.1 L751.5 703.2 L751.6 701.4 L751.6 699.6 L751.7 697.8 L751.8 696.0 L751.9 694.0 L752.0 691.9 L752.0 689.9 L752.1 687.9 L752.2 686.0 L752.2 684.0 L752.3 682.1 L752.4 680.1 L752.4 678.2 L752.5 676.3 L752.6 674.5 L752.7 672.6 L752.8 670.7 L752.9 668.9 L753.0 667.1 L753.1 665.3 L753.3 663.5 L753.4 661.8 L753.6 660.0 L753.8 657.9 L754.1 655.5 L754.3 653.1 L754.6 650.6 L754.9 648.1 L755.2 645.6 L755.5 643.2 L755.8 641.0 L756.1 638.9 L756.5 637.1 L756.8 635.6 L757.1 634.5 L757.5 633.8 L757.8 633.5 L758.2 633.9 L758.7 634.9 L759.1 636.4 L759.6 638.4 L760.1 640.6 L760.5 643.0 L761.0 645.5 L761.4 647.8 L761.8 650.0 L762.1 651.7 L762.4 653.5 L762.6 655.4 L762.9 657.3 L763.1 659.2 L763.3 661.1 L763.5 663.1 L763.8 665.1 L764.0 667.1 L764.2 669.0 L764.4 671.0 L764.6 673.0 L764.9 674.9 L765.2 676.8 L765.4 678.8 L765.7 680.7 L766.0 682.6 L766.3 684.6 L766.6 686.5 L766.9 688.4 L767.1 690.4 L767.4 692.3 L767.7 694.2 L768.0 696.1 L768.3 698.1 L768.6 700.0 L768.9 701.9 L769.2 703.8 L769.5 705.7 L769.8 707.6 L770.1 709.5 L770.4 711.5 L770.6 713.4 L770.9 715.3 L771.2 717.2 L771.5 719.1 L771.8 721.0 L772.1 722.9 L772.4 724.8 L772.7 726.7 L773.0 728.7 L773.3 730.6 L773.6 732.6 L773.8 734.5 L774.1 736.5 L774.4 738.4 L774.7 740.4 L775.0 742.3 L775.3 744.2 L775.5 746.1 L775.8 747.9 L776.1 749.7 L776.4 751.7 L776.7 753.8 L777.0 755.9 L777.3 757.9 L777.6 759.9 L777.9 761.9 L778.2 763.7 L778.5 765.5 L778.8 767.1 L779.2 768.5 L779.8 770.6 L780.5 772.6 L781.1 774.1 L781.7 774.7 L782.1 774.3 L782.5 773.1 L782.9 771.4 L783.3 769.3 L783.6 767.0 L783.9 764.6 L784.2 762.2 L784.4 760.7 L784.5 759.1 L784.6 757.3 L784.7 755.5 L784.8 753.5 L784.9 751.5 L784.9 749.5 L785.0 747.3 L785.0 745.2 L785.1 743.0 L785.1 740.8 L785.2 738.7 L785.2 736.5 L785.2 734.4 L785.3 732.3 L785.3 730.3 L785.4 728.4 L785.4 726.5 L785.5 724.8 L785.6 722.6 L785.7 720.6 L785.8 718.6 L785.9 716.6 L786.0 714.8 L786.1 712.9 L786.3 711.1 L786.4 709.2 L786.5 707.4 L786.6 705.5 L786.7 703.6 L789.5 700.0 L790.3 800.0 L791.0 712.0 L792.6 867.0 L794.5 712.0 L795.5 805.0 L797.6 684.0 L799.2 808.0 L800.0 778.0 L801.1 777.1 L802.3 777.0 L803.6 779.4 L804.8 777.7 L806.1 779.9 L807.3 779.8 L808.5 778.5 L809.8 780.1 L811.0 778.2 L812.3 779.6 L813.5 778.2 L814.8 778.1 L816.0 779.4 L817.3 780.9 L818.5 778.3 L819.8 778.6 L821.0 780.2 L822.3 781.1 L823.5 779.5 L824.8 778.5 L826.0 780.5 L827.3 776.7 L828.5 779.3 L829.8 776.6 L831.0 775.6 L832.3 775.0 L833.5 775.3 L834.7 776.7 L836.0 773.7 L837.2 774.8 L838.5 774.4 L839.7 772.9 L841.0 773.0 L842.2 770.5 L843.5 769.9 L844.7 769.8 L846.0 771.0 L847.2 769.3 L848.5 768.1 L849.7 768.4 L851.0 767.2 L852.2 765.8 L853.5 767.3 L854.7 766.6 L856.0 764.5 L857.2 765.4 L858.5 764.8 L859.7 765.4 L861.0 764.1 L862.2 761.7 L863.5 763.6 L864.7 759.5 L865.9 760.1 L867.2 760.7 L868.4 757.8 L869.7 758.5 L870.9 756.1 L872.2 757.9 L873.4 757.6 L874.7 756.3 L875.9 756.8 L877.2 754.0 L878.4 754.9 L879.7 754.1 L880.9 753.5 L882.2 752.5 L883.4 753.5 L884.7 753.4 L885.9 751.1 L887.2 751.3 L888.4 748.5 L889.7 750.5 L890.9 749.8 L892.2 750.7 L893.4 749.7 L894.7 747.2 L895.9 747.2 L897.1 747.7 L898.4 744.7 L899.6 745.9 L900.9 744.3 L902.1 743.5 L903.4 742.9 L904.6 745.3 L905.9 742.5 L907.1 742.5 L908.4 742.7 L909.6 744.3 L910.9 741.0 L912.1 742.2 L913.4 742.3 L914.6 743.4 L915.9 742.7 L917.1 742.5 L918.4 739.9 L919.6 740.1 L920.9 739.5 L922.1 741.3 L923.4 741.5 L924.6 738.3 L925.9 738.3 L927.1 738.4 L928.3 738.1 L929.6 738.8 L930.8 739.0 L932.1 737.5 L933.3 736.2 L934.6 737.6 L935.8 737.1 L937.1 737.6 L938.3 738.9 L939.6 737.6 L940.8 736.8 L942.1 737.1 L943.3 737.2 L944.6 734.7 L945.8 737.8 L947.0 737.2 L948.3 737.4 L949.5 737.0 L950.8 735.3 L952.0 735.2 L953.2 734.0 L954.5 735.8 L955.8 733.5 L957.0 733.4 L958.2 733.8 L959.5 733.5 L960.8 734.0 L962.0 732.8 L963.2 732.4 L964.5 732.9 L965.8 732.5 L967.1 733.3 L968.4 731.8 L969.8 734.8 L971.1 733.6 L972.4 731.7 L973.7 731.9 L975.0 732.0 L976.2 731.9 L977.5 730.8 L978.8 733.4 L980.0 733.8 L981.2 731.7 L982.5 731.6 L983.8 729.9 L985.0 729.8 L986.2 730.6 L987.5 730.1 L988.8 732.1 L990.0 729.4 L991.2 728.7 L992.5 732.0 L993.8 730.3 L995.0 728.6 L996.2 730.0 L997.5 727.8 L998.8 729.6 L1000.0 731.1 L1001.2 730.4 L1002.5 729.4 L1003.8 727.5 L1005.0 727.6 L1006.2 726.5 L1007.5 728.5 L1008.8 727.3 L1010.0 727.9 L1011.2 725.9 L1012.5 725.1 L1013.8 727.2 L1015.0 727.7 L1016.2 727.0 L1017.5 726.6 L1018.8 726.5 L1020.0 726.0 L1021.2 723.8 L1022.5 724.7 L1023.8 723.9 L1025.0 722.5 L1026.2 722.4 L1027.5 723.3 L1028.7 723.2 L1030.0 724.8 L1031.2 725.7 L1032.4 723.7 L1033.7 725.5 L1034.9 725.7 L1036.2 725.5 L1037.4 723.2 L1038.7 722.6 L1039.9 722.5 L1041.2 722.4 L1042.4 722.3 L1043.7 723.9 L1044.9 724.9 L1046.2 724.6 L1047.4 723.1 L1048.7 723.7 L1049.9 724.2 L1051.2 721.6 L1052.4 723.8 L1053.7 724.8 L1054.9 724.4 L1056.2 724.4 L1057.4 723.4 L1058.7 722.3 L1059.9 724.7 L1061.2 723.0 L1062.4 724.8 L1063.7 725.6 L1064.9 723.6 L1066.2 723.7 L1067.4 725.9 L1068.7 725.2 L1069.9 723.2 L1071.2 723.2 L1072.4 723.4 L1073.7 726.4 L1074.9 726.2 L1076.1 723.8 L1077.4 726.6 L1078.6 727.4 L1079.9 726.3 L1081.1 725.3 L1082.3 726.3 L1083.6 724.9 L1084.8 724.6 L1086.1 728.4 L1087.3 727.4 L1088.5 727.3 L1089.8 729.2 L1091.0 727.7 L1092.3 729.7 L1093.5 729.9 L1094.8 728.0 L1096.0 728.5 L1097.3 729.1 L1098.5 729.2 L1099.8 730.9 L1101.0 730.1 L1102.3 731.0 L1103.5 730.3 L1104.8 733.6 L1106.0 731.9 L1107.3 732.7 L1108.5 733.5 L1109.8 735.1 L1111.0 733.6 L1112.3 735.9 L1113.5 734.7 L1114.8 735.3 L1116.0 735.7 L1117.3 734.2 L1118.5 736.3 L1119.8 735.7 L1121.0 735.5 L1122.3 739.0 L1123.5 737.0 L1124.8 738.6 L1126.0 740.2 L1127.3 740.2 L1128.5 739.9 L1129.8 741.2 L1131.0 742.0 L1132.3 743.5 L1133.5 741.5 L1134.8 743.9 L1136.0 743.3 L1137.3 744.1 L1138.5 746.7 L1139.8 746.4 L1141.0 747.4 L1142.3 748.9 L1143.5 750.2 L1144.7 749.2 L1146.0 750.6 L1147.2 750.9 L1148.5 751.7 L1149.7 753.1 L1151.0 753.1 L1152.2 754.3 L1153.5 754.9 L1154.7 757.6 L1156.0 757.5 L1157.2 759.1 L1158.5 760.2 L1159.7 758.4 L1161.0 760.5 L1162.2 762.8 L1163.5 763.5 L1164.7 762.0 L1166.0 763.1 L1167.2 765.4 L1168.5 765.1 L1169.7 766.9 L1171.0 767.4 L1172.2 770.8 L1173.5 772.3 L1174.7 773.9 L1176.0 772.5 L1177.2 776.0 L1178.5 777.1 L1179.7 776.5 L1181.0 780.7 L1182.2 782.4 L1183.5 780.9 L1184.7 785.1 L1186.0 784.3 L1187.2 786.1 L1188.5 789.7 L1189.7 790.9 L1191.0 790.1 L1192.2 792.8 L1193.5 794.9 L1194.7 796.0 L1196.0 797.2 L1197.2 799.4 L1198.5 802.7 L1199.7 803.6 L1200.7 805.3 L1201.8 806.9 L1202.8 808.5 L1203.9 810.2 L1204.9 811.8 L1205.9 813.4 L1207.0 815.1 L1208.0 816.7 L1209.0 818.4 L1210.1 820.1 L1211.1 821.8 L1212.1 823.5 L1213.0 825.1 L1213.9 826.7 L1214.8 828.4 L1215.7 830.1 L1216.6 831.7 L1217.5 833.4 L1218.4 835.1 L1219.3 836.9 L1220.2 838.6 L1221.1 840.3 L1222.0 842.0 L1222.8 843.8 L1223.7 845.5 L1224.6 847.2 L1225.5 849.0 L1226.4 850.8 L1227.4 852.7 L1228.3 854.5 L1229.2 856.4 L1230.2 858.3 L1231.1 860.2 L1232.0 862.0 L1232.9 863.9 L1233.8 865.6 L1234.7 867.4 L1235.5 869.1 L1236.3 870.7 L1237.1 872.2 L1238.0 874.0 L1238.9 875.6 L1239.7 877.1 L1240.5 878.6 L1241.3 880.1 L1242.1 881.6 L1242.9 883.2 L1243.7 885.0 L1244.4 886.5 L1245.1 888.1 L1245.8 889.8 L1246.5 891.5 L1247.2 893.2 L1248.0 895.1 L1248.7 896.9 L1249.4 898.8 L1250.2 900.6 L1250.9 902.5 L1251.6 904.4 L1252.3 906.3 L1253.0 908.1 L1253.7 909.9 L1254.4 911.7 L1255.0 913.5 L1255.7 915.2 L1256.3 917.0 L1256.9 918.8 L1257.6 920.6 L1258.2 922.4 L1258.8 924.2 L1259.4 926.0 L1260.0 927.7 L1260.6 929.5 L1261.2 931.3 L1261.8 933.1 L1262.4 934.9 L1263.0 936.7 L1263.5 938.5 L1264.1 940.3 L1264.6 942.1 L1265.1 943.9 L1265.6 945.8 L1266.2 947.6 L1266.7 949.4 L1267.2 951.2 L1267.7 953.0 L1268.2 954.7 L1268.8 956.4 L1269.3 958.1 L1269.9 959.8 L1270.5 961.6 L1271.2 963.4 L1271.9 965.2 L1272.5 966.9 L1273.2 968.6 L1273.9 970.3 L1274.6 971.9 L1275.3 973.6 L1276.0 975.2 L1276.7 976.9 L1277.4 978.5 L1278.2 980.4 L1279.0 982.3 L1279.8 984.2 L1280.7 986.1 L1281.5 988.0 L1282.3 989.8 L1283.2 991.6 L1284.0 993.2 L1284.9 994.8 L1285.9 996.5 L1286.9 998.2 L1288.0 999.7 L1289.0 1001.2 L1290.0 1002.4 L1291.1 1003.5 L1292.6 1004.8 L1294.0 1005.7 L1295.5 1006.0 L1296.9 1005.5 L1298.4 1004.3 L1299.8 1002.8 L1301.1 1001.0 L1301.8 999.7 L1302.5 998.1 L1303.1 996.4 L1303.7 994.6 L1304.2 992.7 L1304.7 990.7 L1305.2 988.7 L1305.6 986.7 L1306.1 984.8 L1306.5 983.0 L1307.0 981.2 L1307.3 979.4 L1307.7 977.5 L1308.1 975.7 L1308.4 973.8 L1308.8 971.9 L1309.1 970.0 L1309.5 968.0 L1309.8 966.0 L1310.1 964.2 L1310.4 962.4 L1310.7 960.5 L1311.0 958.6 L1311.3 956.7 L1311.6 954.7 L1311.9 952.8 L1312.2 950.8 L1312.5 948.9 L1312.7 946.9 L1313.0 945.0 L1313.3 943.0 L1313.6 941.1 L1313.9 939.2 L1314.2 937.3 L1314.5 935.4 L1314.7 933.4 L1315.0 931.5 L1315.3 929.6 L1315.6 927.7 L1315.9 925.8 L1316.2 923.9 L1316.4 921.9 L1316.7 920.0 L1317.0 918.1 L1317.3 916.2 L1317.6 914.3 L1317.9 912.4 L1318.2 910.4 L1318.4 908.5 L1318.7 906.6 L1319.0 904.7 L1319.3 902.7 L1319.6 900.8 L1319.9 898.9 L1320.1 897.0 L1320.4 895.0 L1320.7 893.1 L1321.0 891.2 L1321.3 889.3 L1321.6 887.4 L1321.9 885.5 L1322.1 883.6 L1322.4 881.8 L1322.7 879.9 L1323.0 878.0 L1323.3 876.1 L1323.6 874.2 L1323.9 872.3 L1324.2 870.3 L1324.5 868.3 L1324.8 866.2 L1325.1 864.4 L1325.3 862.5 L1325.6 860.7 L1325.9 858.7 L1326.2 856.8 L1326.5 854.8 L1326.8 852.9 L1327.0 850.9 L1327.3 848.8 L1327.6 846.8 L1327.9 844.8 L1328.2 842.8 L1328.5 840.8 L1328.8 838.8 L1329.0 836.8 L1329.3 834.9 L1329.5 832.9 L1329.8 831.0 L1330.1 829.0 L1330.3 827.0 L1330.5 825.0 L1330.8 822.9 L1331.0 820.9 L1331.2 818.9 L1331.4 816.9 L1331.7 815.0 L1331.9 813.0 L1332.1 811.0 L1332.3 809.1 L1332.5 807.2 L1332.8 805.3 L1333.0 803.4 L1333.2 801.6 L1333.5 799.8 L1333.8 797.8 L1334.1 795.8 L1334.4 793.9 L1334.7 791.9 L1335.0 790.1 L1335.3 788.2 L1335.7 786.3 L1336.0 784.5 L1336.3 782.7 L1336.6 780.9 L1337.0 779.2 L1337.3 777.4 L1337.7 775.4 L1338.1 773.4 L1338.5 771.4 L1338.9 769.5 L1339.3 767.6 L1339.7 765.7 L1340.1 763.8 L1340.5 761.8 L1341.0 759.9 L1341.4 758.1 L1341.9 756.2 L1342.3 754.2 L1342.8 752.3 L1343.2 750.3 L1343.7 748.5 L1344.2 746.7 L1344.8 745.0 L1345.4 743.4 L1346.0 742.0 L1346.9 740.3 L1347.9 738.9 L1348.9 737.5 L1349.9 736.4 L1351.0 735.5 L1352.5 734.6 L1354.0 734.0 L1355.5 733.8 L1357.0 734.0 L1358.6 734.6 L1360.0 735.5 L1361.1 736.5 L1362.1 737.7 L1363.1 739.0 L1364.0 740.5 L1364.8 741.8 L1365.6 743.2 L1366.3 744.6 L1367.1 746.2 L1367.8 747.8 L1368.5 749.5 L1369.1 751.0 L1369.7 752.6 L1370.3 754.2 L1370.8 755.9 L1371.4 757.6 L1371.9 759.4 L1372.5 761.2 L1373.0 763.0 L1373.5 764.9 L1373.9 766.6 L1374.4 768.4 L1374.8 770.2 L1375.2 772.0 L1375.6 773.9 L1376.0 775.7 L1376.4 777.7 L1376.8 779.6 L1377.2 781.5 L1377.6 783.4 L1378.0 785.4 L1378.4 787.3 L1378.8 789.2 L1379.2 791.1 L1379.6 793.0 L1380.0 795.0 L1380.4 797.0 L1380.8 799.0 L1381.1 800.9 L1381.5 802.9 L1381.9 804.8 L1382.3 806.7 L1382.7 808.6 L1383.0 810.5 L1383.4 812.3 L1383.8 814.3 L1384.2 816.2 L1384.6 818.1 L1385.0 820.0 L1385.3 821.8 L1385.7 823.6 L1386.1 825.5 L1386.5 827.3 L1386.8 829.1 L1387.2 831.0 L1387.6 832.9 L1387.9 834.7 L1388.3 836.6 L1388.7 838.5 L1389.1 840.3 L1389.4 842.2 L1389.8 844.1 L1390.2 846.0 L1390.5 847.8 L1390.9 849.7 L1391.3 851.6 L1391.7 853.5 L1392.0 855.4 L1392.4 857.3 L1392.8 859.2 L1393.2 861.1 L1393.6 863.0 L1393.9 864.9 L1394.3 866.7 L1394.7 868.5 L1395.1 870.5 L1395.5 872.5 L1396.0 874.5 L1396.4 876.4 L1396.8 878.3 L1397.2 880.2 L1397.6 882.1 L1398.0 884.0 L1398.4 886.0 L1398.8 888.0 L1399.1 890.0 L1399.5 891.9 L1399.9 893.9 L1400.4 895.7 L1400.9 897.4 L1401.6 899.5 L1402.5 901.8 L1403.4 903.8 L1404.3 905.3 L1405.3 906.0 L1406.4 905.6 L1407.5 904.5 L1408.6 902.9 L1409.6 901.2 L1410.2 899.9 L1410.6 898.3 L1411.0 896.6 L1411.3 894.8 L1411.6 892.9 L1411.9 890.9 L1412.2 888.9 L1412.5 886.9 L1412.8 885.0 L1413.1 883.2 L1413.5 881.3 L1413.8 879.4 L1414.2 877.5 L1414.5 875.6 L1414.8 873.7 L1415.1 871.8 L1415.4 869.9 L1415.7 868.0 L1415.9 866.2 L1416.1 864.4 L1416.2 862.6 L1416.4 860.9 L1416.5 859.2 L1416.5 857.4 L1416.6 855.7 L1416.8 853.8 L1416.9 851.8 L1417.1 849.7 L1417.3 848.1 L1417.5 846.4 L1417.7 844.6 L1417.9 842.8 L1418.2 840.9 L1418.4 839.0 L1418.7 837.0 L1419.0 835.0 L1419.3 833.0 L1419.6 830.9 L1419.9 828.8 L1420.2 826.7 L1420.5 824.6 L1420.8 822.5 L1421.1 820.4 L1421.3 818.4 L1421.6 816.3 L1421.9 814.3 L1422.1 812.3 L1422.3 810.3 L1422.6 808.4 L1422.8 806.4 L1423.0 804.4 L1423.2 802.4 L1423.4 800.4 L1423.6 798.4 L1423.8 796.4 L1424.0 794.4 L1424.2 792.5 L1424.4 790.5 L1424.6 788.5 L1424.8 786.5 L1425.0 784.6 L1425.2 782.6 L1425.4 780.7 L1425.5 778.7 L1425.7 776.8 L1425.9 774.9 L1426.1 772.9 L1426.3 770.9 L1426.4 769.0 L1426.6 767.0 L1426.7 765.1 L1426.9 763.2 L1427.1 761.2 L1427.2 759.3 L1427.4 757.4 L1427.5 755.5 L1427.7 753.6 L1427.8 751.7 L1428.0 749.8 L1428.1 747.9 L1428.3 746.0 L1428.5 744.1 L1428.7 742.2 L1428.9 740.2 L1429.1 738.2 L1429.3 736.3 L1429.6 734.3 L1429.8 732.3 L1430.0 730.3 L1430.3 728.3 L1430.5 726.3 L1430.8 724.4 L1431.0 722.4 L1431.3 720.5 L1431.5 718.5 L1431.8 716.6 L1432.0 714.7 L1432.3 712.9 L1432.5 711.0 L1432.8 709.0 L1433.0 707.0 L1433.3 705.0 L1433.6 703.1 L1433.8 701.1 L1434.1 699.2 L1434.4 697.3 L1434.6 695.4 L1434.9 693.5 L1435.2 691.6 L1435.5 689.8 L1435.9 687.9 L1436.2 686.1 L1436.6 684.1 L1437.0 682.1 L1437.4 680.1 L1437.9 678.1 L1438.3 676.2 L1438.8 674.2 L1439.3 672.3 L1439.7 670.4 L1440.2 668.6 L1440.7 666.7 L1441.2 664.9 L1441.7 662.9 L1442.2 661.0 L1442.7 659.0 L1443.2 657.0 L1443.8 655.1 L1444.3 653.3 L1444.9 651.6 L1445.5 650.0 L1446.2 648.5 L1447.1 646.8 L1448.0 645.3 L1449.0 643.9 L1450.1 642.7 L1451.2 641.7 L1452.8 640.8 L1454.4 640.2 L1456.2 640.0 L1458.0 640.2 L1459.9 640.7 L1461.8 641.4 L1463.7 642.3 L1465.2 643.2 L1466.6 644.3 L1468.0 645.5 L1469.5 646.8 L1470.9 647.9 L1472.4 649.0 L1474.1 650.1 L1475.9 651.3 L1477.6 652.4 L1479.4 653.2 L1481.1 653.5 L1482.6 653.3 L1484.1 652.8 L1485.6 652.0 L1487.1 651.2 L1488.6 650.3 L1490.2 649.2 L1491.8 647.8 L1493.4 646.4 L1495.0 645.4 L1496.4 645.0 L1498.1 645.5 L1499.6 646.7 L1501.1 648.3 L1502.1 649.5 L1503.0 651.0 L1503.8 652.6 L1504.6 654.3 L1505.4 656.1 L1506.1 658.0 L1506.6 659.5 L1507.1 661.2 L1507.5 662.8 L1507.9 664.6 L1508.3 666.3 L1508.7 668.1 L1509.0 670.0 L1509.4 671.8 L1509.8 673.6 L1510.2 675.4 L1510.6 677.2 L1511.0 679.1 L1511.3 681.0 L1511.7 682.8 L1512.1 684.7 L1512.5 686.6 L1512.9 688.5 L1513.2 690.4 L1513.6 692.3 L1514.0 694.2 L1514.4 696.0 L1514.7 697.8 L1515.1 699.6 L1515.5 701.5 L1515.9 703.3 L1516.2 705.2 L1516.6 707.1 L1516.9 709.0 L1517.3 711.0 L1517.6 712.8 L1517.9 714.6 L1518.2 716.5 L1518.5 718.4 L1518.8 720.3 L1519.1 722.3 L1519.4 724.3 L1519.7 726.2 L1520.0 728.2 L1520.2 730.2 L1520.5 732.1 L1520.8 734.1 L1521.1 736.0 L1521.4 737.9 L1521.7 739.9 L1522.0 741.9 L1522.3 743.9 L1522.6 745.9 L1522.8 747.8 L1523.1 749.8 L1523.4 751.8 L1523.7 753.7 L1524.0 755.6 L1524.3 757.4 L1524.5 759.2 L1524.8 760.9 L1525.1 763.0 L1525.5 764.9 L1525.8 766.7 L1526.1 768.5 L1526.4 770.4 L1526.7 772.2 L1527.0 774.1 L1527.3 776.2 L1527.5 777.9 L1527.7 779.7 L1527.9 781.5 L1528.1 783.4 L1528.3 785.3 L1528.4 787.2 L1528.6 789.2 L1528.8 791.2 L1529.0 793.2 L1529.2 795.2 L1529.4 797.1 L1529.6 799.1 L1529.8 801.0 L1530.1 802.9 L1530.3 804.8 L1530.6 806.7 L1530.9 808.7 L1531.2 810.6 L1531.5 812.5 L1531.8 814.4 L1532.1 816.3 L1532.4 818.2 L1532.7 820.1 L1533.0 822.1 L1533.3 824.0 L1533.6 825.9 L1533.9 827.8 L1534.1 829.7 L1534.4 831.7 L1534.6 833.6 L1534.9 835.5 L1535.2 837.4 L1535.4 839.4 L1535.6 841.3 L1535.9 843.2 L1536.1 845.1 L1536.3 847.1 L1536.5 849.0 L1536.7 850.9 L1536.9 852.8 L1537.0 854.7 L1537.2 856.6 L1537.3 858.6 L1537.5 860.5 L1537.6 862.4 L1537.7 864.3 L1537.9 866.2 L1538.0 868.1 L1538.1 870.1 L1538.2 872.0 L1538.4 873.9 L1538.5 875.8 L1538.6 877.7 L1538.8 879.6 L1538.9 881.6 L1539.1 883.5 L1539.2 885.4 L1539.4 887.3 L1539.5 889.3 L1539.7 891.2 L1539.8 893.1 L1540.0 895.0 L1540.1 897.0 L1540.3 898.9 L1540.4 900.8 L1540.5 902.7 L1540.7 904.6 L1540.8 906.5 L1541.0 908.5 L1541.1 910.4 L1541.2 912.3 L1541.4 914.2 L1541.5 916.1 L1541.7 918.0 L1541.8 920.0 L1542.0 921.9 L1542.1 923.8 L1542.3 925.7 L1542.5 927.6 L1542.7 929.6 L1542.9 931.5 L1543.1 933.4 L1543.3 935.4 L1543.5 937.3 L1543.7 939.2 L1543.9 941.2 L1544.1 943.1 L1544.3 945.0 L1544.5 946.9 L1544.6 948.8 L1544.8 950.7 L1544.9 952.6 L1545.1 954.6 L1545.2 956.5 L1545.3 958.4 L1545.4 960.3 L1545.5 962.2 L1545.6 964.1 L1545.6 965.9 L1545.7 967.8 L1545.8 969.7 L1545.9 971.6 L1546.0 973.5 L1546.2 971.9 L1546.4 970.3 L1546.7 968.8 L1546.9 967.2 L1547.1 965.3 L1547.3 963.0 L1547.4 961.8 L1547.5 960.5 L1547.6 959.2 L1547.7 957.7 L1547.8 956.2 L1547.8 954.6 L1547.9 952.9 L1548.0 951.1 L1548.1 949.3 L1548.2 947.4 L1548.3 945.5 L1548.4 943.5 L1548.4 941.5 L1548.5 939.4 L1548.6 937.3 L1548.7 935.2 L1548.8 933.0 L1548.8 930.8 L1548.9 928.6 L1549.0 926.4 L1549.1 924.2 L1549.1 922.0 L1549.2 919.8 L1549.3 917.6 L1549.4 915.4 L1549.4 913.2 L1549.5 911.1 L1549.6 908.9 L1549.6 906.8 L1549.7 904.8 L1549.7 902.8 L1549.8 900.8 L1549.9 898.9 L1549.9 896.9 L1550.0 895.0 L1550.0 893.0 L1550.1 891.1 L1550.1 889.1 L1550.2 887.2 L1550.2 885.2 L1550.3 883.3 L1550.3 881.3 L1550.4 879.4 L1550.4 877.4 L1550.4 875.5 L1550.5 873.5 L1550.5 871.6 L1550.6 869.6 L1550.6 867.7 L1550.6 865.7 L1550.7 863.8 L1550.7 861.8 L1550.7 859.9 L1550.8 857.9 L1550.8 856.0 L1550.8 854.0 L1550.8 852.1 L1550.9 850.1 L1550.9 848.2 L1550.9 846.2 L1550.9 844.3 L1551.0 842.3 L1551.0 840.4 L1551.0 838.4 L1551.0 836.5 L1551.0 834.5 L1551.0 832.6 L1551.1 830.6 L1551.1 828.7 L1551.1 826.8 L1551.1 824.8 L1551.1 822.9 L1551.1 821.0 L1551.1 819.0 L1551.1 817.1 L1551.1 815.2 L1551.1 813.3 L1551.1 811.3 L1551.0 809.4 L1551.0 807.5 L1551.0 805.5 L1551.0 803.6 L1551.0 801.6 L1551.0 799.7 L1551.0 797.8 L1551.0 795.8 L1551.0 793.8 L1551.0 791.9 L1551.0 789.9 L1551.0 788.0 L1551.0 786.0 L1551.0 784.0 L1551.0 782.0 L1551.0 780.0 L1551.0 778.0 L1551.0 776.0 L1551.0 774.1 L1551.0 772.2 L1551.0 770.2 L1551.0 768.3 L1551.1 766.3 L1551.1 764.4 L1551.1 762.4 L1551.1 760.4 L1551.1 758.4 L1551.1 756.4 L1551.1 754.4 L1551.1 752.4 L1551.2 750.4 L1551.2 748.4 L1551.2 746.4 L1551.2 744.4 L1551.2 742.4 L1551.3 740.4 L1551.3 738.4 L1551.3 736.4 L1551.3 734.4 L1551.3 732.4 L1551.3 730.4 L1551.4 728.4 L1551.4 726.4 L1551.4 724.4 L1551.4 722.4 L1551.4 720.4 L1551.5 718.4 L1551.5 716.4 L1551.5 714.5 L1551.5 712.5 L1551.5 710.6 L1551.6 708.6 L1551.6 706.7 L1551.6 704.8 L1551.6 702.8 L1551.6 700.8 L1551.7 698.8 L1551.7 696.8 L1551.7 694.8 L1551.7 692.8 L1551.7 690.9 L1551.8 688.9 L1551.8 687.0 L1551.8 685.0 L1551.8 683.0 L1551.8 681.1 L1551.9 679.2 L1551.9 677.2 L1551.9 675.3 L1551.9 673.3 L1551.9 671.4 L1552.0 669.5 L1552.0 667.5 L1552.0 665.6 L1552.0 663.7 L1552.0 661.8 L1552.1 659.8 L1552.1 657.9 L1552.1 656.0 L1552.1 654.0 L1552.2 652.1 L1552.2 650.2 L1552.2 648.2 L1552.2 646.3 L1552.3 644.3 L1552.3 642.4 L1552.3 640.4 L1552.4 638.5 L1552.4 636.5 L1552.4 634.6 L1552.5 632.6 L1552.5 630.6 L1552.5 628.7 L1552.5 626.7 L1552.6 624.7 L1552.6 622.8 L1552.6 620.8 L1552.7 618.8 L1552.7 616.9 L1552.7 614.9 L1552.8 612.9 L1552.8 611.0 L1552.9 609.0 L1552.9 607.0 L1552.9 605.1 L1553.0 603.1 L1553.0 601.2 L1553.0 599.2 L1553.1 597.3 L1553.1 595.3 L1553.2 593.4 L1553.2 591.5 L1553.3 589.5 L1553.3 587.6 L1553.4 585.7 L1553.4 583.8 L1553.4 581.9 L1553.5 580.0 L1553.6 578.0 L1553.6 575.9 L1553.7 573.9 L1553.7 571.8 L1553.8 569.8 L1553.8 567.7 L1553.9 565.7 L1554.0 563.6 L1554.0 561.6 L1554.1 559.5 L1554.2 557.5 L1554.2 555.4 L1554.3 553.4 L1554.4 551.4 L1554.4 549.4 L1554.5 547.4 L1554.6 545.4 L1554.7 543.4 L1554.7 541.5 L1554.8 539.5 L1554.9 537.6 L1554.9 535.7 L1555.0 533.8 L1555.1 532.0 L1555.2 530.2 L1555.2 528.3 L1555.3 526.6 L1555.4 524.8 L1555.5 522.7 L1555.6 520.5 L1555.7 518.4 L1555.8 516.3 L1555.8 514.2 L1555.9 512.1 L1556.0 510.1 L1556.1 508.1 L1556.2 506.1 L1556.3 504.2 L1556.4 502.3 L1556.5 500.4 L1556.6 498.5 L1556.7 496.7 L1556.9 495.0 L1557.0 493.3 L1557.1 491.6 L1557.3 490.0 L1557.5 487.8 L1557.8 485.8 L1558.1 483.9 L1558.3 482.0 L1558.6 480.2 L1558.9 478.4 L1559.2 476.7 L1559.5 474.9 L1559.8 473.0 L1560.1 474.8 L1560.4 476.6 L1560.7 478.3 L1561.0 480.1 L1561.2 481.9 L1561.5 483.7 L1561.8 485.6 L1562.1 487.7 L1562.3 490.0 L1562.4 491.5 L1562.6 493.1 L1562.7 494.7 L1562.8 496.4 L1563.0 498.2 L1563.1 500.0 L1563.2 501.9 L1563.3 503.8 L1563.4 505.8 L1563.5 507.8 L1563.6 509.8 L1563.7 511.8 L1563.8 513.9 L1563.9 516.0 L1563.9 518.1 L1564.0 520.3 L1564.1 522.4 L1564.2 524.6 L1564.3 526.7 L1564.4 528.8 L1564.4 531.0 L1564.5 533.1 L1564.6 535.2 L1564.7 537.3 L1564.8 539.2 L1564.8 541.1 L1564.9 543.0 L1565.0 545.0 L1565.0 547.1 L1565.1 549.1 L1565.2 551.2 L1565.2 553.3 L1565.3 555.4 L1565.3 557.5 L1565.4 559.6 L1565.4 561.7 L1565.5 563.8 L1565.6 566.0 L1565.6 568.1 L1565.7 570.2 L1565.7 572.2 L1565.8 574.3 L1565.8 576.3 L1565.9 578.4 L1565.9 580.3 L1566.0 582.3 L1566.1 584.2 L1566.1 586.0 L1566.2 587.8 L1566.3 589.6 L1566.4 591.3 L1566.4 592.9 L1566.5 594.5 L1566.6 596.0 L1566.8 598.3 L1566.9 600.4 L1567.1 602.4 L1567.3 604.2 L1567.4 605.9 L1567.6 607.7 L1567.8 609.4 L1568.0 611.2 L1568.2 613.1 L1568.3 615.2 L1568.5 617.4 L1568.6 619.0 L1568.7 620.7 L1568.8 622.4 L1568.9 624.2 L1569.0 626.0 L1569.1 627.9 L1569.3 629.9 L1569.4 631.8 L1569.5 633.8 L1569.6 635.9 L1569.7 637.9 L1569.8 640.0 L1569.9 642.1 L1570.0 644.2 L1570.1 646.3 L1570.2 648.5 L1570.3 650.6 L1570.4 652.7 L1570.5 654.9 L1570.5 657.0 L1570.6 659.1 L1570.7 661.2 L1570.8 663.2 L1570.9 665.3 L1571.0 667.3 L1571.1 669.2 L1571.2 671.2 L1571.2 673.1 L1571.3 675.1 L1571.4 677.0 L1571.5 679.0 L1571.6 680.9 L1571.6 682.9 L1571.7 684.9 L1571.8 686.9 L1571.9 688.8 L1571.9 690.8 L1572.0 692.7 L1572.1 694.7 L1572.2 696.7 L1572.2 698.6 L1572.3 700.5 L1572.4 702.4 L1572.4 704.4 L1572.5 706.3 L1572.6 708.1 L1572.6 710.0 L1572.7 711.9 L1572.8 713.7 L1572.8 715.5 L1572.9 717.3 L1573.0 719.4 L1573.0 721.4 L1573.1 723.4 L1573.2 725.4 L1573.3 727.3 L1573.3 729.2 L1573.4 731.1 L1573.5 733.0 L1573.5 734.9 L1573.6 736.8 L1573.7 738.6 L1573.7 740.5 L1573.8 742.5 L1573.8 744.4 L1573.9 746.4 L1574.0 748.4 L1574.0 750.4 L1574.1 752.5 L1574.1 754.7 L1574.1 756.5 L1574.2 758.3 L1574.2 760.1 L1574.2 762.0 L1574.2 763.9 L1574.3 765.8 L1574.3 767.8 L1574.3 769.8 L1574.3 771.8 L1574.3 773.8 L1574.3 775.8 L1574.3 777.9 L1574.3 779.9 L1574.3 782.0 L1574.3 784.0 L1574.3 786.1 L1574.4 788.2 L1574.4 790.2 L1574.4 792.3 L1574.4 794.3 L1574.4 796.3 L1574.4 798.3 L1574.4 800.3 L1574.5 802.3 L1574.5 804.2 L1574.5 806.1 L1574.6 808.0 L1574.6 809.8 L1574.6 811.6 L1574.7 813.4 L1574.8 815.6 L1574.9 817.7 L1574.9 819.8 L1575.0 821.8 L1575.1 823.9 L1575.2 825.9 L1575.4 827.8 L1575.5 829.8 L1575.6 831.7 L1575.7 833.6 L1575.8 835.5 L1575.9 837.4 L1576.0 839.3 L1576.1 841.2 L1576.2 843.2 L1576.3 845.1 L1576.4 847.0 L1576.5 848.9 L1576.6 850.9 L1576.7 852.9 L1576.7 854.8 L1576.8 856.7 L1576.9 858.7 L1576.9 860.6 L1577.0 862.5 L1577.0 864.4 L1577.1 866.3 L1577.1 868.3 L1577.2 870.2 L1577.2 872.1 L1577.2 874.1 L1577.3 876.0 L1577.3 878.0 L1577.4 880.0 L1577.4 882.1 L1577.4 884.1 L1577.5 886.2 L1577.5 888.3 L1577.5 890.1 L1577.6 892.0 L1577.6 893.9 L1577.6 895.8 L1577.6 897.7 L1577.7 899.7 L1577.7 901.6 L1577.7 903.6 L1577.7 905.6 L1577.7 907.6 L1577.8 909.6 L1577.8 911.6 L1577.8 913.6 L1577.8 915.7 L1577.8 917.7 L1577.8 919.7 L1577.9 921.8 L1577.9 923.8 L1577.9 925.9 L1577.9 927.9 L1577.9 929.9 L1577.9 932.0 L1577.9 934.0 L1578.0 936.0 L1578.0 938.0 L1578.0 940.0 L1578.0 938.1 L1578.1 936.1 L1578.1 934.2 L1578.2 932.3 L1578.2 930.3 L1578.3 928.4 L1578.3 926.5 L1578.4 924.5 L1578.5 922.6 L1578.5 920.6 L1578.6 918.7 L1578.6 916.8 L1578.7 914.8 L1578.7 912.9 L1578.8 911.0 L1578.8 909.0 L1578.9 907.1 L1578.9 905.2 L1579.0 903.2 L1579.0 901.3 L1579.1 899.4 L1579.1 897.4 L1579.1 895.5 L1579.2 893.5 L1579.2 891.6 L1579.3 889.7 L1579.3 887.7 L1579.4 885.8 L1579.4 883.9 L1579.5 881.9 L1579.5 880.0 L1579.5 878.1 L1579.6 876.1 L1579.6 874.1 L1579.6 872.2 L1579.7 870.2 L1579.7 868.2 L1579.7 866.2 L1579.8 864.2 L1579.8 862.1 L1579.8 860.1 L1579.8 858.1 L1579.9 856.1 L1579.9 854.1 L1579.9 852.1 L1579.9 850.1 L1580.0 848.1 L1580.0 846.1 L1580.0 844.1 L1580.0 842.2 L1580.1 840.2 L1580.1 838.3 L1580.1 836.4 L1580.2 834.5 L1580.2 832.6 L1580.2 830.7 L1580.3 828.9 L1580.3 827.0 L1580.4 825.2 L1580.4 823.5 L1580.4 821.7 L1580.5 820.0 L1580.6 817.8 L1580.6 815.7 L1580.7 813.7 L1580.8 811.6 L1580.9 809.6 L1581.0 807.7 L1581.1 805.7 L1581.2 803.8 L1581.3 801.9 L1581.3 800.0 L1581.4 798.1 L1581.5 796.2 L1581.6 794.4 L1581.7 792.5 L1581.8 790.6 L1581.9 788.7 L1582.0 786.9 L1582.1 784.9 L1582.2 783.0 L1582.9 784.7 L1583.6 786.3 L1584.4 787.9 L1585.1 789.5 L1585.8 791.2 L1586.5 792.9 L1587.2 794.7 L1587.8 796.4 L1588.4 798.1 L1588.9 799.9 L1589.5 801.7 L1590.0 803.5 L1590.6 805.4 L1591.1 807.2 L1591.7 809.1 L1592.2 811.0 L1592.7 812.8 L1593.2 814.6 L1593.8 816.5 L1594.3 818.3 L1594.8 820.2 L1595.3 822.1 L1595.8 823.9 L1596.3 825.9 L1596.8 827.8 L1597.2 829.7 L1597.6 831.6 L1598.0 833.4 L1598.3 835.3 L1598.7 837.2 L1599.0 839.1 L1599.3 841.1 L1599.6 843.0 L1599.9 845.0 L1600.3 846.9 L1600.6 848.9 L1600.9 850.9 L1601.2 852.8 L1601.5 854.7 L1601.8 856.6 L1602.1 858.5 L1602.4 860.5 L1602.7 862.5 L1603.0 864.4 L1603.3 866.4 L1603.6 868.3 L1603.9 870.3 L1604.2 872.1 L1604.4 874.0 L1604.7 875.8 L1605.0 877.8 L1605.3 879.7 L1605.5 881.5 L1605.8 883.3 L1606.0 885.1 L1606.3 886.9 L1606.5 888.8 L1606.7 890.6 L1607.0 892.5 L1607.2 894.5 L1607.4 896.3 L1607.6 898.1 L1607.8 900.0 L1608.0 901.9 L1608.2 903.8 L1608.4 905.8 L1608.6 907.8 L1608.8 909.7 L1608.9 911.7 L1609.1 913.7 L1609.3 915.6 L1609.5 917.6 L1609.7 919.5 L1609.9 921.4 L1610.1 923.4 L1610.3 925.4 L1610.5 927.5 L1610.7 929.5 L1610.9 931.5 L1611.0 933.5 L1611.2 935.5 L1611.4 937.4 L1611.6 939.3 L1611.8 941.1 L1612.0 942.9 L1612.2 944.5 L1612.5 946.5 L1612.7 948.4 L1613.0 950.2 L1613.2 951.9 L1613.5 953.6 L1613.7 955.3 L1614.0 957.0 L1614.2 955.0 L1614.3 953.1 L1614.5 951.2 L1614.6 949.2 L1614.8 947.3 L1615.0 945.4 L1615.1 943.5 L1615.3 941.5 L1615.5 939.6 L1615.6 937.6 L1615.8 935.7 L1615.9 933.7 L1616.1 931.7 L1616.2 929.7 L1616.4 927.7 L1616.5 925.7 L1616.6 923.8 L1616.7 921.9 L1616.8 920.0 L1617.0 918.0 L1617.1 916.1 L1617.2 914.1 L1617.3 912.2 L1617.4 910.2 L1617.5 908.2 L1617.6 906.2 L1617.6 904.2 L1617.7 902.2 L1617.8 900.2 L1617.9 898.2 L1618.0 896.2 L1618.1 894.2 L1618.2 892.3 L1618.3 890.3 L1618.4 888.3 L1618.5 886.3 L1618.6 884.3 L1618.7 882.3 L1618.8 880.2 L1618.9 878.2 L1618.9 876.1 L1619.0 874.0 L1619.1 871.9 L1619.2 869.9 L1619.3 867.8 L1619.4 865.8 L1619.5 863.8 L1619.6 861.8 L1619.7 859.9 L1619.8 858.0 L1619.9 856.1 L1620.0 854.3 L1620.2 852.6 L1620.3 850.9 L1620.5 848.8 L1620.6 846.7 L1620.8 844.6 L1621.0 842.6 L1621.1 840.6 L1621.3 838.8 L1621.5 837.0 L1621.8 835.3 L1622.1 833.7 L1622.4 832.3 L1622.8 831.0 L1623.7 828.7 L1624.7 826.9 L1625.9 826.0 L1627.1 826.2 L1628.4 827.1 L1629.8 828.5 L1630.9 830.0 L1631.6 831.3 L1632.2 832.9 L1632.7 834.6 L1633.1 836.5 L1633.4 838.5 L1633.8 840.6 L1634.2 842.6 L1634.6 844.6 L1635.0 846.4 L1635.4 848.2 L1635.8 850.1 L1636.2 851.9 L1636.5 853.9 L1636.9 855.8 L1637.3 857.7 L1637.7 859.6 L1638.0 861.5 L1638.4 863.4 L1638.8 865.3 L1639.1 867.3 L1639.5 869.3 L1639.8 871.4 L1640.1 873.4 L1640.5 875.3 L1640.9 877.2 L1641.2 879.0 L1641.7 880.6 L1642.1 882.0 L1642.8 884.0 L1643.5 885.9 L1644.3 887.3 L1645.2 888.0 L1646.8 887.3 L1648.4 885.8 L1649.5 884.7 L1650.5 883.5 L1651.5 883.0 L1652.4 883.6 L1653.2 884.8 L1653.9 886.5 L1654.6 888.3 L1655.0 889.7 L1655.3 891.3 L1655.6 893.0 L1655.9 894.9 L1656.1 896.9 L1656.3 898.9 L1656.5 901.0 L1656.7 903.1 L1656.9 905.1 L1657.1 907.0 L1657.3 908.9 L1657.6 910.9 L1657.8 912.8 L1658.0 914.8 L1658.3 916.8 L1658.5 918.7 L1658.8 920.6 L1659.0 922.4 L1659.3 924.1 L1659.6 925.7 L1660.1 928.0 L1660.6 930.3 L1661.1 932.4 L1661.6 933.9 L1662.0 934.5 L1662.2 934.2 L1662.5 933.4 L1662.7 932.2 L1662.9 930.6 L1663.0 928.6 L1663.2 926.4 L1663.3 924.1 L1663.5 921.5 L1663.7 918.9 L1663.8 916.3 L1664.0 913.8 L1664.2 911.3 L1664.4 909.1 L1664.6 907.0 L1664.8 905.0 L1665.1 903.0 L1665.4 901.1 L1665.6 899.1 L1665.9 897.1 L1666.2 895.2 L1666.5 893.2 L1666.8 891.3 L1667.1 889.4 L1667.4 887.5 L1667.7 885.6 L1668.0 883.8 L1668.3 882.0 L1668.7 880.0 L1669.0 878.1 L1669.4 876.2 L1669.8 874.3 L1670.2 872.4 L1670.5 870.6 L1670.9 868.8 L1671.3 867.0 L1671.7 865.2 L1672.1 863.4 L1672.5 861.5 L1672.9 859.7 L1673.3 857.8 L1673.7 856.0 L1674.1 854.2 L1674.5 852.4 L1674.9 850.6 L1675.3 848.8 L1675.8 847.1 L1676.3 845.3 L1676.8 843.3 L1677.3 841.4 L1677.8 839.5 L1678.3 837.7 L1678.9 836.1 L1679.5 834.6 L1680.2 833.4 L1681.4 831.7 L1682.8 830.4 L1683.9 830.0 L1684.6 830.7 L1685.2 832.0 L1685.6 833.9 L1686.0 836.1 L1686.4 838.4 L1686.6 839.8 L1686.8 841.4 L1687.0 843.1 L1687.1 844.9 L1687.2 846.8 L1687.3 848.7 L1687.4 850.8 L1687.5 852.9 L1687.5 855.1 L1687.6 857.2 L1687.6 859.4 L1687.7 861.6 L1687.8 863.8 L1687.8 865.9 L1687.9 868.0 L1688.0 870.0 L1689.6 996.0 L1690.8 880.0 L1692.2 814.5 L1693.5 850.0 L1695.0 900.0 L1698.7 929.0 L1698.9 927.0 L1699.0 925.1 L1699.2 923.1 L1699.3 921.1 L1699.5 919.0 L1699.6 917.0 L1699.8 915.0 L1700.0 913.0 L1700.1 911.0 L1700.3 909.0 L1700.4 907.0 L1700.6 905.0 L1700.7 903.0 L1700.9 901.1 L1701.1 899.1 L1701.3 897.2 L1701.4 895.4 L1701.6 893.5 L1701.8 891.8 L1702.0 890.0 L1702.2 887.9 L1702.5 885.8 L1702.8 883.8 L1703.0 881.9 L1703.3 880.0 L1703.6 878.1 L1703.9 876.2 L1704.2 874.4 L1704.5 872.5 L1704.8 870.7 L1705.0 868.8 L1705.3 866.9 L1705.6 865.0 L1706.0 866.9 L1706.4 868.7 L1706.8 870.5 L1707.3 872.4 L1707.7 874.2 L1708.1 876.1 L1708.5 878.0 L1709.0 880.0 L1709.4 881.7 L1709.8 883.4 L1710.2 885.2 L1710.6 887.0 L1711.1 888.8 L1711.5 890.6 L1712.0 892.5 L1712.4 894.3 L1712.8 896.2 L1713.3 898.0 L1713.7 899.8 L1714.1 898.0 L1714.5 896.2 L1714.9 894.5 L1715.3 892.7 L1715.6 890.9 L1716.0 889.2 L1716.4 887.4 L1716.8 885.6 L1717.2 883.7 L1717.6 881.9 L1718.0 880.0 L1718.4 878.1 L1718.7 876.2 L1719.0 874.2 L1719.4 872.1 L1719.7 870.0 L1720.0 868.0 L1720.3 865.9 L1720.7 863.9 L1721.1 861.9 L1721.5 860.0 L1722.0 858.2 L1722.4 856.5 L1723.0 855.0 L1723.9 853.0 L1724.9 851.2 L1726.0 849.6 L1727.1 848.1 L1728.2 846.6 L1729.3 845.0 L1729.6 846.9 L1729.9 848.8 L1730.2 850.6 L1730.5 852.4 L1730.8 854.3 L1731.1 856.1 L1731.4 858.0 L1731.7 859.8 L1732.0 861.8 L1732.2 863.7 L1732.5 865.7 L1732.8 867.8 L1733.0 870.0 L1733.2 871.7 L1733.3 873.4 L1733.5 875.2 L1733.7 877.0 L1733.8 878.8 L1733.9 880.7 L1734.1 882.5 L1734.2 884.5 L1734.3 886.4 L1734.4 888.4 L1734.6 890.3 L1734.7 892.3 L1734.8 894.4 L1734.9 896.4 L1735.0 898.4 L1735.1 900.5 L1735.3 902.5 L1735.4 904.6 L1735.5 906.7 L1735.6 908.8 L1735.7 910.8 L1735.9 912.9 L1736.0 915.0 L1736.1 916.9 L1736.2 918.7 L1736.4 920.6 L1736.5 922.5 L1736.6 924.4 L1736.7 926.4 L1736.9 928.3 L1737.0 930.2 L1737.1 932.2 L1737.3 934.2 L1737.4 936.1 L1737.5 938.1 L1737.6 940.1 L1737.8 942.1 L1737.9 944.1 L1738.0 946.1 L1738.2 948.1 L1738.3 950.1 L1738.4 952.1 L1738.5 954.1 L1738.7 956.1 L1738.8 958.1 L1738.9 960.1 L1739.1 962.1 L1739.2 964.1 L1739.3 966.1 L1739.4 968.1 L1739.6 970.0 L1739.7 972.0 L1742.5 900.0 L1745.0 840.0 L1747.0 799.5 L1749.0 840.0 L1750.5 861.0 L1751.1 859.1 L1751.6 857.1 L1752.1 855.1 L1752.6 853.2 L1753.3 851.4 L1754.0 850.0 L1755.2 848.3 L1756.6 847.0 L1758.0 846.5 L1759.4 846.9 L1760.8 848.2 L1762.0 850.0 L1762.4 851.0 L1762.8 852.3 L1763.1 853.7 L1763.4 855.3 L1763.6 857.0 L1763.8 858.8 L1764.0 860.8 L1764.1 862.8 L1764.2 864.9 L1764.3 867.1 L1764.4 869.3 L1764.5 871.5 L1764.6 873.7 L1764.7 875.8 L1764.9 877.9 L1765.0 880.0 L1765.1 881.8 L1765.3 883.6 L1765.4 885.5 L1765.5 887.4 L1765.7 889.3 L1765.8 891.3 L1765.9 893.2 L1766.0 895.2 L1766.1 897.2 L1766.3 899.2 L1766.4 901.2 L1766.5 903.2 L1766.6 905.1 L1766.7 907.1 L1766.8 909.0 L1766.9 910.9 L1767.0 912.8 L1767.1 914.7 L1767.3 916.5 L1767.4 918.3 L1767.5 920.0 L1767.6 922.0 L1767.8 924.0 L1767.9 925.9 L1768.1 927.8 L1768.2 929.7 L1768.4 931.5 L1768.5 933.3 L1768.7 935.2 L1768.8 936.9 L1769.0 938.7 L1769.1 940.5 L1769.3 942.3 L1769.4 944.2 L1769.6 946.0 L1769.7 944.1 L1769.9 942.2 L1770.0 940.3 L1770.1 938.4 L1770.2 936.4 L1770.4 934.5 L1770.5 932.6 L1770.6 930.7 L1770.7 928.8 L1770.9 926.8 L1771.0 924.9 L1771.1 923.0 L1771.3 921.1 L1771.4 919.2 L1771.5 917.4 L1771.6 915.5 L1771.8 913.7 L1771.9 911.8 L1772.0 910.0 L1772.1 907.9 L1772.2 905.7 L1772.3 903.4 L1772.4 900.9 L1772.5 898.5 L1772.6 896.0 L1772.7 893.5 L1772.8 891.2 L1772.9 888.9 L1773.0 886.8 L1773.1 884.9 L1773.2 883.3 L1773.4 881.9 L1773.6 880.9 L1773.8 880.3 L1774.0 880.0 L1774.6 880.9 L1775.3 882.9 L1776.0 885.0 L1776.1 883.0 L1776.3 881.0 L1776.4 878.9 L1776.5 876.9 L1776.6 874.7 L1776.7 872.6 L1776.9 870.5 L1777.0 868.4 L1777.1 866.3 L1777.2 864.2 L1777.4 862.2 L1777.5 860.2 L1777.6 858.3 L1777.8 856.5 L1778.0 854.7 L1778.1 853.0 L1778.3 851.5 L1778.5 850.0 L1778.9 847.7 L1779.3 845.7 L1779.7 843.8 L1780.1 842.1 L1780.6 840.3 L1781.0 838.5 L1781.4 840.4 L1781.9 842.1 L1782.3 843.9 L1782.8 845.8 L1783.2 847.8 L1783.5 850.0 L1783.7 851.5 L1783.8 853.1 L1783.9 854.7 L1784.0 856.5 L1784.1 858.3 L1784.2 860.2 L1784.2 862.1 L1784.3 864.1 L1784.3 866.1 L1784.3 868.1 L1784.4 870.1 L1784.4 872.2 L1784.4 874.2 L1784.5 876.2 L1784.5 878.1 L1784.6 880.0 L1785.4 928.5 L1786.8 870.0 L1788.3 832.0 L1789.5 900.0 L1790.5 880.0 L1792.3 877.1 L1793.5 877.0 L1794.8 877.7 L1796.0 875.8 L1797.3 875.4 L1798.5 875.2 L1799.8 873.5 L1801.0 874.2 L1802.3 874.2 L1803.5 874.3 L1804.8 871.7 L1806.0 871.8 L1807.3 870.6 L1808.5 872.3 L1809.8 871.4 L1811.0 868.7 L1812.3 871.2 L1813.5 870.6 L1814.8 869.0 L1816.0 868.3 L1817.3 866.3 L1818.5 865.2 L1819.8 866.2 L1821.0 864.1 L1822.3 863.9 L1823.5 863.4 L1824.7 862.1 L1826.0 862.9 L1827.2 862.2 L1828.5 862.8 L1829.7 861.2 L1831.0 860.8 L1832.2 859.6 L1833.5 859.4 L1834.7 858.0 L1836.0 856.6 L1837.2 858.2 L1838.5 857.4 L1839.7 856.2 L1841.0 855.0 L1842.2 853.0 L1843.5 852.1 L1844.7 851.7 L1846.0 850.4 L1847.2 852.0 L1848.5 850.2 L1849.7 851.0 L1851.0 848.9 L1852.2 850.1 L1853.5 849.1 L1854.7 845.8 L1856.0 845.7 L1857.2 847.2 L1858.5 845.1 L1859.7 845.9 L1861.0 843.3 L1862.2 841.5 L1863.5 842.6 L1864.7 842.3 L1866.0 839.9 L1867.2 838.6 L1868.5 838.7 L1869.7 840.0 L1871.0 838.7 L1872.2 836.0 L1873.5 835.7 L1874.7 834.5 L1876.0 833.7 L1877.2 835.4 L1878.5 832.7 L1879.7 833.3 L1880.9 832.4 L1882.2 831.0 L1883.4 832.1 L1884.7 829.6 L1885.9 830.7 L1887.1 828.5 L1888.4 828.9 L1889.6 827.6 L1890.9 827.2 L1892.1 828.9 L1893.3 828.1 L1894.6 826.2 L1895.8 827.7 L1897.1 825.2 L1898.3 825.5 L1899.6 826.7 L1900.8 825.7 L1902.1 823.6 L1903.3 826.2 L1904.6 823.4 L1905.8 823.4 L1907.1 824.9 L1908.3 823.3 L1909.6 823.1 L1910.8 822.2 L1912.1 822.1 L1913.3 823.6 L1914.6 822.4 L1915.8 823.4 L1917.1 822.5 L1918.3 822.8 L1919.6 824.5 L1920.8 823.0 L1922.1 823.4 L1923.3 824.4 L1924.6 822.6 L1925.8 823.0 L1927.1 825.9 L1928.3 826.1 L1929.6 824.7 L1930.8 825.2 L1932.1 827.7 L1933.3 829.0 L1934.6 827.3 L1935.8 829.0 L1937.1 830.1 L1938.3 831.2 L1939.6 832.4 L1940.8 833.6 L1942.0 834.9 L1943.1 836.3 L1944.2 837.9 L1945.3 839.5 L1946.3 841.3 L1947.3 843.0 L1948.3 844.9 L1949.1 846.4 L1949.8 848.0 L1950.5 849.6 L1951.2 851.3 L1951.9 853.0 L1952.6 854.7 L1953.3 856.5 L1953.9 858.2 L1954.5 859.9 L1955.1 861.7 L1955.7 863.6 L1956.2 865.4 L1956.7 867.2 L1957.1 869.1 L1957.6 871.0 L1958.1 872.9 L1958.7 874.9 L1959.2 876.6 L1959.6 878.4 L1960.1 880.2 L1960.6 882.2 L1961.1 884.1 L1961.6 886.0 L1962.1 887.9 L1962.7 889.8 L1963.2 891.6 L1963.8 893.2 L1964.4 894.7 L1965.0 896.0 L1965.9 897.8 L1966.9 899.6 L1968.0 901.1 L1969.0 902.1 L1970.0 902.5 L1971.0 902.1 L1972.0 901.1 L1973.0 899.6 L1974.0 897.8 L1974.9 896.0 L1975.5 894.6 L1976.0 892.9 L1976.5 891.2 L1977.0 889.2 L1977.4 887.2 L1977.8 885.1 L1978.2 883.0 L1978.6 880.9 L1979.0 878.8 L1979.4 876.8 L1979.9 874.9 L1980.4 872.9 L1980.8 870.8 L1981.2 868.6 L1981.7 866.4 L1982.1 864.3 L1982.6 862.3 L1983.1 860.4 L1983.6 858.7 L1984.2 857.2 L1984.9 856.0 L1986.3 854.4 L1987.8 853.4 L1989.3 853.0 L1990.8 853.4 L1992.4 854.5 L1993.7 856.0 L1994.4 857.2 L1994.9 858.6 L1995.4 860.3 L1995.9 862.1 L1996.2 864.0 L1996.6 866.0 L1997.0 868.0 L1997.4 869.9 L1997.8 871.6 L1998.1 873.3 L1998.5 875.0 L1998.8 876.8 L1999.1 878.7 L1999.5 880.5 L1999.8 882.4 L2000.1 884.2 L2000.4 886.1 L2000.8 888.0 L2001.1 889.8 L2001.4 891.7 L2001.8 893.7 L2002.1 895.7 L2002.5 897.8 L2002.8 899.8 L2003.1 901.8 L2003.5 903.8 L2003.8 905.7 L2004.2 907.6 L2004.5 909.4 L2004.9 911.0 L2005.4 913.0 L2005.8 915.0 L2006.2 916.8 L2006.7 918.5 L2007.3 920.1 L2008.0 921.5 L2009.0 923.0 L2010.1 924.5 L2011.2 925.6 L2012.4 926.0 L2013.6 925.5 L2014.9 924.3 L2016.2 922.6 L2017.4 921.0 L2018.3 919.8 L2019.1 918.4 L2019.9 917.0 L2020.7 915.5 L2021.6 914.0 L2022.4 912.3 L2023.2 910.7 L2023.9 909.0 L2024.7 907.2 L2025.5 905.3 L2026.3 903.4 L2027.1 901.5 L2027.9 899.6 L2028.8 897.7 L2029.8 896.0 L2030.8 894.4 L2031.8 892.8 L2032.9 891.2 L2034.0 889.7 L2035.2 888.2 L2036.3 886.7 L2037.5 885.2 L2038.7 883.8 L2039.8 882.3 L2041.0 880.7 L2042.3 879.2 L2043.6 877.7 L2044.9 876.3 L2046.1 874.8 L2047.4 873.2 L2048.6 871.6 L2049.8 869.9 L2050.8 868.4 L2051.7 866.8 L2052.6 865.1 L2053.5 863.4 L2054.4 861.6 L2055.3 859.9 L2056.2 858.1 L2057.1 856.3 L2058.0 854.5 L2058.9 852.8 L2059.8 851.1 L2060.7 849.5 L2061.6 847.9 L2062.5 846.3 L2063.4 844.7 L2064.3 843.2 L2065.3 841.6 L2066.2 840.0 L2067.1 838.5 L2068.0 836.9 L2068.9 835.3 L2069.8 833.7 L2070.7 832.0 L2071.6 830.3 L2072.6 828.5 L2073.5 826.8 L2074.4 825.0 L2075.3 823.2 L2076.3 821.5 L2077.2 819.8 L2078.0 818.1 L2078.9 816.5 L2079.8 815.0 L2080.8 813.3 L2081.7 811.6 L2082.6 809.9 L2083.5 808.2 L2084.5 806.7 L2085.4 805.2 L2086.3 804.0 L2087.2 803.0 L2088.7 801.7 L2090.2 800.7 L2091.6 800.5 L2092.8 801.1 L2094.0 802.5 L2095.1 804.2 L2096.0 806.2 L2096.5 807.6 L2096.9 809.1 L2097.2 810.8 L2097.4 812.6 L2097.6 814.5 L2097.8 816.5 L2097.9 818.6 L2098.1 820.8 L2098.2 823.0 L2098.3 825.2 L2098.5 827.4 L2098.6 829.1 L2098.8 830.9 L2098.9 832.7 L2099.0 834.5 L2099.1 836.4 L2099.2 838.3 L2099.3 840.2 L2099.4 842.2 L2099.5 844.1 L2099.6 846.2 L2099.7 848.2 L2099.8 850.2 L2099.8 852.3 L2099.9 854.4 L2100.0 856.5 L2100.1 858.6 L2100.1 860.7 L2100.2 862.8 L2100.3 864.9 L2100.4 866.8 L2100.4 868.7 L2100.5 870.6 L2100.6 872.5 L2100.6 874.4 L2100.7 876.4 L2100.7 878.4 L2100.8 880.4 L2100.9 882.4 L2100.9 884.4 L2101.0 886.4 L2101.0 888.4 L2101.1 890.5 L2101.1 892.5 L2101.2 894.6 L2101.2 896.6 L2101.3 898.6 L2101.3 900.7 L2101.4 902.7 L2101.4 904.8 L2101.4 906.8 L2101.5 908.8 L2101.5 910.8 L2101.6 912.8 L2101.6 914.8 L2101.6 916.7 L2101.7 918.7 L2101.7 920.6 L2101.7 922.6 L2101.8 924.5 L2101.8 926.4 L2101.8 928.4 L2101.8 930.3 L2101.9 932.2 L2101.9 934.1 L2101.9 936.1 L2101.9 938.0 L2102.0 939.9 L2102.0 941.8 L2102.0 943.8 L2102.0 945.7 L2102.0 947.6 L2102.1 949.5 L2102.1 951.5 L2102.1 953.4 L2102.1 955.3 L2102.1 957.2 L2102.2 959.1 L2102.2 961.1 L2102.2 963.0 L2102.3 961.1 L2102.4 959.2 L2102.5 957.2 L2102.6 955.3 L2102.7 953.4 L2102.8 951.4 L2102.9 949.5 L2103.0 947.6 L2103.1 945.7 L2103.2 943.7 L2103.3 941.8 L2103.3 939.9 L2103.4 937.9 L2103.5 936.0 L2103.6 934.1 L2103.7 932.2 L2103.8 930.2 L2103.9 928.3 L2104.0 926.4 L2104.1 924.5 L2104.2 922.6 L2104.3 920.7 L2104.3 918.8 L2104.4 916.9 L2104.5 915.0 L2104.6 913.0 L2104.7 911.0 L2104.7 909.1 L2104.8 907.1 L2104.9 905.2 L2104.9 903.2 L2105.0 901.3 L2105.1 899.3 L2105.1 897.4 L2105.2 895.5 L2105.2 893.5 L2105.3 891.6 L2105.4 889.7 L2105.4 887.7 L2105.5 885.8 L2105.5 883.8 L2105.6 881.9 L2105.7 879.9 L2105.7 877.9 L2105.8 876.0 L2105.9 874.0 L2105.9 872.0 L2106.0 870.0 L2106.1 868.1 L2106.1 866.2 L2106.2 864.3 L2106.2 862.4 L2106.3 860.5 L2106.4 858.5 L2106.4 856.6 L2106.5 854.6 L2106.5 852.7 L2106.6 850.7 L2106.6 848.7 L2106.7 846.8 L2106.7 844.8 L2106.8 842.8 L2106.9 840.9 L2106.9 838.9 L2107.0 837.0 L2107.1 835.0 L2107.2 833.1 L2107.3 831.2 L2107.4 829.3 L2107.5 827.4 L2107.6 825.5 L2107.7 823.7 L2107.9 821.8 L2108.0 820.0 L2108.2 817.8 L2108.4 815.5 L2108.6 813.1 L2108.8 810.5 L2109.1 807.9 L2109.3 805.3 L2109.6 802.7 L2109.8 800.1 L2110.1 797.5 L2110.4 795.0 L2110.7 792.6 L2110.9 790.4 L2111.2 788.3 L2111.5 786.4 L2111.7 784.7 L2112.0 783.3 L2112.2 782.1 L2112.5 781.2 L2112.7 780.7 L2112.9 780.5 L2113.1 780.7 L2113.3 781.2 L2113.5 782.1 L2113.6 783.3 L2113.8 784.7 L2114.0 786.4 L2114.1 788.3 L2114.3 790.4 L2114.5 792.6 L2114.6 795.0 L2114.8 797.5 L2114.9 800.1 L2115.0 802.7 L2115.2 805.3 L2115.3 807.9 L2115.5 810.5 L2115.6 813.1 L2115.7 815.5 L2115.9 817.8 L2116.0 820.0 L2116.1 821.8 L2116.2 823.6 L2116.3 825.5 L2116.4 827.3 L2116.6 829.2 L2116.7 831.0 L2116.8 832.9 L2116.9 834.8 L2117.0 836.7 L2117.1 838.6 L2117.2 840.5 L2117.3 842.4 L2117.4 844.3 L2117.4 846.3 L2117.5 848.2 L2117.6 850.2 L2117.7 852.1 L2117.8 854.1 L2117.9 856.1 L2118.0 858.0 L2118.1 860.0 L2118.2 862.0 L2118.2 864.0 L2118.3 866.0 L2118.4 868.0 L2118.5 870.0 L2118.6 871.9 L2118.6 873.8 L2118.7 875.7 L2118.8 877.6 L2118.9 879.6 L2118.9 881.6 L2119.0 883.6 L2119.1 885.7 L2119.1 887.7 L2119.2 889.7 L2119.2 891.8 L2119.3 893.9 L2119.4 895.9 L2119.4 898.0 L2119.5 900.0 L2119.5 902.1 L2119.6 904.1 L2119.7 906.2 L2119.7 908.2 L2119.8 910.2 L2119.8 912.1 L2119.9 914.1 L2120.0 916.0 L2120.0 917.9 L2120.1 919.7 L2120.2 921.5 L2120.2 923.3 L2120.3 925.1 L2120.4 926.8 L2120.4 928.4 L2120.5 930.0 L2120.6 932.2 L2120.7 934.3 L2120.8 936.3 L2120.9 938.2 L2121.0 940.1 L2121.2 942.0 L2121.3 943.8 L2121.4 945.5 L2121.5 947.3 L2121.6 949.1 L2121.7 950.8 L2121.9 952.6 L2122.0 954.3 L2122.1 956.2 L2122.2 958.0 L2122.3 956.1 L2122.4 954.1 L2122.5 952.2 L2122.6 950.3 L2122.7 948.3 L2122.8 946.4 L2122.9 944.5 L2123.0 942.6 L2123.1 940.7 L2123.3 938.8 L2123.4 936.8 L2123.5 934.9 L2123.6 933.0 L2123.7 931.0 L2123.8 929.1 L2123.9 927.1 L2124.0 925.1 L2124.1 923.1 L2124.2 921.1 L2124.3 919.1 L2124.4 917.1 L2124.5 915.0 L2124.6 913.1 L2124.7 911.3 L2124.8 909.4 L2124.9 907.5 L2124.9 905.6 L2125.0 903.6 L2125.1 901.7 L2125.2 899.7 L2125.3 897.7 L2125.4 895.7 L2125.5 893.8 L2125.5 891.8 L2125.6 889.8 L2125.7 887.8 L2125.8 885.8 L2125.9 883.7 L2126.0 881.7 L2126.1 879.7 L2126.2 877.7 L2126.2 875.7 L2126.3 873.7 L2126.4 871.7 L2126.5 869.8 L2126.6 867.8 L2126.7 865.8 L2126.8 863.9 L2126.9 861.9 L2127.0 860.0 L2127.1 858.0 L2127.2 856.0 L2127.3 854.0 L2127.4 852.1 L2127.5 850.0 L2127.6 848.0 L2127.7 846.0 L2127.8 844.0 L2127.9 842.0 L2128.0 840.0 L2128.1 838.0 L2128.2 836.1 L2128.4 834.1 L2128.5 832.1 L2128.6 830.2 L2128.7 828.2 L2128.8 826.3 L2128.9 824.4 L2129.1 822.5 L2129.2 820.6 L2129.3 818.8 L2129.4 817.0 L2129.6 815.2 L2129.7 813.4 L2129.9 811.7 L2130.0 810.0 L2130.2 807.9 L2130.4 805.8 L2130.6 803.8 L2130.8 801.8 L2131.0 799.9 L2131.2 798.0 L2131.5 796.1 L2131.7 794.3 L2131.9 792.4 L2132.1 790.6 L2132.4 788.8 L2132.6 786.9 L2132.8 785.1 L2133.1 783.3 L2133.3 781.4 L2133.5 779.5 L2136.0 815.0 L2137.5 870.0 L2139.5 930.0 L2141.4 992.0 L2142.0 880.0 L2142.6 777.0 L2144.0 860.0 L2146.0 905.0 L2148.0 885.0 L2149.0 883.7 L2150.1 882.5 L2151.1 881.2 L2152.1 879.8 L2152.9 878.3 L2153.7 876.7 L2154.5 875.0 L2155.3 873.2 L2156.1 871.6 L2157.0 870.0 L2158.1 868.2 L2159.4 866.2 L2160.6 864.4 L2161.8 863.2 L2162.8 862.8 L2163.5 863.4 L2164.0 864.6 L2164.5 866.4 L2164.9 868.6 L2165.3 871.0 L2165.7 873.5 L2166.1 875.9 L2166.5 878.0 L2166.9 879.8 L2167.3 881.7 L2167.7 883.5 L2168.2 885.4 L2168.6 887.3 L2169.0 889.2 L2169.4 891.0 L2169.8 892.9 L2170.2 894.8 L2170.5 892.9 L2170.7 891.0 L2171.0 889.1 L2171.3 887.2 L2171.5 885.3 L2171.8 883.4 L2172.1 881.5 L2172.3 879.5 L2172.6 877.6 L2172.8 875.8 L2173.1 873.9 L2173.4 872.1 L2173.7 870.2 L2173.9 868.5 L2174.2 866.7 L2174.5 865.0 L2174.8 863.0 L2175.2 861.0 L2175.6 859.1 L2175.9 857.3 L2176.3 855.4 L2176.7 853.6 L2177.0 851.8 L2177.4 850.0 L2177.8 848.2 L2178.1 846.3 L2178.5 844.5 L2178.7 846.4 L2178.9 848.4 L2179.1 850.3 L2179.3 852.2 L2179.5 854.1 L2179.7 856.0 L2179.9 857.9 L2180.1 859.8 L2180.3 861.8 L2180.4 863.8 L2180.6 865.8 L2180.8 867.9 L2181.0 870.0 L2181.1 871.7 L2181.3 873.5 L2181.4 875.3 L2181.6 877.2 L2181.7 879.1 L2181.8 881.0 L2181.9 882.9 L2182.1 884.8 L2182.2 886.8 L2182.3 888.8 L2182.5 890.7 L2182.6 892.7 L2182.7 894.7 L2182.8 896.7 L2183.0 898.7 L2183.1 900.7 L2183.2 902.6 L2183.3 904.6 L2183.5 906.6 L2183.6 908.5 L2186.2 864.0 L2186.6 865.8 L2187.0 867.6 L2187.4 869.4 L2187.9 871.2 L2188.3 873.0 L2188.7 874.8 L2189.1 876.6 L2189.6 878.3 L2190.0 880.0 L2190.5 881.9 L2191.1 883.8 L2191.7 885.7 L2192.3 887.5 L2192.8 889.3 L2193.4 891.2 L2194.0 893.0 L2197.0 860.0 L2200.1 811.0 L2201.4 922.3 L2204.0 880.0 L2208.3 869.9 L2208.6 871.8 L2208.9 873.7 L2209.2 875.6 L2209.5 877.5 L2209.8 879.4 L2210.1 881.3 L2210.4 883.2 L2210.6 885.1 L2210.9 887.0 L2211.2 889.0 L2211.5 891.0 L2211.7 893.0 L2212.0 895.0 L2212.2 896.8 L2212.4 898.6 L2212.6 900.5 L2212.8 902.3 L2213.0 904.2 L2213.2 906.1 L2213.4 908.0 L2213.5 909.9 L2213.7 911.9 L2213.9 913.8 L2214.1 915.7 L2214.2 917.7 L2214.4 919.6 L2214.6 921.5 L2214.7 923.5 L2214.9 925.4 L2215.1 927.3 L2215.2 925.3 L2215.3 923.4 L2215.5 921.4 L2215.6 919.4 L2215.7 917.4 L2215.8 915.4 L2216.0 913.4 L2216.1 911.4 L2216.2 909.4 L2216.3 907.4 L2216.4 905.4 L2216.6 903.4 L2216.7 901.4 L2216.8 899.5 L2217.0 897.5 L2217.1 895.6 L2217.2 893.7 L2217.4 891.9 L2217.5 890.0 L2217.7 888.0 L2217.8 885.9 L2218.0 884.0 L2218.2 882.0 L2218.3 880.1 L2218.5 878.1 L2218.7 876.2 L2218.9 874.3 L2219.0 872.4 L2219.2 870.5 L2219.4 868.6 L2219.6 866.7 L2219.7 864.8 L2219.9 862.9 L2220.1 861.0 L2224.0 866.0 L2227.6 918.5 L2227.8 916.5 L2228.0 914.5 L2228.3 912.5 L2228.5 910.5 L2228.7 908.4 L2228.9 906.4 L2229.1 904.4 L2229.3 902.3 L2229.5 900.3 L2229.7 898.3 L2229.9 896.3 L2230.2 894.3 L2230.4 892.4 L2230.7 890.5 L2230.9 888.6 L2231.2 886.8 L2231.5 885.0 L2231.9 883.0 L2232.3 881.0 L2232.7 879.0 L2233.1 877.1 L2233.5 875.3 L2234.0 873.5 L2234.4 871.6 L2234.9 869.8 L2235.4 868.0 L2235.8 866.2 L2236.3 864.4 L2236.7 862.5 L2240.0 868.0 L2242.5 899.8 L2245.0 870.0 L2248.0 864.5 L2248.8 914.8 L2251.3 883.6 L2252.0 882.2 L2253.4 882.5 L2254.9 881.5 L2256.3 880.9 L2257.5 877.8 L2258.8 877.0 L2260.0 875.7 L2261.3 875.0 L2262.5 875.6 L2263.7 872.7 L2265.0 873.0 L2266.2 871.0 L2267.5 870.2 L2268.7 869.7 L2270.0 869.7 L2271.2 867.7 L2272.5 864.6 L2273.7 864.1 L2275.0 862.5 L2276.2 863.7 L2277.5 862.4 L2278.7 861.2 L2280.0 860.2 L2281.2 858.8 L2282.5 859.1 L2283.7 858.3 L2285.0 856.2 L2286.2 858.7 L2287.5 858.1 L2288.7 859.6 L2290.0 859.5 L2291.2 859.7 L2292.4 859.8 L2293.7 860.3 L2294.9 860.3 L2296.2 859.9 L2297.4 862.5 L2298.7 862.8 L2299.9 862.9 L2301.2 861.5 L2302.4 860.5 L2303.7 860.7 L2304.9 857.1 L2306.2 857.1 L2307.4 854.7 L2308.7 852.1 L2309.9 850.5 L2311.3 850.6 L2312.7 848.7 L2314.1 848.4 L2315.5 847.8 L2316.9 847.4 L2318.3 846.8 L2319.7 848.2 L2321.1 847.7 L2322.3 850.2 L2323.6 852.6 L2324.8 855.6 L2326.1 857.2 L2327.3 862.2 L2328.6 866.3 L2329.8 867.6 L2331.1 871.8 L2332.3 875.5 L2333.6 875.6 L2334.8 878.9 L2336.0 883.0" fill="none" stroke="#0000ff" stroke-width="4.8" stroke-linejoin="round" stroke-linecap="butt" />
<path d="M266.2 1468.5 L267.5 1194.2 L268.2 796.8 L270.0 633.8 L271.5 605.8 L286.8 650.0 L301.8 604.5 L316.8 623.8 L331.7 650.0 L346.7 704.5 L361.7 737.0 L376.7 766.8 L391.6 789.8 L406.6 813.0 L421.6 831.0 L436.6 857.0 L451.5 883.4 L466.5 927.0 L481.5 1001.0 L496.5 1150.3 L511.4 431.5 L513.0 130.2 L514.5 100.5 L515.9 201.2 L518.0 308.5 L519.2 399.1 L520.5 466.0 L521.8 513.0 L523.2 548.8 L524.8 573.8 L526.4 591.8 L541.4 662.4 L556.4 569.2 L571.3 670.0 L586.3 800.6 L601.3 800.4 L616.3 781.1 L632.8 754.0 L632.8 730.3 L638.4 712.8 L640.0 672.9 L647.1 693.7 L648.4 701.0 L650.3 714.7 L650.9 750.3 L652.1 802.0 L653.8 858.3 L654.6 896.4 L656.5 912.6 L660.2 902.0 L661.2 887.6 L676.2 773.4 L691.2 687.0 L706.1 932.5 L721.1 957.0 L736.1 967.0 L751.1 756.4 L766.0 738.6 L781.0 804.4 L796.0 921.0 L811.0 836.0 L825.9 831.0 L840.9 823.0 L855.9 817.3 L870.9 812.1 L885.8 798.3 L900.8 795.0 L915.8 788.8 L930.8 780.5 L945.7 772.5 L960.7 767.5 L975.7 767.5 L990.7 771.2 L1005.6 759.5 L1020.6 759.2 L1035.6 759.2 L1050.6 759.2 L1065.6 760.0 L1080.5 760.5 L1095.5 763.0 L1110.5 767.5 L1125.5 772.5 L1140.4 781.2 L1155.4 792.0 L1170.4 805.0 L1185.4 826.2 L1200.3 839.3 L1215.3 864.0 L1230.3 890.7 L1245.3 923.9 L1260.2 963.9 L1275.2 1005.0 L1290.2 1030.7 L1305.2 1019.1 L1320.1 937.4 L1335.1 838.5 L1350.1 774.9 L1365.1 776.1 L1380.0 826.7 L1395.0 903.9 L1410.0 930.5 L1425.0 836.1 L1440.0 737.4 L1454.9 704.0 L1469.9 709.0 L1484.9 717.0 L1499.9 717.3 L1514.8 775.5 L1529.8 899.9 L1544.8 669.6 L1559.8 599.3 L1574.7 994.5 L1589.7 854.9 L1604.7 958.2 L1619.7 868.6 L1634.6 913.3 L1649.6 909.5 L1664.6 937.3 L1679.6 880.0 L1694.5 916.0 L1709.5 934.0 L1724.5 876.7 L1739.5 990.6 L1754.4 888.2 L1769.4 958.6 L1784.4 901.7 L1799.4 902.3 L1814.4 898.6 L1829.3 891.1 L1844.3 882.1 L1859.3 885.1 L1874.3 869.9 L1889.2 862.4 L1904.2 861.4 L1919.2 859.6 L1934.2 869.6 L1949.1 897.3 L1964.1 929.8 L1979.1 893.0 L1994.1 909.8 L2009.0 958.5 L2024.0 936.0 L2039.0 917.3 L2054.0 896.7 L2068.9 876.1 L2083.9 855.5 L2098.9 935.4 L2113.9 856.8 L2128.8 859.6 L2143.8 880.0 L2158.8 929.1 L2173.8 949.1 L2188.8 932.2 L2203.7 891.1 L2218.7 915.7 L2233.7 928.3 L2248.7 914.8 L2263.6 908.5 L2278.6 914.4 L2293.6 902.9 L2308.6 898.6 L2323.5 893.6 L2338.5 870.0" fill="none" stroke="#000000" stroke-width="4.7" stroke-linejoin="round" stroke-linecap="butt" />
</g>
<g fill="#000">
<circle cx="266.2" cy="1468.5" r="7.0"/>
<circle cx="267.5" cy="1194.2" r="7.0"/>
<circle cx="268.2" cy="796.8" r="7.0"/>
<circle cx="270.0" cy="633.8" r="7.0"/>
<circle cx="271.5" cy="605.8" r="7.0"/>
<circle cx="286.8" cy="650.0" r="7.0"/>
<circle cx="301.8" cy="604.5" r="7.0"/>
<circle cx="316.8" cy="623.8" r="7.0"/>
<circle cx="331.7" cy="650.0" r="7.0"/>
<circle cx="346.7" cy="704.5" r="7.0"/>
<circle cx="361.7" cy="737.0" r="7.0"/>
<circle cx="376.7" cy="766.8" r="7.0"/>
<circle cx="391.6" cy="789.8" r="7.0"/>
<circle cx="406.6" cy="813.0" r="7.0"/>
<circle cx="421.6" cy="831.0" r="7.0"/>
<circle cx="436.6" cy="857.0" r="7.0"/>
<circle cx="451.5" cy="883.4" r="7.0"/>
<circle cx="466.5" cy="927.0" r="7.0"/>
<circle cx="481.5" cy="1001.0" r="7.0"/>
<circle cx="496.5" cy="1150.3" r="7.0"/>
<circle cx="511.4" cy="431.5" r="7.0"/>
<circle cx="513.0" cy="130.2" r="7.0"/>
<circle cx="514.5" cy="100.5" r="7.0"/>
<circle cx="515.9" cy="201.2" r="7.0"/>
<circle cx="518.0" cy="308.5" r="7.0"/>
<circle cx="519.2" cy="399.1" r="7.0"/>
<circle cx="520.5" cy="466.0" r="7.0"/>
<circle cx="521.8" cy="513.0" r="7.0"/>
<circle cx="523.2" cy="548.8" r="7.0"/>
<circle cx="524.8" cy="573.8" r="7.0"/>
<circle cx="526.4" cy="591.8" r="7.0"/>
<circle cx="541.4" cy="662.4" r="7.0"/>
<circle cx="556.4" cy="569.2" r="7.0"/>
<circle cx="571.3" cy="670.0" r="7.0"/>
<circle cx="586.3" cy="800.6" r="7.0"/>
<circle cx="601.3" cy="800.4" r="7.0"/>
<circle cx="616.3" cy="781.1" r="7.0"/>
<circle cx="632.8" cy="754.0" r="7.0"/>
<circle cx="632.8" cy="730.3" r="7.0"/>
<circle cx="638.4" cy="712.8" r="7.0"/>
<circle cx="640.0" cy="672.9" r="7.0"/>
<circle cx="647.1" cy="693.7" r="7.0"/>
<circle cx="648.4" cy="701.0" r="7.0"/>
<circle cx="650.3" cy="714.7" r="7.0"/>
<circle cx="650.9" cy="750.3" r="7.0"/>
<circle cx="652.1" cy="802.0" r="7.0"/>
<circle cx="653.8" cy="858.3" r="7.0"/>
<circle cx="654.6" cy="896.4" r="7.0"/>
<circle cx="656.5" cy="912.6" r="7.0"/>
<circle cx="660.2" cy="902.0" r="7.0"/>
<circle cx="661.2" cy="887.6" r="7.0"/>
<circle cx="676.2" cy="773.4" r="7.0"/>
<circle cx="691.2" cy="687.0" r="7.0"/>
<circle cx="706.1" cy="932.5" r="7.0"/>
<circle cx="721.1" cy="957.0" r="7.0"/>
<circle cx="736.1" cy="967.0" r="7.0"/>
<circle cx="751.1" cy="756.4" r="7.0"/>
<circle cx="766.0" cy="738.6" r="7.0"/>
<circle cx="781.0" cy="804.4" r="7.0"/>
<circle cx="796.0" cy="921.0" r="7.0"/>
<circle cx="811.0" cy="836.0" r="7.0"/>
<circle cx="825.9" cy="831.0" r="7.0"/>
<circle cx="840.9" cy="823.0" r="7.0"/>
<circle cx="855.9" cy="817.3" r="7.0"/>
<circle cx="870.9" cy="812.1" r="7.0"/>
<circle cx="885.8" cy="798.3" r="7.0"/>
<circle cx="900.8" cy="795.0" r="7.0"/>
<circle cx="915.8" cy="788.8" r="7.0"/>
<circle cx="930.8" cy="780.5" r="7.0"/>
<circle cx="945.7" cy="772.5" r="7.0"/>
<circle cx="960.7" cy="767.5" r="7.0"/>
<circle cx="975.7" cy="767.5" r="7.0"/>
<circle cx="990.7" cy="771.2" r="7.0"/>
<circle cx="1005.6" cy="759.5" r="7.0"/>
<circle cx="1020.6" cy="759.2" r="7.0"/>
<circle cx="1035.6" cy="759.2" r="7.0"/>
<circle cx="1050.6" cy="759.2" r="7.0"/>
<circle cx="1065.6" cy="760.0" r="7.0"/>
<circle cx="1080.5" cy="760.5" r="7.0"/>
<circle cx="1095.5" cy="763.0" r="7.0"/>
<circle cx="1110.5" cy="767.5" r="7.0"/>
<circle cx="1125.5" cy="772.5" r="7.0"/>
<circle cx="1140.4" cy="781.2" r="7.0"/>
<circle cx="1155.4" cy="792.0" r="7.0"/>
<circle cx="1170.4" cy="805.0" r="7.0"/>
<circle cx="1185.4" cy="826.2" r="7.0"/>
<circle cx="1200.3" cy="839.3" r="7.0"/>
<circle cx="1215.3" cy="864.0" r="7.0"/>
<circle cx="1230.3" cy="890.7" r="7.0"/>
<circle cx="1245.3" cy="923.9" r="7.0"/>
<circle cx="1260.2" cy="963.9" r="7.0"/>
<circle cx="1275.2" cy="1005.0" r="7.0"/>
<circle cx="1290.2" cy="1030.7" r="7.0"/>
<circle cx="1305.2" cy="1019.1" r="7.0"/>
<circle cx="1320.1" cy="937.4" r="7.0"/>
<circle cx="1335.1" cy="838.5" r="7.0"/>
<circle cx="1350.1" cy="774.9" r="7.0"/>
<circle cx="1365.1" cy="776.1" r="7.0"/>
<circle cx="1380.0" cy="826.7" r="7.0"/>
<circle cx="1395.0" cy="903.9" r="7.0"/>
<circle cx="1410.0" cy="930.5" r="7.0"/>
<circle cx="1425.0" cy="836.1" r="7.0"/>
<circle cx="1440.0" cy="737.4" r="7.0"/>
<circle cx="1454.9" cy="704.0" r="7.0"/>
<circle cx="1469.9" cy="709.0" r="7.0"/>
<circle cx="1484.9" cy="717.0" r="7.0"/>
<circle cx="1499.9" cy="717.3" r="7.0"/>
<circle cx="1514.8" cy="775.5" r="7.0"/>
<circle cx="1529.8" cy="899.9" r="7.0"/>
<circle cx="1544.8" cy="669.6" r="7.0"/>
<circle cx="1559.8" cy="599.3" r="7.0"/>
<circle cx="1574.7" cy="994.5" r="7.0"/>
<circle cx="1589.7" cy="854.9" r="7.0"/>
<circle cx="1604.7" cy="958.2" r="7.0"/>
<circle cx="1619.7" cy="868.6" r="7.0"/>
<circle cx="1634.6" cy="913.3" r="7.0"/>
<circle cx="1649.6" cy="909.5" r="7.0"/>
<circle cx="1664.6" cy="937.3" r="7.0"/>
<circle cx="1679.6" cy="880.0" r="7.0"/>
<circle cx="1694.5" cy="916.0" r="7.0"/>
<circle cx="1709.5" cy="934.0" r="7.0"/>
<circle cx="1724.5" cy="876.7" r="7.0"/>
<circle cx="1739.5" cy="990.6" r="7.0"/>
<circle cx="1754.4" cy="888.2" r="7.0"/>
<circle cx="1769.4" cy="958.6" r="7.0"/>
<circle cx="1784.4" cy="901.7" r="7.0"/>
<circle cx="1799.4" cy="902.3" r="7.0"/>
<circle cx="1814.4" cy="898.6" r="7.0"/>
<circle cx="1829.3" cy="891.1" r="7.0"/>
<circle cx="1844.3" cy="882.1" r="7.0"/>
<circle cx="1859.3" cy="885.1" r="7.0"/>
<circle cx="1874.3" cy="869.9" r="7.0"/>
<circle cx="1889.2" cy="862.4" r="7.0"/>
<circle cx="1904.2" cy="861.4" r="7.0"/>
<circle cx="1919.2" cy="859.6" r="7.0"/>
<circle cx="1934.2" cy="869.6" r="7.0"/>
<circle cx="1949.1" cy="897.3" r="7.0"/>
<circle cx="1964.1" cy="929.8" r="7.0"/>
<circle cx="1979.1" cy="893.0" r="7.0"/>
<circle cx="1994.1" cy="909.8" r="7.0"/>
<circle cx="2009.0" cy="958.5" r="7.0"/>
<circle cx="2024.0" cy="936.0" r="7.0"/>
<circle cx="2039.0" cy="917.3" r="7.0"/>
<circle cx="2054.0" cy="896.7" r="7.0"/>
<circle cx="2068.9" cy="876.1" r="7.0"/>
<circle cx="2083.9" cy="855.5" r="7.0"/>
<circle cx="2098.9" cy="935.4" r="7.0"/>
<circle cx="2113.9" cy="856.8" r="7.0"/>
<circle cx="2128.8" cy="859.6" r="7.0"/>
<circle cx="2143.8" cy="880.0" r="7.0"/>
<circle cx="2158.8" cy="929.1" r="7.0"/>
<circle cx="2173.8" cy="949.1" r="7.0"/>
<circle cx="2188.8" cy="932.2" r="7.0"/>
<circle cx="2203.7" cy="891.1" r="7.0"/>
<circle cx="2218.7" cy="915.7" r="7.0"/>
<circle cx="2233.7" cy="928.3" r="7.0"/>
<circle cx="2248.7" cy="914.8" r="7.0"/>
<circle cx="2263.6" cy="908.5" r="7.0"/>
<circle cx="2278.6" cy="914.4" r="7.0"/>
<circle cx="2293.6" cy="902.9" r="7.0"/>
<circle cx="2308.6" cy="898.6" r="7.0"/>
<circle cx="2323.5" cy="893.6" r="7.0"/>
</g>
</g>
<rect x="239.00" y="24.35" width="2096.70" height="1444.05" fill="none" stroke="#000" stroke-width="4.5"/>
<circle cx="266.2" cy="1468.5" r="7.0" fill="#000"/>
<g id="xlabels">
<text transform="translate(238.2 1531.0) scale(1 1.037)" font-size="47.2" text-anchor="middle">22.7</text>
<text transform="translate(388.0 1531.0) scale(1 1.037)" font-size="47.2" text-anchor="middle">22.8</text>
<text transform="translate(537.7 1531.0) scale(1 1.037)" font-size="47.2" text-anchor="middle">22.9</text>
<text transform="translate(687.5 1531.0) scale(1 1.037)" font-size="47.2" text-anchor="middle">23.0</text>
<text transform="translate(837.3 1531.0) scale(1 1.037)" font-size="47.2" text-anchor="middle">23.1</text>
<text transform="translate(987.0 1531.0) scale(1 1.037)" font-size="47.2" text-anchor="middle">23.2</text>
<text transform="translate(1136.8 1531.0) scale(1 1.037)" font-size="47.2" text-anchor="middle">23.3</text>
<text transform="translate(1286.5 1531.0) scale(1 1.037)" font-size="47.2" text-anchor="middle">23.4</text>
<text transform="translate(1436.3 1531.0) scale(1 1.037)" font-size="47.2" text-anchor="middle">23.5</text>
<text transform="translate(1586.1 1531.0) scale(1 1.037)" font-size="47.2" text-anchor="middle">23.6</text>
<text transform="translate(1735.8 1531.0) scale(1 1.037)" font-size="47.2" text-anchor="middle">23.7</text>
<text transform="translate(1885.6 1531.0) scale(1 1.037)" font-size="47.2" text-anchor="middle">23.8</text>
<text transform="translate(2035.4 1531.0) scale(1 1.037)" font-size="47.2" text-anchor="middle">23.9</text>
<text transform="translate(2185.1 1531.0) scale(1 1.037)" font-size="47.2" text-anchor="middle">24.0</text>
<text transform="translate(2334.9 1531.0) scale(1 1.037)" font-size="47.2" text-anchor="middle">24.1</text>
</g>
<g id="ylabels">
<text transform="translate(211.0 1485.0) scale(1 1.037)" font-size="47.2" text-anchor="end">0.00</text>
<text transform="translate(211.0 1252.0) scale(1 1.037)" font-size="47.2" text-anchor="end">0.01</text>
<text transform="translate(211.0 1019.1) scale(1 1.037)" font-size="47.2" text-anchor="end">0.02</text>
<text transform="translate(211.0 786.2) scale(1 1.037)" font-size="47.2" text-anchor="end">0.03</text>
<text transform="translate(211.0 553.2) scale(1 1.037)" font-size="47.2" text-anchor="end">0.04</text>
<text transform="translate(211.0 320.3) scale(1 1.037)" font-size="47.2" text-anchor="end">0.05</text>
<text transform="translate(211.0 87.3) scale(1 1.037)" font-size="47.2" text-anchor="end">0.06</text>
</g>
<text transform="translate(1287.0 1600.8) scale(1 1.037)" font-size="47" text-anchor="middle">energy (eV)</text>
<text transform="translate(69.5 937.3) rotate(-90) scale(1 1.037)" font-size="46.5" text-anchor="start">cross section (a<tspan font-size="37" dy="13.5">0</tspan><tspan font-size="38" dy="-36" dx="1">2</tspan><tspan dy="22.5" dx="1.5">)</tspan></text>
<text transform="translate(1077.5 161.8) scale(1 1.037)" font-size="47.5" text-anchor="start">(1s<tspan font-size="36" dy="-23.5" dx="-2">2</tspan><tspan dy="23.5" dx="3">)</tspan><tspan font-size="36" dy="-23.5" dx="-3">1</tspan><tspan dy="23.5">S</tspan><tspan dx="-1"> --</tspan><tspan dx="2">&gt;</tspan><tspan dx="-1.2"> (1s3s)</tspan><tspan font-size="30" dy="-22.5" dx="-1">3</tspan><tspan dy="22.5" dx="2.2">S</tspan></text>
<g id="legend">
<text transform="translate(1807.8 95.8) scale(1 1.037)" font-size="46.6" text-anchor="start">Zeng <tspan font-style="italic" dx="3">et al.</tspan></text>
<text transform="translate(1807.8 167.0) scale(1 1.037)" font-size="46.6" text-anchor="start">BSR-69</text>
<text transform="translate(1807.8 237.0) scale(1 1.037)" font-size="46.6" text-anchor="start">CCC-183</text>
<line x1="2145" y1="80.5" x2="2280" y2="80.5" stroke="#ff0000" stroke-width="5"/><line x1="2145" y1="151" x2="2280" y2="151" stroke="#0000ff" stroke-width="4"/><line x1="2145" y1="221" x2="2280" y2="221" stroke="#000" stroke-width="4.2"/><circle cx="2212" cy="221" r="6.9" fill="#000"/>
</g>
</svg></body></html>
